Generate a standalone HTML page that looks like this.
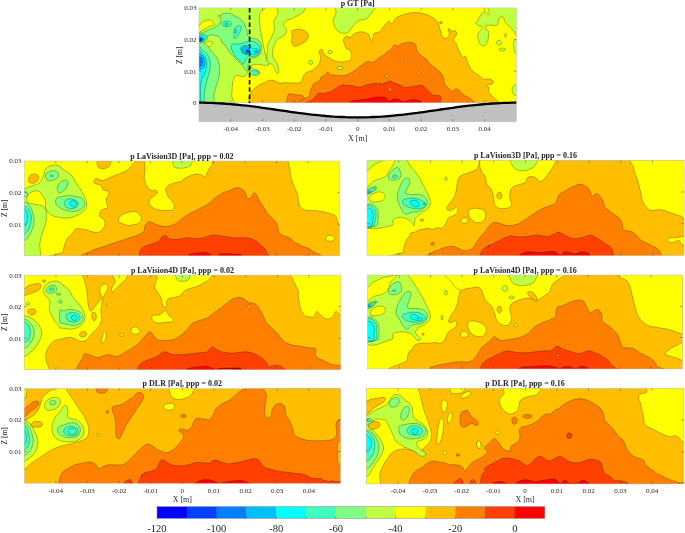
<!DOCTYPE html><html><head><meta charset="utf-8"><style>html,body{margin:0;padding:0;background:#fff;width:685px;height:533px;overflow:hidden}svg{display:block;will-change:transform}text{font-family:"Liberation Serif",serif;fill:#262626}</style></head><body>
<svg width="685" height="533" viewBox="0 0 685 533">
<defs>
<clipPath id="cGT"><rect x="199" y="7.9" width="317.4" height="94.8"/></clipPath>
<clipPath id="cL1"><rect x="24.2" y="161" width="315.5" height="94.8"/></clipPath>
<clipPath id="cR1"><rect x="367" y="160.3" width="317.1" height="95.1"/></clipPath>
<clipPath id="cL2"><rect x="24.2" y="275.1" width="316.6" height="94.6"/></clipPath>
<clipPath id="cR2"><rect x="367.7" y="275" width="314.8" height="93.9"/></clipPath>
<clipPath id="cL3"><rect x="24.2" y="388.4" width="316.2" height="94.8"/></clipPath>
<clipPath id="cR3"><rect x="366.4" y="388.2" width="317.5" height="95.7"/></clipPath>
</defs>
<g clip-path="url(#cGT)">
<rect x="199" y="7.9" width="317.4" height="94.8" fill="#ffff00"/>
<path d="M195.5 5 C206.3 -11.6 249.8 3.3 260.4 5 C271.1 6.7 259.5 11.6 259.4 15 C259.3 18.3 259.7 22.1 259.9 25 C260.2 27.9 260.5 30 260.9 32.5 C261.3 34.9 262 37.7 262.4 39.9 C262.8 42.2 263 44.1 263.4 46.2 C263.8 48.3 264.4 50.3 264.9 52.4 C265.4 54.5 265.9 56.8 266.6 58.7 C267.4 60.6 269.4 62.8 269.1 63.9 C268.9 65 267.3 65.3 265.4 65.4 C263.5 65.5 260.2 64.4 257.9 64.4 C255.6 64.4 253.1 64.9 251.7 65.4 C250.2 65.9 250.1 65.8 249.2 67.4 C248.3 69 247.4 73.4 246.2 74.9 C245 76.4 243.4 76.3 241.9 76.4 C240.5 76.5 238.7 75.2 237.4 75.4 C236.2 75.6 235.2 76.6 234.4 77.6 C233.7 78.6 233.3 79.7 232.9 81.4 C232.6 83.1 232.4 85.5 232.2 87.9 C232 90.2 232 92.5 231.7 95.4 C231.5 98.2 236.7 103.3 230.7 104.8 C224.7 106.4 201.4 121.5 195.5 104.8 C189.6 88.2 184.7 21.6 195.5 5Z" fill="#bfff40" stroke="#000" stroke-opacity=".55" stroke-width=".5"/>
<path d="M280.2 2.5 C284.8 0.6 301.1 1.5 305.3 2.5 C309.5 3.5 305.6 6.8 305.3 8.4 C305 10 304.4 10.8 303.4 11.9 C302.4 13 300.6 14.1 299 15 C297.4 16 295.5 16.8 294 17.6 C292.5 18.3 291.4 19 290.2 19.4 C289.1 19.9 288 19.5 287.1 20.1 C286.1 20.6 285.2 21.6 284.6 22.6 C283.9 23.5 283.2 24.9 283.3 25.7 C283.4 26.6 284.6 27 285.2 27.6 C285.8 28.2 286.6 28.4 286.7 29.5 C286.8 30.5 286.7 32.6 285.8 33.9 C284.9 35.1 282.8 36.1 281.4 37 C280.1 38 278.7 38.6 277.7 39.5 C276.6 40.5 275.9 41.3 275.2 42.7 C274.4 44 273.7 46 273.3 47.7 C272.9 49.4 272.6 51 272.6 52.7 C272.6 54.4 272.7 56.3 273.3 57.7 C273.8 59.2 275 60.2 275.8 61.5 C276.5 62.8 277.1 63.8 277.7 65.3 C278.2 66.7 278.8 68.9 278.9 70.3 C279 71.6 278.7 73 278.3 73.4 C277.9 73.8 277 73.7 276.4 72.8 C275.8 71.9 275.3 69.2 274.5 67.8 C273.8 66.4 273 65 272 64.3 C271.1 63.5 269.7 64 268.9 63.4 C268 62.7 267.3 61.6 267 60.2 C266.7 58.9 266.9 56.9 267 55.2 C267.1 53.5 267.2 52.1 267.4 50.2 C267.5 48.3 267.2 46 267.9 43.9 C268.5 41.8 270.3 40.2 271.4 37.6 C272.5 35.1 274.1 31.6 274.5 28.9 C274.9 26.1 273.4 23.8 273.9 21.3 C274.4 18.8 276.6 16.9 277.7 13.8 C278.7 10.6 275.6 4.4 280.2 2.5Z" fill="#bfff40" stroke="#000" stroke-opacity=".55" stroke-width=".5"/>
<path d="M199 27 C199.4 26.3 199.7 24.8 200.5 23.8 C201.3 22.9 202.6 21.9 203.6 21.3 C204.7 20.7 205.7 20.6 206.8 20.3 C207.8 20.1 209 19.8 209.9 19.8 C210.8 19.9 211.4 20.1 212.1 20.7 C212.7 21.3 213.2 22.5 213.7 23.2 C214.2 23.9 215.2 24.4 214.9 24.8 C214.7 25.3 213.3 25.5 212.4 25.7 C211.6 25.9 210.8 25.8 209.9 26.1 C209.1 26.4 208.3 27.1 207.4 27.6 C206.6 28.1 205.7 28.7 204.9 29.1 C204.1 29.5 203.2 29.6 202.4 30.1 C201.6 30.6 200.6 31.5 199.9 32 C199.2 32.5 198.3 34 198 33.2 C197.7 32.5 197.8 28.6 198 27.6 C198.2 26.6 198.6 27.6 199 27Z" fill="#ffff00" stroke="#000" stroke-opacity=".55" stroke-width=".5"/>
<path d="M202.4 46.4 C202.4 45.7 202.9 44.7 203.6 43.9 C204.4 43.2 205.7 42.5 206.8 42 C207.8 41.6 209 41.2 209.9 41.2 C210.8 41.2 211.7 41.5 212.1 42 C212.4 42.6 212.3 43.8 211.8 44.5 C211.3 45.3 210.2 45.9 209.3 46.4 C208.4 47 207.1 47.4 206.2 47.7 C205.2 48 204.3 48.5 203.6 48.3 C203 48.1 202.4 47.2 202.4 46.4Z" fill="#ffff00" stroke="#000" stroke-opacity=".55" stroke-width=".5"/>
<path d="M220.3 16.3 C220.3 16.5 220.3 16.7 220.2 16.8 C220.1 16.9 219.9 17.1 219.7 17.2 C219.5 17.3 219.3 17.3 219.1 17.3 C218.9 17.3 218.6 17.3 218.5 17.2 C218.3 17.1 218.1 16.9 218 16.8 C217.9 16.7 217.8 16.5 217.8 16.3 C217.8 16.1 217.9 15.9 218 15.8 C218.1 15.7 218.3 15.5 218.5 15.4 C218.6 15.3 218.9 15.3 219.1 15.3 C219.3 15.3 219.5 15.3 219.7 15.4 C219.9 15.5 220.1 15.7 220.2 15.8 C220.3 15.9 220.3 16.1 220.3 16.3Z" fill="#ffff00" stroke="#000" stroke-opacity=".55" stroke-width=".5"/>
<path d="M220.6 15 C221 14.3 222.1 13.9 223.1 13.5 C224.2 13.2 225.5 13.1 226.9 13.2 C228.2 13.2 230 13.4 231.3 13.8 C232.5 14.2 233.3 15 234.4 15.7 C235.6 16.3 237 16.8 238.2 17.6 C239.3 18.3 240.4 19.1 241.3 20.1 C242.3 21 243.1 22.1 243.8 23.2 C244.6 24.4 245.2 25.7 245.7 27 C246.2 28.2 246.6 29.5 247 30.7 C247.3 32 247.3 33.5 247.6 34.5 C247.9 35.5 248.1 36.4 248.8 37 C249.6 37.6 250.8 38 252 38.3 C253.1 38.6 254.6 38.5 255.8 38.9 C256.9 39.3 258.1 39.9 258.9 40.8 C259.7 41.6 260.4 42.8 260.8 43.9 C261.2 45.1 261.4 46.4 261.4 47.7 C261.4 48.9 261.1 50.3 260.8 51.5 C260.5 52.6 260.1 53.8 259.5 54.6 C258.9 55.4 257.9 56 257 56.5 C256.1 57 254.9 57.3 253.9 57.7 C252.8 58.1 251.6 58.4 250.7 59 C249.9 59.6 249.3 60.5 248.8 61.5 C248.4 62.5 248.1 64 248 65.3 C247.9 66.5 248 67.8 248.2 69 C248.5 70.3 248.6 72.1 249.5 72.8 C250.3 73.5 252 73.1 253.2 73.4 C254.5 73.7 256 74.8 257 74.7 C258.1 74.6 259.3 73.5 259.5 72.8 C259.7 72.1 259.3 70.9 258.3 70.3 C257.2 69.7 254.4 69.6 253.2 69 C252.1 68.5 252.2 66.9 251.4 67 C250.5 67.1 249.2 69 248.2 69.5 C247.3 70 246.4 70.4 245.7 70.1 C245 69.8 244.5 68.5 243.8 67.6 C243.2 66.8 242.7 65.9 241.9 65.1 C241.2 64.3 240.5 63.6 239.4 62.6 C238.4 61.6 236.9 60.1 235.7 58.8 C234.4 57.6 233.2 56.5 231.9 55.1 C230.6 53.6 229.3 51.7 228.1 50 C227 48.4 226 46.3 225 45 C223.9 43.8 222.5 43.6 221.9 42.7 C221.2 41.7 221.6 40.5 221.2 39.5 C220.8 38.6 220.1 37.6 219.3 37 C218.6 36.4 217.8 36.1 216.8 35.8 C215.9 35.4 214.7 35.3 213.7 35.1 C212.6 35 211.6 34.8 210.6 34.9 C209.5 35 208.4 35.4 207.4 35.8 C206.5 36.1 205.6 36.5 204.9 37 C204.2 37.5 203.6 38.2 203 38.6 C202.4 39.1 202 39.4 201.1 39.9 C200.3 40.4 198.5 42.4 198 41.4 C197.5 40.4 197.6 35.2 198 33.9 C198.4 32.5 199.5 33.6 200.5 33.2 C201.6 32.9 203 32.5 204.3 32 C205.5 31.5 206.8 30.6 208 30.1 C209.3 29.6 210.6 29.4 211.8 28.9 C213.1 28.3 214.4 27.7 215.6 27 C216.7 26.2 217.9 25.4 218.7 24.5 C219.6 23.5 220.2 22.4 220.6 21.3 C221 20.3 220.8 19.2 220.8 18.2 C220.8 17.1 220.2 15.8 220.6 15Z" fill="#80ff80" stroke="#000" stroke-opacity=".55" stroke-width=".5"/>
<path d="M196.7 40 C197.8 29.5 201.1 41.5 203 42.5 C204.9 43.6 206.6 44.7 208 46.3 C209.5 47.8 210.3 50 211.8 51.9 C213.3 53.8 215.6 55.4 216.8 57.6 C218.1 59.8 218.9 62.6 219.3 65.1 C219.8 67.6 219.8 70.1 219.6 72.6 C219.4 75.2 218.8 77.7 218.1 80.2 C217.4 82.7 216.3 85.2 215.6 87.7 C214.8 90.2 214.1 92.3 213.7 95.2 C213.3 98.2 215.9 103.6 213.1 105.3 C210.2 107 199.5 116.2 196.7 105.3 C194 94.4 195.7 50.5 196.7 40Z" fill="#80ff80" stroke="#000" stroke-opacity=".55" stroke-width=".5"/>
<path d="M196.7 48.8 C197.8 39.7 201.2 50.1 203 51 C204.8 52 206.3 52.9 207.4 54.4 C208.6 55.9 209.4 58.1 209.9 60.1 C210.4 62.1 210.4 64.3 210.3 66.4 C210.2 68.5 209.8 70.5 209.3 72.6 C208.8 74.7 208 76.6 207.4 78.9 C206.8 81.2 206.1 83.9 205.5 86.5 C205 89 204.6 90.8 204.3 94 C204 97.1 204.9 103.4 203.6 105.3 C202.4 107.2 197.9 114.7 196.7 105.3 C195.6 95.9 195.7 57.8 196.7 48.8Z" fill="#40ffbf" stroke="#000" stroke-opacity=".55" stroke-width=".5"/>
<path d="M198 34.5 C198.6 33 200.5 34 201.8 34.1 C203 34.2 204.6 34.7 205.5 35.1 C206.5 35.6 207.2 36.3 207.4 37 C207.6 37.7 207.3 38.8 206.8 39.5 C206.3 40.3 205.2 40.9 204.3 41.4 C203.3 41.9 202.2 42.4 201.1 42.7 C200.1 43 198.5 44.7 198 43.3 C197.5 41.9 197.4 36 198 34.5Z" fill="#40ffbf" stroke="#000" stroke-opacity=".55" stroke-width=".5"/>
<path d="M221.9 23.8 C221.7 23.1 222.4 22.4 223.1 21.9 C223.8 21.5 225.2 21.2 226.2 21.1 C227.3 21 228.5 21 229.4 21.3 C230.2 21.7 231.1 22.5 231.3 23.2 C231.5 23.9 231.3 25.2 230.6 25.7 C230 26.2 228.7 26.3 227.5 26.3 C226.4 26.4 224.7 26.5 223.7 26.1 C222.8 25.7 222 24.5 221.9 23.8Z" fill="#40ffbf" stroke="#000" stroke-opacity=".55" stroke-width=".5"/>
<path d="M233.8 33.9 C233.8 32.4 233.9 30.7 234.4 29.5 C234.9 28.2 236 27 236.9 26.3 C237.9 25.7 239.3 25.4 240.1 25.7 C240.8 26 241.4 27.1 241.3 28.2 C241.2 29.4 240.2 31.2 239.4 32.6 C238.7 34.1 237.8 36.1 236.9 37 C236.1 38 234.9 38.8 234.4 38.3 C233.9 37.7 233.8 35.3 233.8 33.9Z" fill="#40ffbf" stroke="#000" stroke-opacity=".55" stroke-width=".5"/>
<path d="M231.3 45.2 C231.7 44.1 233 44.1 234.4 43.9 C235.8 43.7 237.8 44.1 239.4 43.9 C241.1 43.7 243 43.1 244.5 42.7 C245.9 42.2 246.8 41.6 248.2 41.4 C249.7 41.2 251.8 41.1 253.2 41.4 C254.7 41.7 256 42.5 257 43.3 C258.1 44.1 259 45.3 259.5 46.4 C260 47.6 260.3 48.9 260.1 50.2 C260 51.5 259.6 53 258.9 54 C258.2 54.9 256.9 55.4 255.8 55.8 C254.6 56.3 253.2 56.3 252 56.5 C250.7 56.7 249.3 56.7 248.2 57.1 C247.2 57.5 246.3 58 245.7 59 C245.1 59.9 245 61.9 244.5 62.8 C243.9 63.6 243.2 64.2 242.6 64 C241.9 63.8 241.4 62.3 240.7 61.5 C240 60.7 239 59.7 238.2 59 C237.3 58.3 236.4 57.9 235.7 57.1 C234.9 56.3 234.4 55.1 233.8 54 C233.2 52.8 232.3 51.7 231.9 50.2 C231.5 48.7 230.9 46.2 231.3 45.2Z" fill="#40ffbf" stroke="#000" stroke-opacity=".55" stroke-width=".5"/>
<path d="M250.1 72 C250.5 71.4 252.1 70.9 253.2 70.8 C254.4 70.6 256 70.8 257 71.1 C258 71.5 259.2 72.3 259.3 72.9 C259.4 73.5 258.5 74.5 257.6 74.9 C256.7 75.3 255 75.5 253.9 75.4 C252.7 75.3 251.4 74.7 250.7 74.1 C250.1 73.6 249.7 72.6 250.1 72Z" fill="#40ffbf" stroke="#000" stroke-opacity=".55" stroke-width=".5"/>
<path d="M196.7 51.9 C197.6 43.3 200.3 52.6 201.8 53.6 C203.2 54.5 204.7 55.9 205.5 57.6 C206.4 59.3 206.8 61.6 206.8 63.9 C206.8 66.2 206.2 69.3 205.5 71.4 C204.9 73.5 203.8 74.7 203 76.4 C202.3 78.1 201.6 79.1 201.1 81.4 C200.7 83.7 200.7 86.2 200.5 90.2 C200.4 94.2 200.9 102.8 200.3 105.3 C199.6 107.8 197.3 114.2 196.7 105.3 C196.2 96.4 195.9 60.5 196.7 51.9Z" fill="#00ffff" stroke="#000" stroke-opacity=".55" stroke-width=".5"/>
<path d="M198 36.4 C198.6 35.4 200.7 35.7 201.8 35.8 C202.8 35.9 203.8 36.5 204.3 37 C204.8 37.5 205.1 38.3 204.9 38.9 C204.7 39.5 203.8 40.3 203 40.8 C202.3 41.2 201.3 41.5 200.5 41.7 C199.7 41.8 198.4 42.5 198 41.7 C197.6 40.8 197.4 37.4 198 36.4Z" fill="#00ffff" stroke="#000" stroke-opacity=".55" stroke-width=".5"/>
<path d="M240.7 47.7 C241 46.8 242.2 46.2 243.2 45.8 C244.2 45.4 245.7 45.1 247 45.2 C248.2 45.3 249.7 45.8 250.7 46.4 C251.8 47.1 252.4 48.6 253.2 48.9 C254.1 49.3 254.9 48.2 255.8 48.3 C256.6 48.4 257.9 48.8 258.3 49.6 C258.6 50.3 258.3 52 257.6 52.7 C257 53.4 255.6 53.6 254.5 54 C253.3 54.3 252 54.5 250.7 54.6 C249.5 54.7 248.2 54.8 247 54.6 C245.7 54.4 244.1 54 243.2 53.3 C242.3 52.7 241.7 51.8 241.3 50.8 C240.9 49.9 240.4 48.5 240.7 47.7Z" fill="#00ffff" stroke="#000" stroke-opacity=".55" stroke-width=".5"/>
<path d="M236.7 31.4 C236.7 31.7 236.6 32 236.5 32.2 C236.5 32.5 236.3 32.7 236.2 32.9 C236 33 235.8 33.1 235.7 33.1 C235.5 33.1 235.3 33 235.2 32.9 C235 32.7 234.9 32.5 234.8 32.2 C234.7 32 234.7 31.7 234.7 31.4 C234.7 31.1 234.7 30.7 234.8 30.5 C234.9 30.2 235 30 235.2 29.8 C235.3 29.7 235.5 29.6 235.7 29.6 C235.8 29.6 236 29.7 236.2 29.8 C236.3 30 236.5 30.2 236.5 30.5 C236.6 30.7 236.7 31.1 236.7 31.4Z" fill="#00ffff" stroke="#000" stroke-opacity=".55" stroke-width=".5"/>
<path d="M228.4 24.1 C228.4 24.3 228.3 24.4 228.1 24.6 C228 24.7 227.8 24.9 227.5 25 C227.2 25 226.9 25.1 226.6 25.1 C226.3 25.1 226 25 225.7 25 C225.5 24.9 225.2 24.7 225.1 24.6 C225 24.4 224.9 24.3 224.9 24.1 C224.9 23.9 225 23.7 225.1 23.6 C225.2 23.4 225.5 23.3 225.7 23.2 C226 23.1 226.3 23.1 226.6 23.1 C226.9 23.1 227.2 23.1 227.5 23.2 C227.8 23.3 228 23.4 228.1 23.6 C228.3 23.7 228.4 23.9 228.4 24.1Z" fill="#00ffff" stroke="#000" stroke-opacity=".55" stroke-width=".5"/>
<path d="M196.7 54.1 C197.6 51.6 200.5 54.3 201.8 55.1 C203 55.9 203.8 57.4 204.3 58.8 C204.8 60.3 205 62.4 204.9 63.9 C204.8 65.3 204.3 66.7 203.6 67.6 C203 68.5 202.3 68.8 201.1 69.1 C200 69.5 197.5 72.1 196.7 69.6 C196 67.1 195.9 56.5 196.7 54.1Z" fill="#00bfff" stroke="#000" stroke-opacity=".55" stroke-width=".5"/>
<path d="M196.7 56.1 C197.5 54.6 200.2 56.8 201.1 57.6 C202.1 58.4 202.3 59.6 202.4 60.7 C202.5 61.9 202.2 63.5 201.8 64.5 C201.3 65.4 200.7 66 199.9 66.4 C199 66.7 197.3 68.3 196.7 66.6 C196.2 64.9 196 57.6 196.7 56.1Z" fill="#0080ff" stroke="#000" stroke-opacity=".55" stroke-width=".5"/>
<path d="M241.9 48.3 C242.4 47.4 244 46.5 245.1 46.4 C246.1 46.3 247.5 47.1 248.2 47.7 C249 48.3 249.5 49.4 249.5 50.2 C249.5 51 249 52.1 248.2 52.7 C247.5 53.3 246 53.8 245.1 53.7 C244.1 53.6 243.1 53 242.6 52.1 C242 51.2 241.5 49.3 241.9 48.3Z" fill="#00bfff" stroke="#000" stroke-opacity=".55" stroke-width=".5"/>
<path d="M257.5 51.5 C257.5 51.7 257.4 51.9 257.3 52.1 C257.2 52.3 257 52.4 256.8 52.5 C256.5 52.6 256.3 52.7 256 52.7 C255.8 52.7 255.5 52.6 255.2 52.5 C255 52.4 254.8 52.3 254.7 52.1 C254.6 51.9 254.5 51.7 254.5 51.5 C254.5 51.2 254.6 51 254.7 50.8 C254.8 50.6 255 50.5 255.2 50.4 C255.5 50.3 255.8 50.2 256 50.2 C256.3 50.2 256.5 50.3 256.8 50.4 C257 50.5 257.2 50.6 257.3 50.8 C257.4 51 257.5 51.2 257.5 51.5Z" fill="#00bfff" stroke="#000" stroke-opacity=".55" stroke-width=".5"/>
<path d="M198 37.4 C198.5 36.7 200.3 37.2 201.1 37.4 C202 37.6 202.8 38.1 203 38.6 C203.2 39.1 202.8 39.9 202.4 40.4 C202 40.9 201.2 41.2 200.5 41.4 C199.8 41.6 198.4 42.1 198 41.4 C197.6 40.7 197.5 38.1 198 37.4Z" fill="#0080ff" stroke="#000" stroke-opacity=".55" stroke-width=".5"/>
<path d="M202 39.7 C202 39.8 201.9 40 201.8 40.2 C201.7 40.3 201.5 40.4 201.3 40.5 C201 40.6 200.8 40.7 200.5 40.7 C200.3 40.7 200 40.6 199.8 40.5 C199.5 40.4 199.3 40.3 199.2 40.2 C199.1 40 199 39.8 199 39.7 C199 39.5 199.1 39.3 199.2 39.1 C199.3 39 199.5 38.9 199.8 38.8 C200 38.7 200.3 38.6 200.5 38.6 C200.8 38.6 201 38.7 201.3 38.8 C201.5 38.9 201.7 39 201.8 39.1 C201.9 39.3 202 39.5 202 39.7Z" fill="#0040ff" stroke="#000" stroke-opacity=".55" stroke-width=".5"/>
<path d="M249.1 51.2 C249.1 51.5 249 51.8 248.9 52.1 C248.8 52.3 248.6 52.6 248.3 52.7 C248.1 52.9 247.8 53 247.6 53 C247.3 53 247.1 52.9 246.8 52.7 C246.6 52.6 246.4 52.3 246.3 52.1 C246.2 51.8 246.1 51.5 246.1 51.2 C246.1 50.9 246.2 50.6 246.3 50.3 C246.4 50.1 246.6 49.8 246.8 49.7 C247.1 49.5 247.3 49.4 247.6 49.4 C247.8 49.4 248.1 49.5 248.3 49.7 C248.6 49.8 248.8 50.1 248.9 50.3 C249 50.6 249.1 50.9 249.1 51.2Z" fill="#0040ff" stroke="#000" stroke-opacity=".55" stroke-width=".5"/>
<path d="M248.8 110.3 C206.9 109 248.8 104.6 248.8 102.5 C248.8 100.4 248.5 99.4 248.8 97.8 C249.2 96.1 249.9 94.2 250.7 92.7 C251.6 91.3 252.8 90 253.9 89 C254.9 87.9 255.9 87.3 257 86.5 C258.2 85.6 259.5 84.6 260.8 83.9 C262 83.3 263.4 83.2 264.5 82.7 C265.7 82.2 266.6 81.2 267.7 80.8 C268.7 80.4 269.7 80.2 270.8 80.2 C272 80.2 273.3 80.4 274.6 80.8 C275.8 81.2 277.3 82.3 278.4 82.7 C279.4 83.1 279.9 83.3 280.9 83.3 C281.8 83.3 280.8 82.8 284 82.7 C287.2 82.6 296.9 83.5 300 82.7 C303.1 81.8 301.7 79.1 302.5 77.7 C303.3 76.2 304.2 74.8 305 73.9 C305.9 73 306.5 72.5 307.5 72 C308.6 71.5 310 71.4 311.3 70.8 C312.6 70.1 313.9 69.2 315.1 68.2 C316.2 67.3 317.4 66.3 318.2 65.1 C319 64 319.7 62.6 320.1 61.3 C320.5 60.1 320.8 58.8 320.7 57.6 C320.6 56.3 319.8 54.9 319.5 53.8 C319.1 52.8 318.6 52 318.8 51.3 C319 50.6 320.1 49.6 320.7 49.4 C321.3 49.2 322.2 49.5 322.6 50 C323 50.6 322.8 51.7 323.2 52.6 C323.6 53.4 324.2 54.2 325.1 55.1 C326.1 55.9 327.6 56.7 328.9 57.6 C330.1 58.4 331.4 59.5 332.6 60.1 C333.9 60.7 334.9 61 336.4 61.3 C337.9 61.7 339.8 62 341.4 62 C343.1 62 345 61.7 346.5 61.3 C347.9 61 349.4 60.7 350.2 60.1 C351.1 59.5 351.3 58.6 351.5 57.6 C351.7 56.5 351.7 54.9 351.5 53.8 C351.3 52.8 350.6 52 350.2 51.3 C349.8 50.6 349.6 49.8 349 49.4 C348.3 49 347.1 49.3 346.5 48.8 C345.8 48.3 345.6 47.3 345.2 46.3 C344.8 45.2 344.3 43.6 343.9 42.5 C343.6 41.5 343.2 40.8 343.3 40 C343.4 39.2 343.8 38.2 344.6 37.6 C345.3 37 346.8 36.3 347.7 36.3 C348.6 36.3 349.4 37.8 350.2 37.6 C351.1 37.4 351.9 35.8 352.7 35.1 C353.6 34.3 354.2 33.7 355.2 33.2 C356.3 32.7 357.8 32.1 359 31.9 C360.3 31.7 361.5 31.7 362.8 31.9 C364 32.1 365.5 32.7 366.5 33.2 C367.6 33.7 368.4 34.1 369.1 35.1 C369.7 36 369.9 37.9 370.3 38.8 C370.7 39.8 371.1 40.7 371.6 40.7 C372 40.7 372.4 40 372.8 38.8 C373.2 37.7 373.4 34.9 374.1 33.8 C374.7 32.8 375.5 33 376.6 32.6 C377.6 32.1 379.3 32.1 380.4 31.3 C381.4 30.5 382.1 28.6 382.9 27.5 C383.6 26.5 384.3 25.9 385 25.1 C385.7 24.3 386.2 23.2 386.9 22.6 C387.6 21.9 388.7 21.1 389.4 21.3 C390.1 21.5 390.7 23.6 391.3 23.8 C391.9 24 392.6 23.4 393.2 22.6 C393.8 21.7 394.1 19.9 395.1 18.8 C396 17.8 397.4 17 398.8 16.3 C400.3 15.6 402.2 14.9 403.9 14.4 C405.5 13.9 407 13.5 408.9 13.2 C410.8 12.8 413.1 12.5 415.2 12.5 C417.2 12.5 419.3 12.7 421.4 13.2 C423.5 13.6 425.8 14.3 427.7 15 C429.6 15.8 431.4 16.7 432.7 17.6 C434.1 18.4 435 19.2 435.9 20.1 C436.7 20.9 437.2 21.6 437.8 22.6 C438.3 23.5 438.6 24.5 439 25.7 C439.4 27 439.8 28.5 440.3 30.1 C440.7 31.7 441 33.9 441.5 35.1 C442 36.4 442.6 37.1 443.4 37.6 C444.2 38.2 445.6 38.6 446.5 38.3 C447.5 38 448.6 36.7 449.1 35.8 C449.5 34.8 449.3 33.7 449.1 32.6 C448.8 31.6 447.7 30.1 447.8 29.5 C447.9 28.9 449.1 28.5 449.7 28.9 C450.3 29.2 450.8 31.1 451.6 31.4 C452.3 31.7 453.3 30.7 454.1 30.7 C454.8 30.7 455.5 30.8 456 31.4 C456.4 31.9 456.7 33 456.6 33.9 C456.5 34.7 455.9 35.5 455.3 36.4 C454.8 37.2 453.6 38.1 453.4 38.9 C453.3 39.7 454 40.6 454.5 41.4 C455 42.2 455.8 42.9 456.4 43.9 C456.9 45 457.1 46.4 457.6 47.7 C458.1 48.9 458.9 50.2 459.5 51.5 C460.1 52.7 460.9 54.2 461.4 55.2 C461.9 56.3 462.1 57.5 462.6 57.7 C463.2 57.9 463.9 56.5 464.5 56.5 C465.2 56.5 466 57 466.4 57.7 C466.8 58.5 466.7 59.8 467 60.9 C467.4 61.9 467.8 62.9 468.3 64 C468.8 65.2 469.9 67.1 470.2 67.8 C470.5 68.5 469.7 67.6 470.2 68.2 C470.7 68.9 472.3 70.4 473.3 71.4 C474.4 72.3 475.4 73.2 476.5 73.9 C477.5 74.6 478.8 75.2 479.6 75.8 C480.4 76.4 480.7 77 481.5 77.7 C482.2 78.3 482.9 79.3 484 79.5 C485 79.8 486.5 78.9 487.8 78.9 C489 78.9 490.6 79 491.5 79.5 C492.5 80.1 493.3 81.3 493.4 82.1 C493.5 82.8 492.9 83.5 492.1 83.9 C491.4 84.4 489.8 84.3 489 84.6 C488.2 84.9 487.1 85.3 487.1 85.8 C487.1 86.3 488.8 86.8 489 87.7 C489.2 88.6 488.2 90.4 488.4 91.5 C488.6 92.5 489.5 93.1 490.3 94 C491 94.8 491.9 95.7 492.8 96.5 C493.6 97.3 494.6 98.3 495.3 99 C496 99.7 496.5 100.3 497.2 100.9 C497.8 101.5 498.5 101 499.1 102.5 C499.6 104.1 542 109 500.3 110.3 C458.6 111.6 290.8 111.6 248.8 110.3Z" fill="#ffbf00" stroke="#000" stroke-opacity=".55" stroke-width=".5"/>
<path d="M291.6 31.2 C292.3 30.3 294.7 29.7 296.6 29.5 C298.5 29.2 301 29.2 302.8 30 C304.7 30.7 307 32.2 307.8 33.7 C308.7 35.2 308.5 37.2 307.8 38.7 C307.2 40.1 305.6 41.4 304.1 42.4 C302.6 43.5 300.8 44.3 299.1 44.9 C297.4 45.6 295.4 46.8 294.1 46.2 C292.9 45.6 291.9 43.1 291.6 41.2 C291.3 39.3 292.4 36.6 292.4 34.9 C292.4 33.3 290.9 32.1 291.6 31.2Z" fill="#ffbf00" stroke="#000" stroke-opacity=".55" stroke-width=".5"/>
<path d="M442.4 22.6 C442.4 22.7 442.3 22.9 442.2 23.1 C442.1 23.2 441.9 23.4 441.6 23.4 C441.4 23.5 441.1 23.6 440.9 23.6 C440.6 23.6 440.4 23.5 440.1 23.4 C439.9 23.4 439.7 23.2 439.6 23.1 C439.5 22.9 439.4 22.7 439.4 22.6 C439.4 22.4 439.5 22.2 439.6 22.1 C439.7 21.9 439.9 21.8 440.1 21.7 C440.4 21.6 440.6 21.6 440.9 21.6 C441.1 21.6 441.4 21.6 441.6 21.7 C441.9 21.8 442.1 21.9 442.2 22.1 C442.3 22.2 442.4 22.4 442.4 22.6Z" fill="#ffbf00" stroke="#000" stroke-opacity=".55" stroke-width=".5"/>
<path d="M288.2 94.5 C289.1 92.7 291.8 94.3 293.5 94.4 C295.3 94.4 297.3 94.8 298.8 95 C300.2 95.1 301.4 94.9 302.3 95.4 C303.1 95.9 303.4 96.4 304 98 C304.6 99.6 308.4 103.9 305.8 105 C303.1 106.2 291.2 106.8 288.2 105 C285.3 103.3 287.4 96.3 288.2 94.5Z" fill="#ff8000" stroke="#000" stroke-opacity=".55" stroke-width=".5"/>
<path d="M310.1 106.8 C282.7 104.3 309.7 98 309.7 95.4 C309.7 92.8 309.8 92.3 310.1 91 C310.5 89.7 311.3 88.7 311.9 87.5 C312.5 86.4 312.9 84.9 313.6 84 C314.4 83.1 315.3 82.8 316.3 82.3 C317.3 81.7 319.1 81.2 319.8 80.5 C320.5 79.8 320.2 78.6 320.7 77.9 C321.1 77.2 321.5 76.7 322.4 76.1 C323.3 75.5 325 75.1 325.9 74.4 C326.8 73.6 327.2 71.8 327.7 71.8 C328.2 71.7 328.4 73.4 329 73.9 C329.6 74.5 330.1 74.6 331.2 74.8 C332.3 75 333.6 75.1 335.5 75.3 C337.5 75.4 340.7 75.9 342.7 75.8 C344.7 75.7 346.2 75 347.7 74.5 C349.2 74 350.2 73.4 351.5 72.6 C352.7 71.9 354 71.1 355.2 70.1 C356.5 69.2 357.8 67.9 359 67 C360.3 66.1 361.7 65.2 362.8 64.5 C363.8 63.7 364.3 63.1 365.3 62.6 C366.2 62.1 367.5 61.3 368.4 61.3 C369.4 61.3 370 62.5 370.9 62.6 C371.9 62.7 372.9 62.6 374.1 62 C375.2 61.3 376.6 59.8 377.8 58.8 C379.1 57.9 380.2 57.2 381.6 56.3 C383 55.5 385.2 54.5 386 53.8 C386.8 53.1 385.6 52.7 386.3 52.1 C387 51.5 389 50.9 390 50.2 C391.1 49.5 391.9 48.5 392.6 47.7 C393.2 46.8 393.2 45.6 393.8 45.2 C394.4 44.8 395.7 45 396.3 45.2 C396.9 45.4 396.9 46.5 397.6 46.4 C398.2 46.3 399 45.1 400.1 44.5 C401.1 44 402.6 43.6 403.9 43.3 C405.1 42.9 406.4 42.5 407.6 42.4 C408.9 42.3 410.3 42.5 411.4 42.7 C412.4 42.8 413.2 42.9 413.9 43.3 C414.6 43.7 415.4 44.3 415.8 45.2 C416.2 46 416.2 47.4 416.4 48.3 C416.6 49.3 416.6 50 417 50.8 C417.5 51.7 418.2 52.5 418.9 53.3 C419.7 54.2 420.6 55.1 421.4 55.8 C422.3 56.6 423.1 57.2 423.9 57.7 C424.8 58.3 425.8 58.4 426.5 59 C427.1 59.6 427.1 60.7 427.7 61.5 C428.3 62.3 429.4 63.2 430.2 64 C431.1 64.8 431.9 65.9 432.7 66.5 C433.6 67.1 434.3 67.1 435.2 67.8 C436.2 68.5 437.5 69.9 438.4 70.8 C439.2 71.6 439.6 72 440.3 72.6 C440.9 73.3 441.6 73.7 442.1 74.5 C442.7 75.4 443.1 76.5 443.4 77.7 C443.7 78.8 443.7 80.2 444 81.4 C444.3 82.7 444.7 84.2 445.3 85.2 C445.9 86.2 447 86.9 447.8 87.7 C448.6 88.5 449.6 89.6 450.3 90.2 C451 90.8 451.6 91.6 452.2 91.5 C452.8 91.4 453.3 90 454.1 89.6 C454.8 89.2 455.7 88.9 456.6 89 C457.4 89.1 458.3 89.6 459.1 90.2 C459.9 90.8 460.6 91.9 461.4 92.7 C462.2 93.6 463.1 94.6 463.9 95.2 C464.7 95.9 465.6 96.1 466.4 96.5 C467.2 96.9 468.1 97.2 468.9 97.8 C469.8 98.3 470.7 99 471.4 99.6 C472.2 100.3 472.8 99.7 473.3 101.5 C473.8 103.3 501.8 109.4 474.6 110.3 C447.4 111.2 337.6 109.3 310.1 106.8Z" fill="#ff8000" stroke="#000" stroke-opacity=".55" stroke-width=".5"/>
<path d="M407.5 59.7 C407.5 59.9 407.4 60.2 407.3 60.3 C407.1 60.5 406.9 60.7 406.6 60.8 C406.4 60.9 406 61 405.7 61 C405.4 61 405.1 60.9 404.9 60.8 C404.6 60.7 404.4 60.5 404.2 60.3 C404.1 60.2 404 59.9 404 59.7 C404 59.5 404.1 59.3 404.2 59.1 C404.4 58.9 404.6 58.7 404.9 58.6 C405.1 58.5 405.4 58.5 405.7 58.5 C406 58.5 406.4 58.5 406.6 58.6 C406.9 58.7 407.1 58.9 407.3 59.1 C407.4 59.3 407.5 59.5 407.5 59.7Z" fill="#ffbf00" stroke="#000" stroke-opacity=".55" stroke-width=".5"/>
<path d="M388.8 76 C388.8 76.3 388.7 76.6 388.5 76.8 C388.4 77 388.1 77.2 387.8 77.3 C387.6 77.5 387.2 77.5 386.9 77.5 C386.6 77.5 386.2 77.5 386 77.3 C385.7 77.2 385.4 77 385.3 76.8 C385.1 76.6 385 76.3 385 76 C385 75.8 385.1 75.5 385.3 75.3 C385.4 75.1 385.7 74.9 386 74.7 C386.2 74.6 386.6 74.5 386.9 74.5 C387.2 74.5 387.6 74.6 387.8 74.7 C388.1 74.9 388.4 75.1 388.5 75.3 C388.7 75.5 388.8 75.8 388.8 76Z" fill="#ffbf00" stroke="#000" stroke-opacity=".55" stroke-width=".5"/>
<path d="M420.4 72.9 C420.4 73.1 420.3 73.4 420.2 73.6 C420.1 73.9 419.9 74.1 419.7 74.2 C419.5 74.3 419.2 74.4 418.9 74.4 C418.7 74.4 418.4 74.3 418.2 74.2 C417.9 74.1 417.7 73.9 417.6 73.6 C417.5 73.4 417.4 73.1 417.4 72.9 C417.4 72.6 417.5 72.4 417.6 72.1 C417.7 71.9 417.9 71.7 418.2 71.6 C418.4 71.5 418.7 71.4 418.9 71.4 C419.2 71.4 419.5 71.5 419.7 71.6 C419.9 71.7 420.1 71.9 420.2 72.1 C420.3 72.4 420.4 72.6 420.4 72.9Z" fill="#ffbf00" stroke="#000" stroke-opacity=".55" stroke-width=".5"/>
<path d="M312.8 106.8 C291.6 104.9 313.1 100.7 313.6 98.9 C314.2 97.2 315.5 97.2 316.3 96.3 C317 95.4 317.2 94.2 318 93.6 C318.9 93.1 320.4 93.3 321.5 93.2 C322.7 93.1 323.9 93.4 325 93.2 C326.2 93.1 327.4 92.7 328.5 92.3 C329.7 92 330.9 91.7 332 91 C333.2 90.4 334.4 89.2 335.5 88.4 C336.7 87.6 337.9 86.8 339.1 86.2 C340.2 85.6 341.4 85 342.6 84.9 C343.7 84.7 344.4 85.2 346.1 85.3 C347.8 85.5 351 85.5 352.7 85.8 C354.5 86.1 355.2 86.9 356.5 87.1 C357.8 87.3 359 87.3 360.3 87.1 C361.5 86.9 362.8 86.2 364 85.8 C365.3 85.4 366.5 84.9 367.8 84.6 C369.1 84.3 370.3 84.2 371.6 83.9 C372.8 83.7 373.9 83.4 375.3 83.3 C376.8 83.2 379.6 83.1 380.4 83.3 C381.1 83.5 379.4 84.6 380 84.6 C380.6 84.6 382.5 83.7 383.8 83.3 C385 82.9 386.5 82.5 387.5 82.1 C388.6 81.6 389.2 80.8 390 80.8 C390.9 80.8 391.7 81.6 392.6 82.1 C393.4 82.5 394 82.9 395.1 83.3 C396.1 83.7 397.6 84 398.8 84.6 C400.1 85.1 401.6 85.9 402.6 86.5 C403.6 87 404.1 87.6 405.1 87.7 C406.2 87.8 407.6 87.3 408.9 87.1 C410.1 86.9 411.4 86.7 412.6 86.5 C413.9 86.2 415.2 86 416.4 85.8 C417.7 85.6 419.1 85.2 420.2 85.2 C421.2 85.2 421.8 85.4 422.7 85.8 C423.5 86.2 424.4 87 425.2 87.7 C426 88.4 426.9 89.4 427.7 90.2 C428.5 91.1 429.4 91.9 430.2 92.7 C431.1 93.6 431.7 94.8 432.7 95.2 C433.8 95.7 435.3 95.1 436.5 95.2 C437.6 95.3 438.9 95.5 439.6 95.9 C440.4 96.3 440.8 96.8 440.9 97.8 C441 98.7 440.3 99.4 440.3 101.5 C440.3 103.6 462.1 109.4 440.9 110.3 C419.6 111.2 334 108.7 312.8 106.8Z" fill="#ff4000" stroke="#000" stroke-opacity=".55" stroke-width=".5"/>
<path d="M391.3 89.6 C391.3 89.9 391.2 90.2 391.1 90.5 C391 90.7 390.9 91 390.7 91.1 C390.5 91.3 390.3 91.3 390 91.3 C389.8 91.3 389.6 91.3 389.4 91.1 C389.2 91 389.1 90.7 389 90.5 C388.9 90.2 388.8 89.9 388.8 89.6 C388.8 89.3 388.9 89 389 88.7 C389.1 88.5 389.2 88.2 389.4 88.1 C389.6 87.9 389.8 87.8 390 87.8 C390.3 87.8 390.5 87.9 390.7 88.1 C390.9 88.2 391 88.5 391.1 88.7 C391.2 89 391.3 89.3 391.3 89.6Z" fill="#ffbf00" stroke="#000" stroke-opacity=".55" stroke-width=".5"/>
<path d="M350.2 110.3 C338.5 109 349.8 104.1 350.2 102.5 C350.6 101 351.5 101.3 352.7 100.9 C354 100.5 356.1 100.5 357.8 100.3 C359.4 100.1 361.1 99.8 362.8 99.6 C364.4 99.4 366.1 99.3 367.8 99 C369.5 98.7 371.1 98.1 372.8 97.8 C374.5 97.4 376.2 97.2 377.8 97.1 C379.5 97 381.5 97 382.9 97.1 C384.2 97.2 385.2 97.2 386 97.8 C386.8 98.3 386.9 99.7 387.5 100.3 C388.2 100.8 389.2 101 390 100.9 C390.9 100.8 391.7 99.9 392.6 99.6 C393.4 99.3 394 99 395.1 99 C396.1 99 397.8 99.3 398.8 99.6 C399.9 99.9 400.5 100.6 401.3 100.9 C402.2 101.2 403 101.5 403.9 101.5 C404.7 101.5 405.3 101.1 406.4 100.9 C407.4 100.6 408.9 100.2 410.1 100 C411.4 99.8 412.6 99.6 413.9 99.6 C415.2 99.7 416.6 99.9 417.7 100.3 C418.7 100.6 419.7 99.8 420.2 101.5 C420.7 103.2 432.5 108.8 420.8 110.3 C409.1 111.8 362 111.6 350.2 110.3Z" fill="#ff0000" stroke="#000" stroke-opacity=".55" stroke-width=".5"/>
<path d="M339 5 C345.3 3.7 368.5 3.8 374 5 C379.5 6.2 372.7 10.3 372 12 C371.3 13.7 371 13.8 370 15 C369 16.2 367.8 18.1 366 19 C364.2 19.9 361 19.5 359 20.5 C357 21.5 355.5 23.4 354 25 C352.5 26.6 351.2 28.7 350.2 30 C349.1 31.3 348.9 32.1 347.7 32.6 C346.4 33.1 344.4 33.5 342.7 33.2 C341 32.9 339.1 31.9 337.7 30.7 C336.3 29.5 335.2 28.1 334.5 26.3 C333.8 24.5 333.1 22.2 333.3 20 C333.6 17.8 335.1 15.5 336 13 C336.9 10.5 332.7 6.3 339 5Z" fill="#bfff40" stroke="#000" stroke-opacity=".55" stroke-width=".5"/>
<path d="M490.3 5 C495.1 4.1 513.3 -0 517.9 5 C522.5 10 518.2 30.1 517.9 35.1 C517.6 40.2 516.6 35.8 516 35.1 C515.4 34.5 514.8 32.4 514.1 31.4 C513.4 30.3 512.4 29.7 511.6 28.9 C510.8 28 509.9 27.2 509.1 26.3 C508.3 25.5 507.3 24.7 506.6 23.8 C505.9 23 505.2 22.4 504.7 21.3 C504.2 20.3 504 18.3 503.4 17.6 C502.9 16.8 502.2 16.6 501.6 16.6 C500.9 16.6 500.2 16.8 499.7 17.6 C499.2 18.3 498.8 20.1 498.4 21.3 C498 22.6 497.9 24.4 497.2 25.1 C496.4 25.8 495.2 25.3 494 25.3 C492.9 25.3 491.5 25 490.3 25.1 C489 25.2 487.3 25.3 486.5 25.7 C485.7 26.1 485.1 26.9 485.2 27.6 C485.3 28.3 486.5 29.4 487.1 30.1 C487.8 30.8 488.8 30.9 489 32 C489.2 33 488.6 34.8 488.4 36.4 C488.2 38 488.3 39.9 487.8 41.4 C487.2 42.9 486.1 44.4 485.2 45.2 C484.4 45.9 483.6 46 482.7 45.8 C481.9 45.6 481 44.9 480.2 43.9 C479.5 43 478.8 41.6 478.3 40.2 C477.9 38.7 477.5 36.6 477.7 35.1 C477.9 33.7 478.9 32.4 479.6 31.4 C480.3 30.3 481.8 29.7 482.1 28.9 C482.4 28 482.2 27 481.5 26.3 C480.7 25.7 478.6 25.6 477.7 25.1 C476.8 24.6 475.8 24 475.8 23.2 C475.8 22.4 477 21.2 477.7 20.1 C478.4 18.9 479.4 17.6 480.2 16.3 C481.1 15 481.9 13.3 482.7 12.5 C483.6 11.8 484.4 11.6 485.2 11.9 C486.1 12.2 487 14.1 487.8 14.4 C488.5 14.7 489.4 14.4 489.6 13.8 C489.8 13.2 488.9 12.1 489 10.6 C489.1 9.2 485.5 5.9 490.3 5Z" fill="#bfff40" stroke="#000" stroke-opacity=".55" stroke-width=".5"/>
<path d="M501.6 42.7 C501.6 43.1 501.4 43.6 501.2 43.9 C501 44.3 500.7 44.6 500.3 44.8 C499.9 45 499.5 45.2 499.1 45.2 C498.6 45.2 498.2 45 497.8 44.8 C497.4 44.6 497.1 44.3 496.9 43.9 C496.7 43.6 496.5 43.1 496.5 42.7 C496.5 42.2 496.7 41.8 496.9 41.4 C497.1 41 497.4 40.7 497.8 40.5 C498.2 40.3 498.6 40.2 499.1 40.2 C499.5 40.2 499.9 40.3 500.3 40.5 C500.7 40.7 501 41 501.2 41.4 C501.4 41.8 501.6 42.2 501.6 42.7Z" fill="#bfff40" stroke="#000" stroke-opacity=".55" stroke-width=".5"/>
<path d="M505.3 49.6 C505.3 49.8 505.2 50.1 504.9 50.3 C504.6 50.5 504.2 50.7 503.8 50.9 C503.3 51 502.7 51.1 502.2 51.1 C501.7 51.1 501.1 51 500.6 50.9 C500.2 50.7 499.7 50.5 499.5 50.3 C499.2 50.1 499.1 49.8 499.1 49.6 C499.1 49.3 499.2 49 499.5 48.8 C499.7 48.6 500.2 48.4 500.6 48.3 C501.1 48.1 501.7 48.1 502.2 48.1 C502.7 48.1 503.3 48.1 503.8 48.3 C504.2 48.4 504.6 48.6 504.9 48.8 C505.2 49 505.3 49.3 505.3 49.6Z" fill="#bfff40" stroke="#000" stroke-opacity=".55" stroke-width=".5"/>
<path d="M506.5 35.4 C506.5 35.7 506.4 36 506.3 36.3 C506.2 36.5 506.1 36.8 505.9 36.9 C505.7 37.1 505.5 37.1 505.3 37.1 C505.1 37.1 504.9 37.1 504.8 36.9 C504.6 36.8 504.4 36.5 504.3 36.3 C504.3 36 504.2 35.7 504.2 35.4 C504.2 35.1 504.3 34.8 504.3 34.5 C504.4 34.2 504.6 34 504.8 33.9 C504.9 33.7 505.1 33.6 505.3 33.6 C505.5 33.6 505.7 33.7 505.9 33.9 C506.1 34 506.2 34.2 506.3 34.5 C506.4 34.8 506.5 35.1 506.5 35.4Z" fill="#bfff40" stroke="#000" stroke-opacity=".55" stroke-width=".5"/>
<path d="M513.9 41.4 C514.6 40.4 517.2 38.1 517.9 40.2 C518.6 42.2 518.5 52.1 517.9 54 C517.3 55.8 515.1 52.7 514.4 51.5 C513.6 50.2 513.6 48.1 513.5 46.4 C513.4 44.8 513.1 42.5 513.9 41.4Z" fill="#bfff40" stroke="#000" stroke-opacity=".55" stroke-width=".5"/>
<path d="M512.9 86.5 C513.8 85.6 517 83.7 517.9 85.2 C518.7 86.7 518.6 93.8 517.9 95.2 C517.2 96.7 514.4 94.8 513.5 94 C512.5 93.1 512.3 91.5 512.2 90.2 C512.1 89 511.9 87.3 512.9 86.5Z" fill="#bfff40" stroke="#000" stroke-opacity=".55" stroke-width=".5"/>
<path d="M332.4 51.9 C332.4 52.2 332.3 52.5 332.1 52.7 C331.9 53 331.6 53.2 331.3 53.3 C330.9 53.5 330.5 53.6 330.1 53.6 C329.8 53.6 329.3 53.5 329 53.3 C328.7 53.2 328.4 53 328.2 52.7 C328 52.5 327.9 52.2 327.9 51.9 C327.9 51.7 328 51.3 328.2 51.1 C328.4 50.9 328.7 50.6 329 50.5 C329.3 50.4 329.8 50.3 330.1 50.3 C330.5 50.3 330.9 50.4 331.3 50.5 C331.6 50.6 331.9 50.9 332.1 51.1 C332.3 51.3 332.4 51.7 332.4 51.9Z" fill="#bfff40" stroke="#000" stroke-opacity=".55" stroke-width=".5"/>
<path d="M312.7 62.3 C312.7 62.7 312.6 63.1 312.4 63.4 C312.2 63.7 312 64 311.7 64.2 C311.4 64.4 311 64.5 310.7 64.5 C310.3 64.5 310 64.4 309.7 64.2 C309.4 64 309.1 63.7 308.9 63.4 C308.8 63.1 308.7 62.7 308.7 62.3 C308.7 62 308.8 61.6 308.9 61.3 C309.1 61 309.4 60.7 309.7 60.5 C310 60.3 310.3 60.2 310.7 60.2 C311 60.2 311.4 60.3 311.7 60.5 C312 60.7 312.2 61 312.4 61.3 C312.6 61.6 312.7 62 312.7 62.3Z" fill="#bfff40" stroke="#000" stroke-opacity=".55" stroke-width=".5"/>
<path d="M342.9 67.9 C342.9 68.1 342.8 68.5 342.5 68.7 C342.3 68.9 341.9 69.1 341.4 69.3 C341 69.4 340.4 69.5 339.9 69.5 C339.4 69.5 338.9 69.4 338.4 69.3 C338 69.1 337.6 68.9 337.3 68.7 C337.1 68.5 336.9 68.1 336.9 67.9 C336.9 67.6 337.1 67.3 337.3 67.1 C337.6 66.8 338 66.6 338.4 66.5 C338.9 66.3 339.4 66.2 339.9 66.2 C340.4 66.2 341 66.3 341.4 66.5 C341.9 66.6 342.3 66.8 342.5 67.1 C342.8 67.3 342.9 67.6 342.9 67.9Z" fill="#bfff40" stroke="#000" stroke-opacity=".55" stroke-width=".5"/>
</g>
<path d="M230.7 7.9v2.5M230.7 102.7v-2.5M262.5 7.9v2.5M262.5 102.7v-2.5M294.2 7.9v2.5M294.2 102.7v-2.5M326 7.9v2.5M326 102.7v-2.5M357.7 7.9v2.5M357.7 102.7v-2.5M389.4 7.9v2.5M389.4 102.7v-2.5M421.2 7.9v2.5M421.2 102.7v-2.5M452.9 7.9v2.5M452.9 102.7v-2.5M484.7 7.9v2.5M484.7 102.7v-2.5M199 39.5h2.5M516.4 39.5h-2.5M199 71.1h2.5M516.4 71.1h-2.5" stroke="#444" stroke-width=".5" fill="none"/>
<rect x="199" y="7.9" width="317.4" height="94.8" fill="none" stroke="#bbb" stroke-width=".5"/>
<text x="357.7" y="5.5" font-size="8" font-weight="bold" text-anchor="middle" fill="#000">p GT [Pa]</text>
<text x="196.4" y="10.3" font-size="7" text-anchor="end">0.03</text>
<text x="196.4" y="41.9" font-size="7" text-anchor="end">0.02</text>
<text x="196.4" y="73.5" font-size="7" text-anchor="end">0.01</text>
<text x="196.4" y="105.1" font-size="7" text-anchor="end">0</text>
<text transform="translate(181.5 55.3) rotate(-90)" font-size="7.5" text-anchor="middle">Z [m]</text>
<g clip-path="url(#cL1)">
<rect x="24.2" y="161" width="315.5" height="94.8" fill="#ffff00"/>
<path d="M20.1 189 C20.8 177.2 23.2 189.3 24.4 189 C25.7 188.6 26.5 187.5 27.6 187.1 C28.8 186.6 29.8 186.6 31.4 186.1 C32.9 185.7 35.4 185 37 184.3 C38.6 183.5 39.7 183 40.8 181.5 C41.9 179.9 42.8 176.9 43.6 174.9 C44.4 172.9 44.5 170.7 45.5 169.3 C46.4 167.8 47.6 167.1 49.2 166.4 C50.8 165.8 53.1 165.1 54.8 165.1 C56.6 165.1 58 165.6 59.5 166.4 C61.1 167.3 62.7 169.1 64.2 170.2 C65.8 171.3 67.5 171.9 68.9 173 C70.3 174.1 71.6 175.4 72.7 176.8 C73.8 178.2 74.5 179.9 75.5 181.5 C76.4 183 77.2 184.4 78.3 186.1 C79.4 187.9 80.9 189.9 82 191.8 C83.1 193.6 84.1 195.5 84.9 197.4 C85.6 199.3 86.6 201.2 86.7 203 C86.9 204.9 86.6 207.1 85.8 208.7 C85 210.2 83.4 211.3 82 212.4 C80.6 213.5 78.9 214.4 77.3 215.2 C75.8 216 74.2 216.6 72.7 217.1 C71.1 217.6 69.5 217.9 68 218 C66.4 218.2 64.8 218.2 63.3 218 C61.7 217.9 60.1 217.4 58.6 217.1 C57 216.8 55.3 216.6 53.9 216.2 C52.5 215.7 51.2 215.1 50.1 214.3 C49 213.5 48.1 212.6 47.3 211.5 C46.5 210.4 45.8 209.1 45.5 207.7 C45.1 206.3 45.6 204.6 45.5 203 C45.3 201.5 45.1 199.7 44.5 198.3 C43.9 196.9 42.5 195.7 41.7 194.6 C40.9 193.5 40.9 192.4 39.8 191.8 C38.7 191.1 36.7 190.7 35.1 190.8 C33.6 191 31.7 191.9 30.4 192.7 C29.2 193.5 28.3 194.3 27.6 195.5 C27 196.8 26.5 199 26.7 200.2 C26.8 201.5 27.5 202.4 28.6 203 C29.7 203.7 31.5 203.7 33.3 204 C35 204.3 37.2 204.4 38.9 204.9 C40.6 205.4 42.3 205.5 43.6 206.8 C44.8 208 45.9 210.2 46.4 212.4 C46.9 214.6 46.7 217.4 46.4 219.9 C46.1 222.4 45.3 224.9 44.5 227.4 C43.7 229.9 42.5 232.1 41.7 234.9 C40.9 237.7 40.3 240.2 39.8 244.3 C39.4 248.4 42.2 256.8 38.9 259.3 C35.6 261.8 23.3 271 20.1 259.3 C17 247.6 19.4 200.7 20.1 189Z" fill="#bfff40" stroke="#000" stroke-opacity=".55" stroke-width=".5"/>
<path d="M28.6 178.6 C28.8 177.5 29.5 176 30.4 175.3 C31.4 174.5 32.9 173.9 34.2 173.9 C35.4 173.9 37.2 174.5 37.9 175.3 C38.7 176 38.8 177.5 38.5 178.6 C38.2 179.8 37.1 181.2 36.1 182 C35 182.8 33.5 183.3 32.3 183.3 C31.2 183.3 29.8 182.8 29.1 182 C28.5 181.2 28.3 179.8 28.6 178.6Z" fill="#ffbf00" stroke="#000" stroke-opacity=".55" stroke-width=".5"/>
<path d="M45.5 174.9 C45.6 173.5 47 172.8 48.3 172.1 C49.5 171.4 51.5 170.9 53 170.8 C54.4 170.7 55.8 170.8 56.7 171.5 C57.6 172.2 58.6 173.7 58.6 174.9 C58.6 176.1 57.8 177.7 56.7 178.6 C55.6 179.6 53.6 180.3 52 180.5 C50.5 180.8 48.4 181.1 47.3 180.1 C46.2 179.2 45.3 176.2 45.5 174.9Z" fill="#80ff80" stroke="#000" stroke-opacity=".55" stroke-width=".5"/>
<path d="M53.1 175.8 C53.1 176 53.1 176.2 52.9 176.3 C52.8 176.4 52.6 176.6 52.4 176.6 C52.2 176.7 51.9 176.8 51.6 176.8 C51.4 176.8 51.1 176.7 50.9 176.6 C50.7 176.6 50.5 176.4 50.3 176.3 C50.2 176.2 50.1 176 50.1 175.8 C50.1 175.7 50.2 175.5 50.3 175.4 C50.5 175.2 50.7 175.1 50.9 175 C51.1 174.9 51.4 174.9 51.6 174.9 C51.9 174.9 52.2 174.9 52.4 175 C52.6 175.1 52.8 175.2 52.9 175.4 C53.1 175.5 53.1 175.7 53.1 175.8Z" fill="#40ffbf" stroke="#000" stroke-opacity=".55" stroke-width=".5"/>
<path d="M57.6 188 C57.8 186.5 58.6 184.6 59.5 183.3 C60.5 182.1 62 181 63.3 180.5 C64.5 180 66.2 180 67 180.5 C67.8 181 68.1 182.1 68 183.3 C67.8 184.6 67 186.6 66.1 188 C65.2 189.4 63.6 191 62.3 191.8 C61.1 192.6 59.4 193.3 58.6 192.7 C57.8 192.1 57.5 189.6 57.6 188Z" fill="#80ff80" stroke="#000" stroke-opacity=".55" stroke-width=".5"/>
<path d="M55.8 200.2 C56.1 199.3 56.6 198 57.6 197.4 C58.7 196.8 60.5 196.8 62.3 196.5 C64.2 196.1 66.6 195.5 68.9 195.5 C71.2 195.5 74.2 196 76.4 196.5 C78.6 196.9 80.6 197.2 82 198.3 C83.4 199.4 84.7 201.5 84.9 203 C85 204.6 84.1 206.5 83 207.7 C81.9 209 80 209.9 78.3 210.5 C76.6 211.2 74.5 211.5 72.7 211.5 C70.8 211.5 68.9 211 67 210.5 C65.2 210.1 63 209.4 61.4 208.7 C59.8 207.9 58.6 206.8 57.6 205.8 C56.7 204.9 56.1 204 55.8 203 C55.5 202.1 55.5 201.2 55.8 200.2Z" fill="#80ff80" stroke="#000" stroke-opacity=".55" stroke-width=".5"/>
<path d="M64.2 202.1 C64.6 201.2 65.8 199.8 67 199.3 C68.3 198.7 70.2 198.7 71.7 198.9 C73.3 199.2 75.3 199.9 76.4 200.8 C77.5 201.6 78.3 202.9 78.3 204 C78.3 205 77.5 206.4 76.4 207.2 C75.3 207.9 73.3 208.6 71.7 208.7 C70.2 208.8 68.2 208.3 67 207.7 C65.9 207.1 65.2 205.8 64.8 204.9 C64.3 204 63.8 203 64.2 202.1Z" fill="#40ffbf" stroke="#000" stroke-opacity=".55" stroke-width=".5"/>
<path d="M69.8 203 C69.8 202.1 70.8 201 71.7 200.8 C72.7 200.5 74.6 201 75.5 201.5 C76.3 202.1 76.9 203.2 76.8 204 C76.7 204.8 75.8 206 74.9 206.4 C74.1 206.8 72.6 207 71.7 206.4 C70.9 205.8 69.8 204 69.8 203Z" fill="#00ffff" stroke="#000" stroke-opacity=".55" stroke-width=".5"/>
<path d="M20.1 191.4 C20.9 190.6 23.6 191.1 24.8 191.4 C26.1 191.6 27.2 192.2 27.6 192.9 C28 193.6 27.7 194.9 27.3 195.5 C26.8 196.1 26 196.3 24.8 196.5 C23.6 196.6 20.9 197.3 20.1 196.5 C19.3 195.6 19.3 192.2 20.1 191.4Z" fill="#80ff80" stroke="#000" stroke-opacity=".55" stroke-width=".5"/>
<path d="M20.1 202.1 C20.8 195.7 23 201.8 24.4 202.1 C25.8 202.4 27.4 202.9 28.6 204 C29.7 205.1 30.6 206.9 31.4 208.7 C32.2 210.4 32.8 212.1 33.3 214.3 C33.7 216.5 34.4 219.3 34.2 221.8 C34 224.3 33.1 227.1 32.3 229.3 C31.5 231.5 30.4 233.4 29.5 234.9 C28.6 236.5 27.5 237.7 26.7 238.7 C25.8 239.6 25.5 240.2 24.4 240.6 C23.3 240.9 20.8 247 20.1 240.6 C19.4 234.1 19.4 208.5 20.1 202.1Z" fill="#80ff80" stroke="#000" stroke-opacity=".55" stroke-width=".5"/>
<path d="M20.1 205.8 C20.8 201.2 23.2 205.5 24.4 205.8 C25.7 206.2 26.6 206.6 27.6 207.7 C28.6 208.8 29.8 210.7 30.4 212.4 C31.1 214.1 31.4 216.2 31.4 218 C31.4 219.9 30.9 221.8 30.4 223.7 C30 225.5 29.3 227.7 28.6 229.3 C27.8 230.9 26.4 232.3 25.8 233 C25.1 233.8 25.4 233.8 24.4 234 C23.5 234.1 20.8 238.7 20.1 234 C19.4 229.3 19.4 210.5 20.1 205.8Z" fill="#40ffbf" stroke="#000" stroke-opacity=".55" stroke-width=".5"/>
<path d="M20.1 208.7 C20.8 205.8 23.3 208.2 24.4 208.7 C25.5 209.1 26.1 210.2 26.7 211.5 C27.3 212.7 27.9 214.4 28 216.2 C28.1 217.9 27.7 220.2 27.3 221.8 C26.8 223.4 25.8 224.9 25.4 225.5 C24.9 226.2 25.3 225.9 24.4 225.9 C23.6 226 20.8 228.8 20.1 225.9 C19.4 223 19.4 211.5 20.1 208.7Z" fill="#00ffff" stroke="#000" stroke-opacity=".55" stroke-width=".5"/>
<path d="M135.2 153 C109.8 154.7 135.7 159.1 135.2 161 C134.8 162.9 133.6 163.2 132.7 164.3 C131.9 165.3 131.3 166.4 130.2 167.4 C129.2 168.5 127.9 169.6 126.5 170.6 C125 171.5 123.1 172.3 121.4 173.1 C119.8 173.8 118.1 174.3 116.4 174.9 C114.7 175.6 113.1 176.1 111.4 176.8 C109.7 177.6 107.9 178.7 106.4 179.3 C104.8 180 103.2 180.6 102 180.6 C100.7 180.6 99.9 179.7 98.8 179.3 C97.8 179 96.5 178.4 95.7 178.7 C94.9 179 93.9 180.4 93.8 181.2 C93.7 182.1 94.2 183.2 95.1 183.7 C95.9 184.3 97.8 184.1 98.8 184.4 C99.9 184.7 100.7 184.8 101.3 185.6 C102 186.5 102 188.5 102.6 189.4 C103.2 190.2 104.2 190.3 105.1 190.6 C106.1 191 107.6 190.6 108.2 191.3 C108.9 191.9 109.2 193.3 108.9 194.4 C108.6 195.6 106.8 196.9 106.4 198.2 C105.9 199.4 106.2 200.7 106.4 201.9 C106.6 203.2 107.5 204.7 107.6 205.7 C107.7 206.8 107.8 207.6 107 208.2 C106.2 208.8 103.7 208.8 102.6 209.5 C101.4 210.1 100.6 210.9 100.1 212 C99.6 213 99.3 214.8 99.5 215.8 C99.7 216.7 100.6 217 101.3 217.6 C102.1 218.3 103.2 218.5 103.9 219.5 C104.5 220.6 105.3 222.4 105.1 224 C104.9 225.7 103.7 227.9 102.7 229.3 C101.6 230.6 100.5 231.6 98.9 232.1 C97.4 232.6 95.2 232.4 93.3 232.1 C91.4 231.8 89.5 230.7 87.7 230.2 C85.8 229.8 83.6 229.6 82 229.3 C80.5 229 79.4 228.4 78.3 228.4 C77.2 228.4 76.4 228.5 75.5 229.3 C74.5 230.1 73.8 231.8 72.7 233 C71.6 234.3 70 235.5 68.9 236.8 C67.8 238.1 66.9 239 66.1 240.6 C65.3 242.1 64.7 244.3 64.2 246.2 C63.7 248.1 63.4 249 63.3 251.8 C63.1 254.6 15.5 260 63.3 263.1 C111.1 266.1 302.2 276.8 350 270 C397.8 263.2 351.7 229.9 350 222.5 C348.3 215.1 342 225.7 340 225.5 C337.9 225.4 338.4 223.4 337.7 221.8 C337 220.2 336.8 217.4 335.8 216.2 C334.9 214.9 333.6 214.9 332.1 214.3 C330.5 213.7 328.3 212.9 326.4 212.4 C324.6 211.9 322.7 211.8 320.8 211.5 C318.9 211.2 317.4 210.7 315.2 210.5 C313 210.4 309.9 210.8 307.7 210.5 C305.5 210.2 303.5 209.6 302.1 208.7 C300.6 207.7 299.9 206.5 299.2 204.9 C298.6 203.3 298.6 201.2 298.3 199.3 C298 197.4 298 195.5 297.4 193.6 C296.7 191.8 295.3 189.9 294.6 188 C293.8 186.1 293.3 184.3 292.7 182.4 C292.1 180.5 291.3 179 290.8 176.8 C290.3 174.6 290.3 171.9 289.9 169.3 C289.4 166.6 288.3 164.1 288 161 C287.7 157.9 313.4 151.8 288 150.5 C262.5 149.2 160.7 151.2 135.2 153Z" fill="#ffbf00" stroke="#000" stroke-opacity=".55" stroke-width=".5"/>
<path d="M97.6 155.5 C99.9 153.8 109.3 154 111.4 155.5 C113.5 157 110.5 162.4 110.1 164.3 C109.7 166.2 109.5 166.2 108.9 166.8 C108.2 167.4 107.4 167.7 106.4 168 C105.3 168.4 103.7 168.7 102.6 168.7 C101.4 168.7 100.3 168.6 99.5 168 C98.6 167.5 97.9 167.6 97.6 165.5 C97.3 163.4 95.3 157.2 97.6 155.5Z" fill="#ffbf00" stroke="#000" stroke-opacity=".55" stroke-width=".5"/>
<path d="M144.2 154.2 C132.8 155.4 144 158.5 144.2 161 C144.4 163.5 145.1 166.6 145.1 169.3 C145.1 171.9 144.2 174.6 144.2 176.8 C144.2 179 144.5 180.5 145.1 182.4 C145.8 184.3 146.7 186.6 148 188 C149.2 189.4 151.4 190.5 152.6 190.8 C153.9 191.1 154.7 189.6 155.5 189.9 C156.2 190.2 157.5 191.8 157.3 192.7 C157.2 193.6 155.6 194.6 154.5 195.5 C153.4 196.5 151.7 197.2 150.8 198.3 C149.8 199.4 148.9 200.8 148.9 202.1 C148.9 203.3 149.8 204.7 150.8 205.8 C151.7 206.9 153 207.9 154.5 208.7 C156.1 209.4 158 209.8 160.2 210.2 C162.3 210.5 165.5 210.6 167.7 210.5 C169.8 210.4 172.2 210.4 173.3 209.6 C174.4 208.8 174.4 207.2 174.2 205.8 C174.1 204.4 173.3 202.6 172.3 201.2 C171.4 199.7 169.5 198.7 168.6 197.4 C167.7 196.1 167.2 194.9 166.7 193.6 C166.2 192.4 165.6 191.1 165.8 189.9 C165.9 188.6 166.4 187.2 167.7 186.1 C168.9 185 171.1 184.1 173.3 183.3 C175.5 182.5 178.9 182.2 180.8 181.5 C182.7 180.7 183 179.6 184.5 178.6 C186.1 177.7 188.3 176.6 190.2 175.8 C192 175 193.9 174.1 195.8 173.9 C197.7 173.8 199.9 174.4 201.4 174.9 C203 175.4 204.2 177.1 205.2 176.8 C206.1 176.4 206.4 174.3 207.1 173 C207.7 171.8 208.2 170.5 208.9 169.3 C209.7 168 211.1 166.9 211.7 165.5 C212.4 164.1 212.5 162.9 212.7 161 C212.8 159.1 224.1 155.4 212.7 154.2 C201.3 153.1 155.6 153.1 144.2 154.2Z" fill="#ffff00" stroke="#000" stroke-opacity=".55" stroke-width=".5"/>
<path d="M173.3 154.2 C176.4 152.5 189.1 152.5 192 154.2 C195 156 192 162.4 191.1 164.6 C190.2 166.8 188.1 166.8 186.4 167.4 C184.7 168 182.7 168.3 180.8 168.3 C178.9 168.3 176.4 168 175.2 167.4 C173.9 166.8 173.6 166.8 173.3 164.6 C173 162.4 170.2 156 173.3 154.2Z" fill="#bfff40" stroke="#000" stroke-opacity=".55" stroke-width=".5"/>
<path d="M118.9 218 C119.5 216.8 121.1 215.2 122.6 214.3 C124.2 213.3 126.4 212.9 128.3 212.4 C130.1 211.9 132.2 211.3 133.9 211.5 C135.6 211.6 137.3 212.3 138.6 213.3 C139.8 214.4 141.2 216.5 141.4 218 C141.5 219.6 140.8 221.6 139.5 222.7 C138.3 223.8 135.8 224.1 133.9 224.6 C132 225.1 130.1 225.7 128.3 225.5 C126.4 225.4 124.2 224.3 122.6 223.7 C121.1 223 119.5 222.7 118.9 221.8 C118.3 220.9 118.3 219.3 118.9 218Z" fill="#ffff00" stroke="#000" stroke-opacity=".55" stroke-width=".5"/>
<path d="M334.7 238.3 C334.7 238.8 334.5 239.4 334.1 239.8 C333.7 240.2 333.1 240.6 332.5 240.9 C331.8 241.2 330.9 241.3 330.2 241.3 C329.4 241.3 328.6 241.2 327.9 240.9 C327.3 240.6 326.7 240.2 326.3 239.8 C325.9 239.4 325.7 238.8 325.7 238.3 C325.7 237.8 325.9 237.2 326.3 236.8 C326.7 236.4 327.3 236 327.9 235.7 C328.6 235.5 329.4 235.3 330.2 235.3 C330.9 235.3 331.8 235.5 332.5 235.7 C333.1 236 333.7 236.4 334.1 236.8 C334.5 237.2 334.7 237.8 334.7 238.3Z" fill="#ffff00" stroke="#000" stroke-opacity=".55" stroke-width=".5"/>
<path d="M82 263.1 C42.2 261.8 81.1 256.9 82 255.2 C83 253.5 85.8 253.6 87.7 252.7 C89.5 251.9 91.4 250.7 93.3 249.9 C95.2 249.2 97 248.7 98.9 248.1 C100.8 247.4 102.7 246.8 104.6 246.2 C106.4 245.6 108.3 244.9 110.2 244.3 C112.1 243.7 113.9 243.1 115.8 242.4 C117.7 241.8 119.6 241.2 121.4 240.6 C123.3 239.9 125.2 239.3 127.1 238.7 C128.9 238.1 130.8 237.4 132.7 236.8 C134.6 236.2 136.4 235.9 138.3 234.9 C140.2 234 142.8 232.7 144 231.2 C145.1 229.6 144.3 227.1 145.1 225.5 C146 224 147.6 222.3 148.9 221.8 C150.1 221.3 151.4 222.3 152.6 222.7 C153.9 223.2 154.5 224 156.4 224.6 C158.3 225.2 161.4 226.3 163.9 226.5 C166.4 226.6 169.2 226.2 171.4 225.5 C173.6 224.9 175.2 224 177 222.7 C178.9 221.5 180.8 219.4 182.7 218 C184.5 216.6 186.4 215.4 188.3 214.3 C190.2 213.2 192 212.4 193.9 211.5 C195.8 210.5 197.7 209.6 199.6 208.7 C201.4 207.7 203.3 206.9 205.2 205.8 C207.1 204.7 209.2 203.3 210.8 202.1 C212.4 200.8 212.5 199.9 214.6 198.3 C216.6 196.8 220.9 194 223.3 192.7 C225.6 191.5 227.3 191.5 228.9 190.8 C230.4 190.2 231.4 189.5 232.6 189 C233.9 188.4 235.1 187.7 236.4 187.6 C237.6 187.5 238.9 187.9 240.1 188.4 C241.4 188.9 243 189.8 243.9 190.8 C244.8 191.9 245.1 193.3 245.8 194.6 C246.4 195.8 246.9 197.7 247.6 198.3 C248.4 199 249.7 198.8 250.5 198.3 C251.2 197.9 251.7 196.5 252.3 195.5 C253 194.6 253.6 192.9 254.2 192.7 C254.8 192.6 255.5 193.6 256.1 194.6 C256.7 195.5 257.2 196.9 258 198.3 C258.7 199.7 259.7 201.3 260.8 203 C261.9 204.7 263.3 206.8 264.5 208.7 C265.8 210.5 267 212.7 268.3 214.3 C269.5 215.8 270.8 216.8 272 218 C273.3 219.3 274.9 220.2 275.8 221.8 C276.7 223.4 277 225.5 277.7 227.4 C278.3 229.3 278.6 231.6 279.5 233 C280.5 234.5 282 235.2 283.3 235.9 C284.5 236.5 285.8 236.3 287 236.8 C288.3 237.3 289.5 237.7 290.8 238.7 C292.1 239.6 293.3 241.5 294.6 242.4 C295.8 243.4 297.1 243.7 298.3 244.3 C299.6 244.9 300.5 245.6 302.1 246.2 C303.6 246.8 305.8 247.1 307.7 248.1 C309.6 249 311.7 250.9 313.3 251.8 C314.9 252.7 316 253.1 317.1 253.7 C318.2 254.2 319.3 253.6 319.9 255.2 C320.5 256.7 360.5 261.8 320.8 263.1 C281.2 264.4 121.8 264.4 82 263.1Z" fill="#ff8000" stroke="#000" stroke-opacity=".55" stroke-width=".5"/>
<path d="M139.5 263.1 C118.1 261.8 139.4 257.4 139.5 255.2 C139.7 253 139.5 251.4 140.5 249.9 C141.4 248.4 143.4 247.1 145.1 246.2 C146.9 245.2 148.6 245.1 150.8 244.3 C153 243.5 156.4 242.7 158.3 241.5 C160.2 240.2 160.8 237.7 162 236.8 C163.3 235.9 164.5 235.5 165.8 235.9 C167 236.2 168 238.1 169.5 238.7 C171.1 239.3 173.3 239.6 175.2 239.6 C177 239.6 178.6 239 180.8 238.7 C183 238.4 185.8 237.7 188.3 237.7 C190.8 237.7 193.3 238.7 195.8 238.7 C198.3 238.7 201.1 238.2 203.3 237.7 C205.5 237.3 207.1 236.3 208.9 235.9 C210.8 235.4 212.7 234.9 214.6 234.9 C216.4 234.9 218.3 235.5 220.2 235.9 C222.1 236.2 223.6 236.5 225.8 236.8 C228 237.1 231.2 237.6 233.3 237.7 C235.4 237.9 236.2 237.7 238.3 237.7 C240.3 237.7 243.6 237.6 245.8 237.7 C248 237.9 249.5 238.1 251.4 238.7 C253.3 239.3 255.5 240.4 257 241.5 C258.6 242.6 259.5 244.1 260.8 245.2 C262 246.3 263.6 247 264.5 248.1 C265.5 249.2 265.8 250.6 266.4 251.8 C267 253 268 253.3 268.3 255.2 C268.6 257.1 289.7 261.8 268.3 263.1 C246.8 264.4 161 264.4 139.5 263.1Z" fill="#ff4000" stroke="#000" stroke-opacity=".55" stroke-width=".5"/>
<path d="M188.3 259.3 C184.5 258.6 187.7 256.1 188.3 255.2 C188.9 254.2 190.2 254.1 192 253.7 C193.9 253.3 197.1 252.9 199.6 252.7 C202.1 252.6 205.2 252.3 207.1 252.7 C208.9 253.2 210.2 254.1 210.8 255.2 C211.4 256.3 214.6 258.6 210.8 259.3 C207.1 260 192 260 188.3 259.3Z" fill="#ff0000" stroke="#000" stroke-opacity=".55" stroke-width=".5"/>
<path d="M218.3 259.3 C214.4 258.6 217.7 256.1 218.3 255.2 C218.9 254.2 219.4 253.9 222.1 253.7 C224.8 253.5 231.2 253.8 234.5 254.1 C237.8 254.3 240.8 254.3 242 255.2 C243.3 256.1 246 258.6 242 259.3 C238.1 260 222.3 260 218.3 259.3Z" fill="#ff0000" stroke="#000" stroke-opacity=".55" stroke-width=".5"/>
</g>
<path d="M55.8 161v2.5M55.8 255.8v-2.5M87.3 161v2.5M87.3 255.8v-2.5M118.8 161v2.5M118.8 255.8v-2.5M150.4 161v2.5M150.4 255.8v-2.5M181.9 161v2.5M181.9 255.8v-2.5M213.5 161v2.5M213.5 255.8v-2.5M245 161v2.5M245 255.8v-2.5M276.6 161v2.5M276.6 255.8v-2.5M308.1 161v2.5M308.1 255.8v-2.5M24.2 192.6h2.5M339.7 192.6h-2.5M24.2 224.2h2.5M339.7 224.2h-2.5" stroke="#444" stroke-width=".5" fill="none"/>
<rect x="24.2" y="161" width="315.5" height="94.8" fill="none" stroke="#bbb" stroke-width=".5"/>
<text x="181.9" y="158.6" font-size="8" font-weight="bold" text-anchor="middle" fill="#000">p LaVision3D [Pa], ppp = 0.02</text>
<text x="21.6" y="163.4" font-size="7" text-anchor="end">0.03</text>
<text x="21.6" y="195" font-size="7" text-anchor="end">0.02</text>
<text x="21.6" y="226.6" font-size="7" text-anchor="end">0.01</text>
<text transform="translate(6.7 208.4) rotate(-90)" font-size="7.5" text-anchor="middle">Z [m]</text>
<g clip-path="url(#cR1)">
<rect x="367" y="160.3" width="317.1" height="95.1" fill="#ffff00"/>
<path d="M364 155.5 C367.1 152.8 379.7 154.7 382.8 155.5 C386 156.3 383.9 159.2 382.8 160.5 C381.8 161.8 378.4 162.2 376.6 163.3 C374.7 164.4 373.1 165.8 371.5 167 C370 168.3 368.4 170 367.1 170.8 C365.9 171.6 364.5 174.4 364 171.8 C363.5 169.3 360.9 158.2 364 155.5Z" fill="#bfff40" stroke="#000" stroke-opacity=".55" stroke-width=".5"/>
<path d="M397.9 155.5 C400.2 153.8 405.1 154.7 406.7 155.5 C408.3 156.3 406.9 159 407.3 160.5 C407.7 162 408.5 163 409.2 164.3 C409.9 165.5 410.7 166.8 411.7 168 C412.8 169.3 414.4 170.6 415.5 171.8 C416.5 173.1 417.1 174.3 418 175.6 C418.8 176.8 419.7 177.9 420.5 179.3 C421.3 180.8 422.2 182.7 423 184.4 C423.8 186 424.7 187.7 425.5 189.4 C426.4 191.1 427.3 192.7 428 194.4 C428.8 196.1 429.5 198 429.9 199.4 C430.3 200.9 430.6 201.9 430.5 203.2 C430.4 204.5 429.9 205.9 429.3 207 C428.7 208 427.8 208.6 426.8 209.5 C425.7 210.3 424.3 211.1 423 212 C421.8 212.8 420.3 213.7 419.2 214.5 C418.2 215.3 417.5 216.2 416.7 217 C416 217.8 415.3 218.1 414.8 219.5 C414.4 221 414.6 225.2 414.2 225.8 C413.8 226.4 413.2 224.2 412.3 223.3 C411.5 222.3 410.6 221 409.2 220.1 C407.8 219.3 405.6 218.5 404.2 218 C402.7 217.5 401.7 217.3 400.4 217.3 C399.2 217.3 397.9 217.5 396.6 218 C395.4 218.5 393.9 218.8 392.9 220.1 C391.8 221.4 395.2 224.9 390.4 225.8 C385.6 226.7 368.4 232 364 225.8 C359.6 219.6 363.5 195 364 188.8 C364.5 182.5 366.3 188.7 367.1 188.1 C368 187.6 368.1 186.7 369 185.6 C370 184.6 371.5 182.8 372.8 181.9 C374 180.9 375.1 180.6 376.6 180 C378 179.3 379.9 178.8 381.6 178.1 C383.3 177.4 385.4 176.6 386.6 175.6 C387.7 174.5 387.4 173.5 388.5 171.8 C389.5 170.1 391.3 168.3 392.9 165.5 C394.4 162.8 395.6 157.2 397.9 155.5Z" fill="#bfff40" stroke="#000" stroke-opacity=".55" stroke-width=".5"/>
<path d="M369 199.4 C368.9 198.5 369.4 196.7 370.3 195.7 C371.1 194.6 372.6 193.8 374 193.2 C375.5 192.5 377.5 191.9 379.1 191.9 C380.6 191.9 382.4 192.5 383.5 193.2 C384.5 193.8 385.2 194.6 385.3 195.7 C385.4 196.7 384.9 198.5 384.1 199.4 C383.3 200.4 381.8 200.9 380.3 201.3 C378.9 201.7 376.9 201.9 375.3 201.9 C373.7 201.9 372 201.7 370.9 201.3 C369.9 200.9 369.1 200.4 369 199.4Z" fill="#ffff00" stroke="#000" stroke-opacity=".55" stroke-width=".5"/>
<path d="M388.5 178.1 C388.2 177.1 388.5 175.6 389.1 174.3 C389.7 173.1 391.2 171.6 392.2 170.6 C393.3 169.5 394.3 168.5 395.4 168 C396.4 167.6 397.7 167.4 398.5 168 C399.4 168.7 400 170.6 400.4 171.8 C400.8 173.1 401.2 174.4 401 175.6 C400.8 176.7 400.1 178 399.2 178.7 C398.2 179.4 396.7 179.8 395.4 180 C394 180.2 392.1 180.3 391 180 C389.8 179.7 388.8 179 388.5 178.1Z" fill="#80ff80" stroke="#000" stroke-opacity=".55" stroke-width=".5"/>
<path d="M392.2 176.2 C392.5 175.7 393.4 175.1 394.1 174.9 C394.9 174.8 396.1 175.3 396.6 175.6 C397.2 175.9 397.5 176.5 397.3 176.8 C397.1 177.2 396.1 177.7 395.4 177.8 C394.7 178 393.4 178 392.9 177.7 C392.4 177.4 392 176.7 392.2 176.2Z" fill="#40ffbf" stroke="#000" stroke-opacity=".55" stroke-width=".5"/>
<path d="M397.3 198.2 C397.1 196.1 397.4 194 397.9 191.9 C398.4 189.8 399.6 187.5 400.4 185.6 C401.2 183.7 401.9 181.9 402.9 180.6 C404 179.3 405.6 178.4 406.7 178.1 C407.7 177.8 408.7 177.9 409.2 178.7 C409.7 179.6 410.1 181.5 409.8 183.1 C409.5 184.7 408 186.5 407.3 188.1 C406.6 189.8 405.1 192.1 405.4 193.2 C405.7 194.2 407.7 194.2 409.2 194.4 C410.7 194.6 412.5 194.4 414.2 194.4 C415.9 194.4 417.8 194.2 419.2 194.4 C420.7 194.6 421.9 195 423 195.7 C424.2 196.3 425.4 197.2 426.1 198.2 C426.9 199.1 427.3 200.2 427.4 201.3 C427.5 202.5 427.3 203.9 426.8 205.1 C426.3 206.2 425.3 207.3 424.3 208.2 C423.2 209.2 421.8 210.1 420.5 210.7 C419.2 211.4 418 211.8 416.7 212 C415.5 212.2 414.2 211.8 413 212 C411.7 212.2 410.2 212.8 409.2 213.2 C408.2 213.7 407.5 214.5 406.7 214.5 C405.8 214.5 405 214.1 404.2 213.2 C403.3 212.4 402.5 210.9 401.7 209.5 C400.8 208 399.9 206.3 399.2 204.5 C398.4 202.6 397.5 200.3 397.3 198.2Z" fill="#80ff80" stroke="#000" stroke-opacity=".55" stroke-width=".5"/>
<path d="M402.3 201.3 C402.4 200.5 403 200 404.2 199.4 C405.3 198.9 407.5 198.4 409.2 198.2 C410.9 198 412.5 198 414.2 198.2 C415.9 198.4 417.8 198.9 419.2 199.4 C420.7 200 422 200.7 423 201.3 C424.1 201.9 425.2 202.4 425.5 203.2 C425.8 204 425.5 205.5 424.9 206.3 C424.3 207.2 423.1 207.8 421.8 208.2 C420.4 208.6 418.4 208.8 416.7 208.8 C415.1 208.8 413.4 208.6 411.7 208.2 C410 207.8 408 207 406.7 206.3 C405.3 205.7 404.3 205.3 403.5 204.5 C402.8 203.6 402.2 202.2 402.3 201.3Z" fill="#40ffbf" stroke="#000" stroke-opacity=".55" stroke-width=".5"/>
<path d="M410.5 201.3 C410.8 200.6 411.9 200.2 413 200.1 C414 200 415.7 200.2 416.7 200.7 C417.8 201.2 418.8 202.4 419.2 203.2 C419.7 204 419.7 205.1 419.2 205.7 C418.8 206.3 417.7 206.9 416.7 207 C415.8 207.1 414.5 206.8 413.6 206.3 C412.6 205.9 411.6 205.3 411.1 204.5 C410.6 203.6 410.1 202 410.5 201.3Z" fill="#00ffff" stroke="#000" stroke-opacity=".55" stroke-width=".5"/>
<path d="M424.9 203.8 C424.9 204 424.8 204.1 424.8 204.3 C424.7 204.4 424.6 204.5 424.5 204.6 C424.3 204.7 424.2 204.7 424 204.7 C423.9 204.7 423.7 204.7 423.6 204.6 C423.4 204.5 423.3 204.4 423.3 204.3 C423.2 204.1 423.1 204 423.1 203.8 C423.1 203.7 423.2 203.5 423.3 203.4 C423.3 203.3 423.4 203.1 423.6 203.1 C423.7 203 423.9 202.9 424 202.9 C424.2 202.9 424.3 203 424.5 203.1 C424.6 203.1 424.7 203.3 424.8 203.4 C424.8 203.5 424.9 203.7 424.9 203.8Z" fill="#00ffff" stroke="#000" stroke-opacity=".55" stroke-width=".5"/>
<path d="M364 189.4 C364.5 188.5 365.9 189.7 367.1 189.4 C368.4 189.1 370.2 188 371.5 187.5 C372.9 187 374.5 186.1 375.3 186.2 C376.1 186.4 376.8 187.4 376.6 188.1 C376.3 188.9 375.1 189.8 374 190.6 C373 191.5 371.4 192.5 370.3 193.2 C369.1 193.8 368.2 194.4 367.1 194.7 C366.1 194.9 364.5 195.5 364 194.7 C363.5 193.8 363.5 190.3 364 189.4Z" fill="#80ff80" stroke="#000" stroke-opacity=".55" stroke-width=".5"/>
<path d="M364 190.6 C364.5 190.1 366.1 190.9 367.1 190.6 C368.2 190.4 369 189.9 370.3 189.4 C371.5 188.9 373.7 187.6 374.7 187.5 C375.6 187.4 376.2 188.1 375.9 188.8 C375.6 189.4 373.9 190.5 372.8 191.3 C371.6 192 370 192.7 369 193.2 C368.1 193.6 368 193.7 367.1 193.8 C366.3 193.9 364.5 194.3 364 193.8 C363.5 193.3 363.5 191.2 364 190.6Z" fill="#40ffbf" stroke="#000" stroke-opacity=".55" stroke-width=".5"/>
<path d="M371 191.9 C371 192.1 370.9 192.3 370.8 192.4 C370.6 192.5 370.3 192.7 370 192.8 C369.7 192.9 369.4 192.9 369 192.9 C368.7 192.9 368.3 192.9 368 192.8 C367.7 192.7 367.4 192.5 367.3 192.4 C367.1 192.3 367 192.1 367 191.9 C367 191.7 367.1 191.5 367.3 191.4 C367.4 191.3 367.7 191.1 368 191 C368.3 190.9 368.7 190.9 369 190.9 C369.4 190.9 369.7 190.9 370 191 C370.3 191.1 370.6 191.3 370.8 191.4 C370.9 191.5 371 191.7 371 191.9Z" fill="#00ffff" stroke="#000" stroke-opacity=".55" stroke-width=".5"/>
<path d="M364 204.5 C364.5 200.9 365.9 204.6 367.1 204.5 C368.4 204.3 370.2 203.5 371.5 203.8 C372.9 204.1 374.3 205.2 375.3 206.3 C376.3 207.5 377.3 209.2 377.8 210.7 C378.3 212.3 378.4 214.1 378.4 215.8 C378.4 217.4 378.1 219.1 377.8 220.8 C377.5 222.4 378.9 225 376.6 225.8 C374.3 226.6 366.1 229.4 364 225.8 C361.9 222.2 363.5 208 364 204.5Z" fill="#80ff80" stroke="#000" stroke-opacity=".55" stroke-width=".5"/>
<path d="M364 205.1 C364.5 201.6 366 205 367.1 205.1 C368.3 205.2 369.8 205.2 370.9 205.7 C372.1 206.2 373.2 207.2 374 208.2 C374.9 209.3 375.6 210.5 375.9 212 C376.2 213.5 376.1 215.3 375.9 217 C375.7 218.7 375.1 220.6 374.7 222 C374.3 223.5 375.2 225.2 373.4 225.8 C371.6 226.4 365.6 229.2 364 225.8 C362.4 222.3 363.5 208.5 364 205.1Z" fill="#40ffbf" stroke="#000" stroke-opacity=".55" stroke-width=".5"/>
<path d="M364 208.2 C364.5 205.3 366.1 208.2 367.1 208.2 C368.2 208.2 369.4 207.8 370.3 208.2 C371.1 208.6 371.6 209.7 372.2 210.7 C372.7 211.8 373.3 213 373.4 214.5 C373.5 216 373.1 217.6 372.8 219.5 C372.5 221.4 373 224.7 371.5 225.8 C370.1 226.8 365.3 228.7 364 225.8 C362.7 222.9 363.5 211.1 364 208.2Z" fill="#00ffff" stroke="#000" stroke-opacity=".55" stroke-width=".5"/>
<path d="M447.1 178.7 C447.1 179 447 179.3 446.9 179.6 C446.8 179.8 446.7 180.1 446.5 180.2 C446.3 180.4 446.1 180.5 445.9 180.5 C445.6 180.5 445.4 180.4 445.2 180.2 C445 180.1 444.9 179.8 444.8 179.6 C444.7 179.3 444.6 179 444.6 178.7 C444.6 178.4 444.7 178.1 444.8 177.8 C444.9 177.6 445 177.3 445.2 177.2 C445.4 177 445.6 177 445.9 177 C446.1 177 446.3 177 446.5 177.2 C446.7 177.3 446.8 177.6 446.9 177.8 C447 178.1 447.1 178.4 447.1 178.7Z" fill="#bfff40" stroke="#000" stroke-opacity=".55" stroke-width=".5"/>
<path d="M479.4 150.5 C442.6 152.3 479.5 158.1 479.4 160.6 C479.2 163.1 478.9 164.1 478.4 165.5 C478 166.9 477.8 168.2 476.6 169.3 C475.3 170.4 472.8 171.3 470.9 172.1 C469.1 172.9 467 173.3 465.3 173.9 C463.6 174.6 461.9 174.7 460.6 175.8 C459.4 176.9 458.4 178.8 457.8 180.5 C457.2 182.2 457.2 184.3 456.9 186.1 C456.6 188 456.4 189.9 455.9 191.8 C455.5 193.6 454.8 195.8 454.1 197.4 C453.3 199 452.2 199.9 451.2 201.2 C450.3 202.4 449.2 203.7 448.4 204.9 C447.6 206.2 446.4 207.7 446.6 208.7 C446.7 209.6 448.1 210.5 449.4 210.5 C450.6 210.5 452.8 209.3 454.1 208.7 C455.3 208 456.2 206.5 456.9 206.8 C457.5 207.1 458 209.3 457.8 210.5 C457.7 211.8 456.9 213.3 455.9 214.3 C455 215.2 453.4 215.5 452.2 216.2 C450.9 216.8 449.4 217.1 448.4 218 C447.5 219 447.2 220.5 446.6 221.8 C445.9 223 445.3 224.6 444.7 225.5 C444.1 226.5 443.4 226.9 442.8 227.4 C442.2 227.9 441.9 228.4 440.9 228.4 C440 228.4 438.4 227.3 437.2 227.4 C435.9 227.6 435 229.1 433.4 229.3 C431.9 229.5 429.7 228.4 427.8 228.4 C425.9 228.4 423.7 229 422.2 229.3 C420.6 229.6 419.7 229.8 418.4 230.2 C417.2 230.7 415.9 231.6 414.7 232.1 C413.4 232.6 411.8 232.3 410.9 233 C410 233.8 409.8 235.5 409 236.8 C408.2 238.1 407 239 406.2 240.6 C405.4 242.1 404.8 244.3 404.3 246.2 C403.9 248.1 403.6 249 403.4 251.8 C403.2 254.6 354 260 403.4 263.1 C452.8 266.1 650.6 288.8 700 270 C749.4 251.2 736.8 169.9 700 150 C663.2 130.1 516.2 148.7 479.4 150.5Z" fill="#ffbf00" stroke="#000" stroke-opacity=".55" stroke-width=".5"/>
<path d="M423.8 220.1 C423.8 220.4 423.7 220.6 423.5 220.8 C423.4 221 423.1 221.1 422.9 221.2 C422.6 221.3 422.3 221.4 422 221.4 C421.7 221.4 421.4 221.3 421.1 221.2 C420.9 221.1 420.6 221 420.5 220.8 C420.3 220.6 420.2 220.4 420.2 220.1 C420.2 219.9 420.3 219.7 420.5 219.5 C420.6 219.3 420.9 219.2 421.1 219.1 C421.4 219 421.7 218.9 422 218.9 C422.3 218.9 422.6 219 422.9 219.1 C423.1 219.2 423.4 219.3 423.5 219.5 C423.7 219.7 423.8 219.9 423.8 220.1Z" fill="#ffbf00" stroke="#000" stroke-opacity=".55" stroke-width=".5"/>
<path d="M479.7 154.2 C467 155.3 479.7 158.8 479.7 160.6 C479.7 162.5 479.5 164.1 479.7 165.5 C479.9 166.9 480.2 168 480.6 169.3 C481.1 170.5 481.7 171.8 482.5 173 C483.3 174.3 484.7 175.2 485.3 176.8 C486 178.3 485.8 180.8 486.3 182.4 C486.7 184 487.4 185 488.1 186.1 C488.9 187.2 490.2 187.7 491 189 C491.7 190.2 492.4 191.9 492.8 193.6 C493.3 195.4 493.5 197.4 493.8 199.3 C494.1 201.2 494.1 203.5 494.7 204.9 C495.3 206.3 496.1 207.1 497.5 207.7 C498.9 208.3 501.3 208.7 503.2 208.7 C505 208.7 507.4 208.3 508.8 207.7 C510.2 207.1 511.3 206 511.6 204.9 C511.9 203.8 511 202.7 510.7 201.2 C510.3 199.6 509.7 197.4 509.7 195.5 C509.7 193.6 509.9 191.5 510.7 189.9 C511.4 188.3 512.8 187.1 514.4 186.1 C516 185.2 518.2 184.9 520 184.3 C521.9 183.6 524.6 183.3 525.7 182.4 C526.8 181.5 526 179.6 526.6 178.6 C527.2 177.7 528.3 177.1 529.4 176.8 C530.5 176.4 531.9 176.4 533.2 176.8 C534.4 177.1 536 177.9 536.9 178.6 C537.9 179.4 537.9 181.1 538.8 181.5 C539.7 181.8 541.3 181.3 542.6 180.5 C543.8 179.7 545.1 178.3 546.3 176.8 C547.6 175.2 548.8 173 550.1 171.1 C551.3 169.3 552.9 167.3 553.8 165.5 C554.7 163.8 555.4 162.5 555.7 160.6 C556 158.8 568.3 155.3 555.7 154.2 C543 153.2 492.4 153.2 479.7 154.2Z" fill="#ffff00" stroke="#000" stroke-opacity=".55" stroke-width=".5"/>
<path d="M502 195.5 C502 196.1 501.9 196.7 501.7 197.2 C501.5 197.7 501.1 198.2 500.7 198.4 C500.3 198.7 499.8 198.9 499.4 198.9 C499 198.9 498.5 198.7 498.1 198.4 C497.7 198.2 497.3 197.7 497.1 197.2 C496.9 196.7 496.8 196.1 496.8 195.5 C496.8 195 496.9 194.3 497.1 193.8 C497.3 193.3 497.7 192.9 498.1 192.6 C498.5 192.3 499 192.1 499.4 192.1 C499.8 192.1 500.3 192.3 500.7 192.6 C501.1 192.9 501.5 193.3 501.7 193.8 C501.9 194.3 502 195 502 195.5Z" fill="#ffbf00" stroke="#000" stroke-opacity=".55" stroke-width=".5"/>
<path d="M510.7 154.2 C514.9 152.7 532.9 152.4 536.9 154.2 C541 156.1 536.3 163 535 165.5 C533.8 168 531.3 168.4 529.4 169.3 C527.5 170.1 525.7 170.6 523.8 170.8 C521.9 170.9 519.9 170.8 518.2 170.2 C516.4 169.6 514.6 168.5 513.5 167.4 C512.4 166.3 512.1 165.8 511.6 163.6 C511.1 161.4 506.4 155.8 510.7 154.2Z" fill="#bfff40" stroke="#000" stroke-opacity=".55" stroke-width=".5"/>
<path d="M468.4 211.5 C468.8 210.1 469.8 209.2 471.3 208.7 C472.7 208.1 475 208.1 476.9 208.3 C478.8 208.4 481.1 208.8 482.5 209.6 C483.9 210.4 484.9 211.9 485.3 213.3 C485.8 214.8 485.8 216.6 485.3 218 C484.9 219.4 483.8 221 482.5 221.8 C481.3 222.6 479.4 222.9 477.8 222.7 C476.3 222.6 474.5 221.8 473.1 220.9 C471.7 219.9 470.2 218.7 469.4 217.1 C468.6 215.5 468.1 212.9 468.4 211.5Z" fill="#ffff00" stroke="#000" stroke-opacity=".55" stroke-width=".5"/>
<path d="M460.9 219.9 C461.3 219.1 462.7 217.8 463.8 217.7 C464.8 217.5 466.8 218.3 467.5 219 C468.2 219.7 468.3 221.1 467.9 221.8 C467.4 222.5 465.8 223.1 464.7 223.3 C463.6 223.4 462.1 223.3 461.5 222.7 C460.9 222.2 460.6 220.8 460.9 219.9Z" fill="#ffff00" stroke="#000" stroke-opacity=".55" stroke-width=".5"/>
<path d="M633 154.2 C642.1 152.1 679.1 143.8 688.3 154.2 C697.6 164.7 689.6 206.8 688.3 217.1 C687.1 227.4 683 216.6 680.8 216.2 C678.6 215.7 677.1 214.9 675.2 214.3 C673.3 213.7 671.4 213 669.6 212.4 C667.7 211.8 665.8 211 663.9 210.5 C662.1 210.1 660.2 209.6 658.3 209.6 C656.4 209.6 654.2 210.5 652.7 210.5 C651.1 210.5 650.2 210.4 648.9 209.6 C647.7 208.8 646.3 207.2 645.2 205.8 C644.1 204.4 643 202.9 642.4 201.2 C641.7 199.4 641.9 197.7 641.4 195.5 C641 193.3 640.2 190.5 639.6 188 C638.9 185.5 638.5 183 637.7 180.5 C636.9 178 635.5 175.2 634.9 173 C634.2 170.8 633.9 170.5 633.5 167.4 C633.2 164.3 623.9 156.4 633 154.2Z" fill="#ffff00" stroke="#000" stroke-opacity=".55" stroke-width=".5"/>
<path d="M667.7 240.6 C667.7 239.8 668.3 238.2 669.6 237.7 C670.8 237.3 673.3 237.9 675.2 237.7 C677.1 237.6 678.6 237 680.8 236.8 C683 236.6 687.1 235.2 688.3 236.8 C689.6 238.4 689.4 244.9 688.3 246.2 C687.2 247.4 683.3 245.2 681.8 244.3 C680.2 243.4 680.4 240.9 679 240.6 C677.5 240.2 674.9 242.1 673.3 242.4 C671.8 242.7 670.5 242.7 669.6 242.4 C668.6 242.1 667.7 241.3 667.7 240.6Z" fill="#ffff00" stroke="#000" stroke-opacity=".55" stroke-width=".5"/>
<path d="M427.8 263.1 C388.7 261.8 427.2 256.9 427.8 255.2 C428.4 253.5 430.3 253.5 431.5 252.7 C432.8 252 434 251.3 435.3 250.9 C436.5 250.4 437.8 250.4 439 249.9 C440.3 249.5 441.5 248.5 442.8 248.1 C444.1 247.6 445.3 247.4 446.6 247.1 C447.8 246.8 449.1 246.3 450.3 246.2 C451.6 246.1 452.8 246.2 454.1 246.6 C455.3 246.9 456.6 247.5 457.8 248.1 C459.1 248.6 460.3 249.5 461.6 249.9 C462.8 250.4 464.1 250.9 465.3 250.9 C466.6 250.9 467.8 250.4 469.1 249.9 C470.3 249.5 471.6 249.3 472.8 248.1 C474.1 246.8 475.3 244.3 476.6 242.4 C477.8 240.6 479.1 238.4 480.3 236.8 C481.6 235.2 482.8 234.6 484.1 233 C485.4 231.5 486.7 229.1 488.1 227.4 C489.6 225.7 491.3 223.5 492.8 222.7 C494.4 221.9 495.8 222.4 497.5 222.7 C499.2 223 501.3 224.1 503.2 224.6 C505 225.1 506.6 225.5 508.8 225.5 C511 225.5 514.1 225.2 516.3 224.6 C518.5 224 520 222.9 521.9 221.8 C523.8 220.7 525.7 219.3 527.5 218 C529.4 216.8 531.3 215.5 533.2 214.3 C535 213 536.9 211.6 538.8 210.5 C540.7 209.4 542.6 208.5 544.4 207.7 C546.3 206.9 548.2 206.6 550.1 205.8 C551.9 205.1 554.4 204.3 555.7 203 C556.9 201.8 556.9 199.7 557.6 198.3 C558.2 196.9 557.7 196.1 559.4 194.6 C561.2 193 565.8 190.4 568.3 189 C570.7 187.5 572 186.9 573.9 186.1 C575.8 185.4 577.6 184.3 579.5 184.3 C581.4 184.2 583.6 185 585.1 185.8 C586.7 186.5 588 187.6 588.9 189 C589.8 190.3 590.3 192.2 590.8 193.6 C591.2 195.1 591.1 197.2 591.7 197.4 C592.3 197.6 593.6 195.2 594.5 194.6 C595.5 194 596.4 193.3 597.3 193.6 C598.3 194 599.2 195.2 600.2 196.5 C601.1 197.7 602.2 199.4 603 201.2 C603.7 202.9 604.1 205.4 604.8 206.8 C605.6 208.2 606.6 208.7 607.7 209.6 C608.8 210.5 610.2 211.5 611.4 212.4 C612.7 213.3 613.9 214.3 615.2 215.2 C616.4 216.2 617.8 216.9 618.9 218 C620 219.1 621.1 220.2 621.7 221.8 C622.4 223.4 622.2 226 622.7 227.4 C623.1 228.8 623.3 229.6 624.5 230.2 C625.8 230.9 628.6 230.7 630.2 231.2 C631.7 231.6 632.7 232.1 633.9 233 C635.2 234 636.4 235.5 637.7 236.8 C638.9 238.1 640.2 239.6 641.4 240.6 C642.7 241.5 643.9 241.8 645.2 242.4 C646.4 243.1 647.7 243.7 648.9 244.3 C650.2 244.9 651.4 245.6 652.7 246.2 C653.9 246.8 655.3 247.3 656.4 248.1 C657.5 248.8 658.5 249.7 659.3 250.9 C660 252.1 660.7 253.2 661.1 255.2 C661.6 257.2 701 261.8 662.1 263.1 C623.2 264.4 466.8 264.4 427.8 263.1Z" fill="#ff8000" stroke="#000" stroke-opacity=".55" stroke-width=".5"/>
<path d="M434.4 243.7 C434.4 244 434.3 244.2 434.1 244.4 C434 244.6 433.8 244.8 433.5 244.9 C433.3 245 432.9 245.1 432.7 245.1 C432.4 245.1 432.1 245 431.8 244.9 C431.6 244.8 431.3 244.6 431.2 244.4 C431.1 244.2 431 244 431 243.7 C431 243.5 431.1 243.3 431.2 243.1 C431.3 242.9 431.6 242.7 431.8 242.6 C432.1 242.5 432.4 242.4 432.7 242.4 C432.9 242.4 433.3 242.5 433.5 242.6 C433.8 242.7 434 242.9 434.1 243.1 C434.3 243.3 434.4 243.5 434.4 243.7Z" fill="#ff8000" stroke="#000" stroke-opacity=".55" stroke-width=".5"/>
<path d="M480.3 263.1 C458.2 261.8 480 257.4 480.3 255.2 C480.6 253 481.3 251.3 482.2 249.9 C483.1 248.6 484.7 247.9 486 247.1 C487.2 246.3 489.3 245.4 489.7 245.2 C490.1 245.1 486.8 246.8 488.1 246.2 C489.4 245.6 494.7 242.9 497.5 241.5 C500.3 240.1 502.8 238.7 505 237.7 C507.2 236.8 508.8 236 510.7 235.9 C512.5 235.7 514.1 236.6 516.3 236.8 C518.5 237 521.3 237 523.8 236.8 C526.3 236.6 529.1 236.2 531.3 235.9 C533.5 235.5 535 234.9 536.9 234.9 C538.8 234.9 540.7 235.5 542.6 235.9 C544.4 236.2 546.3 237.1 548.2 236.8 C550.1 236.5 552.2 234.6 553.8 234 C555.4 233.4 557 233.4 557.6 233 C558.1 232.7 556.5 232.1 557 232.1 C557.5 232.1 559.5 232.6 560.8 233 C562 233.5 562.9 234.1 564.5 234.9 C566.1 235.7 568.3 237.1 570.1 237.7 C572 238.4 573.9 238.7 575.8 238.7 C577.6 238.7 579.5 238.2 581.4 237.7 C583.3 237.3 585.5 236.3 587 235.9 C588.6 235.4 589.5 234.8 590.8 234.9 C592 235.1 593.3 236.2 594.5 236.8 C595.8 237.4 597 237.9 598.3 238.7 C599.5 239.5 600.8 240.6 602 241.5 C603.3 242.4 604.5 243.5 605.8 244.3 C607 245.1 608.4 245.2 609.5 246.2 C610.6 247.1 611.7 248.4 612.3 249.9 C613 251.4 613.1 253 613.3 255.2 C613.4 257.4 635.4 261.8 613.3 263.1 C591.1 264.4 502.5 264.4 480.3 263.1Z" fill="#ff4000" stroke="#000" stroke-opacity=".55" stroke-width=".5"/>
<path d="M520 259.3 C508.4 258.6 519.4 256.3 520 255.2 C520.7 254.1 521.9 253.3 523.8 252.7 C525.7 252.2 528.8 251.8 531.3 251.8 C533.8 251.8 536.3 252.7 538.8 252.7 C541.3 252.7 543.8 252 546.3 251.8 C548.8 251.6 551.4 250.9 553.8 251.4 C556.2 252 559 255.1 560.8 255.2 C562.5 255.2 562.9 252.2 564.5 251.8 C566.1 251.4 568.3 252.4 570.1 252.7 C572 253.1 573.9 253.8 575.8 253.7 C577.6 253.5 579.5 252 581.4 251.8 C583.3 251.7 585.6 252.2 587 252.7 C588.4 253.3 589.4 254.1 589.8 255.2 C590.3 256.3 601.5 258.6 589.8 259.3 C578.2 260 531.7 260 520 259.3Z" fill="#ff0000" stroke="#000" stroke-opacity=".55" stroke-width=".5"/>
</g>
<path d="M398.7 160.3v2.5M398.7 255.4v-2.5M430.4 160.3v2.5M430.4 255.4v-2.5M462.1 160.3v2.5M462.1 255.4v-2.5M493.8 160.3v2.5M493.8 255.4v-2.5M525.5 160.3v2.5M525.5 255.4v-2.5M557.3 160.3v2.5M557.3 255.4v-2.5M589 160.3v2.5M589 255.4v-2.5M620.7 160.3v2.5M620.7 255.4v-2.5M652.4 160.3v2.5M652.4 255.4v-2.5M367 192h2.5M684.1 192h-2.5M367 223.7h2.5M684.1 223.7h-2.5" stroke="#444" stroke-width=".5" fill="none"/>
<rect x="367" y="160.3" width="317.1" height="95.1" fill="none" stroke="#bbb" stroke-width=".5"/>
<text x="525.5" y="157.9" font-size="8" font-weight="bold" text-anchor="middle" fill="#000">p LaVision3D [Pa], ppp = 0.16</text>
<g clip-path="url(#cL2)">
<rect x="24.2" y="275.1" width="316.6" height="94.6" fill="#ffbf00"/>
<path d="M15 265 C26.2 246.7 70.8 263.3 82 265 C93.2 266.7 81.7 272.8 82 275 C82.3 277.2 83.3 276.9 83.9 278.3 C84.4 279.7 84.7 281.6 85.1 283.3 C85.5 285 86.1 286.6 86.4 288.3 C86.7 290 86.8 291.7 87 293.3 C87.2 295 87.4 296.5 87.6 298.4 C87.8 300.2 87.9 302.8 88.2 304.6 C88.6 306.5 89.1 308.6 89.5 309.7 C89.9 310.7 90.1 311.1 90.8 310.9 C91.4 310.7 92.2 309.6 93.3 308.4 C94.3 307.3 95.9 305.4 97 304 C98.2 302.7 99.3 301.4 100.2 300.2 C101 299.1 102 298.2 102.1 297.1 C102.1 296.1 100.8 295.2 100.4 294 C100.1 292.7 99.8 291 99.9 289.6 C100 288.2 100.5 286.5 101.2 285.6 C101.8 284.6 103 284.1 103.9 283.9 C104.9 283.8 106 284 106.7 284.6 C107.4 285.1 108 286 108 287.1 C108 288.2 107.4 289.6 106.7 291.1 C106 292.5 104.7 294.3 103.9 295.9 C103.2 297.4 102.8 298.7 102.4 300.2 C102.1 301.8 101.9 303.6 101.7 305.3 C101.4 306.9 101 308.5 100.9 310.3 C100.9 312.1 101.3 314.4 101.4 315.9 C101.6 317.5 101.7 319 101.7 319.7 C101.7 320.4 101.8 319.4 101.5 320.1 C101.3 320.8 100.7 322.8 100.3 323.8 C99.8 324.9 99.6 325.5 99 326.3 C98.4 327.2 97.3 328 96.5 328.9 C95.7 329.7 94.8 330.5 94 331.4 C93.1 332.2 92.2 333 91.5 333.9 C90.7 334.7 90.2 335.5 89.6 336.4 C89 337.2 88.4 338.2 87.7 338.9 C87 339.6 86.2 340.4 85.2 340.8 C84.2 341.2 82.7 341.5 81.4 341.4 C80.2 341.3 78.9 340.7 77.7 340.2 C76.4 339.6 75.2 338.7 73.9 338.3 C72.6 337.8 71.6 337.5 70.1 337.4 C68.7 337.3 66.6 337.6 65.1 337.9 C63.6 338.1 62.8 338.5 61.3 338.9 C59.9 339.3 57.8 339.6 56.3 340.2 C54.9 340.7 53.6 341.2 52.6 342 C51.5 342.9 50.9 344 50 345.2 C49.2 346.3 48.3 347.3 47.5 348.9 C46.8 350.6 45.9 353.1 45.6 355.2 C45.4 357.3 46.1 358.8 46.3 361.5 C46.5 364.2 52.1 369.3 46.9 371.5 C41.7 373.8 20.3 392.8 15 375 C9.7 357.2 3.8 283.3 15 265Z" fill="#ffff00" stroke="#000" stroke-opacity=".55" stroke-width=".5"/>
<path d="M92 313.4 C92.3 312.6 93.3 312.1 93.9 312.2 C94.5 312.3 95.4 313.2 95.8 314.1 C96.2 314.9 96.5 316.2 96.4 317.2 C96.3 318.2 95.7 319.8 95.2 320.3 C94.6 320.9 93.8 320.9 93.3 320.3 C92.7 319.8 92.2 318.3 92 317.2 C91.8 316 91.7 314.3 92 313.4Z" fill="#ffbf00" stroke="#000" stroke-opacity=".55" stroke-width=".5"/>
<path d="M79.5 334.5 C79.7 333.7 80.6 332.5 81.4 332 C82.3 331.5 83.7 331.4 84.6 331.6 C85.4 331.8 86.2 332.6 86.5 333.2 C86.7 333.9 86.3 335.1 85.8 335.8 C85.3 336.4 84.2 336.9 83.3 337 C82.5 337.2 81.4 337.1 80.8 336.6 C80.2 336.2 79.4 335.3 79.5 334.5Z" fill="#ffbf00" stroke="#000" stroke-opacity=".55" stroke-width=".5"/>
<path d="M22 288.9 C22.4 287.8 23.5 289.4 24.4 288.9 C25.4 288.4 26.2 286.9 27.6 286.1 C29.1 285.3 31.4 284.6 33.3 284.2 C35.1 283.8 37.6 283.3 38.9 283.6 C40.1 283.9 40.8 285 40.8 286.1 C40.8 287.1 40.1 288.7 38.9 289.8 C37.6 290.9 35.1 291.9 33.3 292.6 C31.4 293.4 29.1 294 27.6 294.5 C26.2 295 25.4 295.3 24.4 295.5 C23.5 295.6 22.4 296.5 22 295.5 C21.6 294.4 21.6 290 22 288.9Z" fill="#ffbf00" stroke="#000" stroke-opacity=".55" stroke-width=".5"/>
<path d="M27.6 311.4 C27.6 310.5 29.3 309.6 30.4 309.1 C31.5 308.7 33.3 308.6 34.2 309 C35.1 309.3 36.1 310.5 36.1 311.4 C36.1 312.3 35.1 313.7 34.2 314.2 C33.3 314.8 31.5 315.2 30.4 314.8 C29.3 314.3 27.6 312.3 27.6 311.4Z" fill="#ffbf00" stroke="#000" stroke-opacity=".55" stroke-width=".5"/>
<path d="M45.5 281 C45.5 281.2 45.4 281.5 45.3 281.7 C45.1 281.9 44.9 282 44.7 282.1 C44.5 282.3 44.2 282.3 44 282.3 C43.7 282.3 43.4 282.3 43.2 282.1 C43 282 42.8 281.9 42.7 281.7 C42.5 281.5 42.5 281.2 42.5 281 C42.5 280.8 42.5 280.5 42.7 280.3 C42.8 280.2 43 280 43.2 279.9 C43.4 279.8 43.7 279.7 44 279.7 C44.2 279.7 44.5 279.8 44.7 279.9 C44.9 280 45.1 280.2 45.3 280.3 C45.4 280.5 45.5 280.8 45.5 281Z" fill="#ffbf00" stroke="#000" stroke-opacity=".55" stroke-width=".5"/>
<path d="M111.5 269.5 C113.8 268 125.3 268 127.8 269.5 C130.3 271 127.4 276.2 126.5 278.3 C125.7 280.4 124 280.8 122.8 282 C121.5 283.3 120.3 284.6 119 285.8 C117.8 287.1 116.3 288.5 115.2 289.6 C114.2 290.6 113.4 292.1 112.7 292.1 C112.1 292.1 111.5 290.6 111.5 289.6 C111.5 288.5 112.1 287.1 112.7 285.8 C113.4 284.6 115 283.3 115.2 282 C115.5 280.8 114.6 280.4 114 278.3 C113.4 276.2 109.2 271 111.5 269.5Z" fill="#ffff00" stroke="#000" stroke-opacity=".55" stroke-width=".5"/>
<path d="M101.5 342.7 C101.3 341.8 101.8 339.3 102.1 337.6 C102.5 336 102.9 333.6 103.4 332.6 C103.9 331.7 104.8 331.6 105.3 332 C105.8 332.4 106.5 333.8 106.5 335.1 C106.5 336.5 105.8 338.9 105.3 340.2 C104.8 341.4 104 342.2 103.4 342.7 C102.8 343.1 101.7 343.5 101.5 342.7Z" fill="#ffff00" stroke="#000" stroke-opacity=".55" stroke-width=".5"/>
<path d="M123.1 335.1 C123.1 335.3 123 335.5 122.9 335.7 C122.8 335.9 122.6 336 122.4 336.1 C122.1 336.2 121.9 336.3 121.6 336.3 C121.4 336.3 121.1 336.2 120.9 336.1 C120.6 336 120.4 335.9 120.3 335.7 C120.2 335.5 120.1 335.3 120.1 335.1 C120.1 334.9 120.2 334.7 120.3 334.6 C120.4 334.4 120.6 334.2 120.9 334.2 C121.1 334.1 121.4 334 121.6 334 C121.9 334 122.1 334.1 122.4 334.2 C122.6 334.2 122.8 334.4 122.9 334.6 C123 334.7 123.1 334.9 123.1 335.1Z" fill="#ffff00" stroke="#000" stroke-opacity=".55" stroke-width=".5"/>
<path d="M107.3 305.3 C107.3 305.5 107.3 305.7 107.2 305.8 C107.1 306 107 306.2 106.9 306.2 C106.8 306.3 106.6 306.4 106.5 306.4 C106.3 306.4 106.1 306.3 106 306.2 C105.9 306.2 105.8 306 105.7 305.8 C105.6 305.7 105.6 305.5 105.6 305.3 C105.6 305.1 105.6 304.9 105.7 304.7 C105.8 304.5 105.9 304.4 106 304.3 C106.1 304.2 106.3 304.1 106.5 304.1 C106.6 304.1 106.8 304.2 106.9 304.3 C107 304.4 107.1 304.5 107.2 304.7 C107.3 304.9 107.3 305.1 107.3 305.3Z" fill="#ffff00" stroke="#000" stroke-opacity=".55" stroke-width=".5"/>
<path d="M43.6 288.9 C44 287.5 45 285.4 46.4 284.2 C47.8 282.9 50.1 281.8 52 281.4 C53.9 280.9 55.9 280.9 57.6 281.4 C59.4 281.8 60.9 283.2 62.3 284.2 C63.7 285.2 65 286.5 66.1 287.4 C67.2 288.3 67.9 288.5 68.8 289.6 C69.7 290.7 70.5 292.5 71.3 294 C72.1 295.4 72.8 297 73.8 298.4 C74.9 299.7 76.3 300.7 77.6 302.1 C78.8 303.6 80.3 305.5 81.3 307.2 C82.4 308.8 83.2 310.5 83.9 312.2 C84.5 313.8 85.1 315.5 85.1 317.2 C85.1 318.9 84.7 320.8 83.9 322.2 C83 323.7 81.6 324.9 80.1 326 C78.6 327 76.7 328 75.1 328.5 C73.4 329 71.7 329.1 70 329.1 C68.4 329.1 66.7 328.7 65 328.5 C63.3 328.3 61.1 328.4 60 327.9 C58.9 327.4 59.3 326.3 58.6 325.5 C57.9 324.6 56.7 323.9 55.8 322.7 C54.8 321.4 53.9 319.7 53 318 C52 316.2 50.8 314.1 50.1 312.3 C49.5 310.6 49.2 309.4 49.2 307.6 C49.2 305.9 50.3 303.6 50.1 302 C50 300.5 49 299.4 48.3 298.3 C47.5 297.2 46.2 296.4 45.5 295.5 C44.7 294.5 43.9 293.7 43.6 292.6 C43.3 291.5 43.1 290.3 43.6 288.9Z" fill="#bfff40" stroke="#000" stroke-opacity=".55" stroke-width=".5"/>
<path d="M46.4 289.8 C46.5 288.9 47.3 287.7 48.3 287 C49.2 286.3 50.8 285.6 52 285.5 C53.3 285.4 55 285.9 55.8 286.6 C56.6 287.4 56.9 288.9 56.7 289.8 C56.6 290.8 55.8 291.7 54.8 292.3 C53.9 292.8 52.3 293 51.1 293 C49.8 293 48.1 292.8 47.3 292.3 C46.5 291.7 46.2 290.7 46.4 289.8Z" fill="#80ff80" stroke="#000" stroke-opacity=".55" stroke-width=".5"/>
<path d="M54.3 289.3 C54.3 289.5 54.1 289.7 53.9 289.9 C53.7 290.1 53.3 290.3 53 290.4 C52.6 290.5 52.1 290.6 51.6 290.6 C51.2 290.6 50.7 290.5 50.3 290.4 C50 290.3 49.6 290.1 49.4 289.9 C49.1 289.7 49 289.5 49 289.3 C49 289 49.1 288.8 49.4 288.6 C49.6 288.4 50 288.2 50.3 288.1 C50.7 288 51.2 287.9 51.6 287.9 C52.1 287.9 52.6 288 53 288.1 C53.3 288.2 53.7 288.4 53.9 288.6 C54.1 288.8 54.3 289 54.3 289.3Z" fill="#40ffbf" stroke="#000" stroke-opacity=".55" stroke-width=".5"/>
<path d="M60.8 294.1 C60.8 294.3 60.7 294.5 60.5 294.7 C60.3 294.9 60 295 59.7 295.1 C59.4 295.2 59 295.3 58.6 295.3 C58.2 295.3 57.8 295.2 57.5 295.1 C57.1 295 56.8 294.9 56.6 294.7 C56.4 294.5 56.3 294.3 56.3 294.1 C56.3 294 56.4 293.7 56.6 293.6 C56.8 293.4 57.1 293.3 57.5 293.2 C57.8 293.1 58.2 293 58.6 293 C59 293 59.4 293.1 59.7 293.2 C60 293.3 60.3 293.4 60.5 293.6 C60.7 293.7 60.8 294 60.8 294.1Z" fill="#80ff80" stroke="#000" stroke-opacity=".55" stroke-width=".5"/>
<path d="M62.3 301.6 C62.3 301.9 62.2 302.2 62.1 302.4 C61.9 302.6 61.7 302.8 61.4 302.9 C61.1 303.1 60.8 303.1 60.5 303.1 C60.1 303.1 59.8 303.1 59.5 302.9 C59.3 302.8 59 302.6 58.8 302.4 C58.7 302.2 58.6 301.9 58.6 301.6 C58.6 301.4 58.7 301.1 58.8 300.9 C59 300.7 59.3 300.5 59.5 300.3 C59.8 300.2 60.1 300.1 60.5 300.1 C60.8 300.1 61.1 300.2 61.4 300.3 C61.7 300.5 61.9 300.7 62.1 300.9 C62.2 301.1 62.3 301.4 62.3 301.6Z" fill="#80ff80" stroke="#000" stroke-opacity=".55" stroke-width=".5"/>
<path d="M60 310.3 C60.4 308.4 61.3 311 62.5 310.9 C63.8 310.8 65.9 309.9 67.5 309.7 C69.2 309.5 70.9 309.5 72.6 309.7 C74.2 309.9 76.1 310.3 77.6 310.9 C79 311.5 80.4 312.4 81.3 313.4 C82.3 314.5 83.1 315.8 83.2 317.2 C83.3 318.6 82.7 320.4 82 321.6 C81.2 322.7 80.2 323.5 78.8 324.1 C77.5 324.7 75.5 325.3 73.8 325.4 C72.1 325.5 70.5 325 68.8 324.7 C67.1 324.4 65.2 323.9 63.8 323.5 C62.3 323.1 60.6 324.4 60 322.2 C59.4 320 59.6 312.2 60 310.3Z" fill="#80ff80" stroke="#000" stroke-opacity=".55" stroke-width=".5"/>
<path d="M66.3 314.7 C66.8 313.6 68.6 313.1 70 312.8 C71.5 312.5 73.6 312.5 75.1 312.8 C76.5 313.1 78 313.8 78.8 314.7 C79.7 315.5 80.2 316.8 80.1 317.8 C80 318.9 79.1 320.2 78.2 321 C77.3 321.7 75.8 322.1 74.4 322.2 C73.1 322.3 71.3 322.1 70 321.6 C68.8 321.1 67.5 320.2 66.9 319.1 C66.3 317.9 65.8 315.7 66.3 314.7Z" fill="#40ffbf" stroke="#000" stroke-opacity=".55" stroke-width=".5"/>
<path d="M71.9 315.9 C72.4 315.4 73.6 315.2 74.4 315.3 C75.3 315.4 76.4 316 76.9 316.6 C77.5 317.1 77.8 317.8 77.6 318.5 C77.4 319.1 76.4 320 75.7 320.3 C75 320.6 73.9 320.6 73.2 320.3 C72.5 320 71.8 319.2 71.6 318.5 C71.3 317.7 71.4 316.5 71.9 315.9Z" fill="#00ffff" stroke="#000" stroke-opacity=".55" stroke-width=".5"/>
<path d="M22 316.1 C22.4 309.4 23.2 315.9 24.4 316.1 C25.7 316.2 27.7 316.2 29.5 317 C31.3 317.8 33.4 319.2 35.1 320.8 C36.9 322.3 38.7 324.5 39.8 326.4 C40.9 328.3 41.5 330.2 41.7 332 C41.9 333.9 41.5 335.5 40.8 337.7 C40 339.9 38.4 343 37 345.2 C35.6 347.4 33.9 349.2 32.3 350.8 C30.8 352.4 28.9 353.6 27.6 354.6 C26.3 355.5 25.4 356.1 24.4 356.4 C23.5 356.7 22.4 363.2 22 356.4 C21.6 349.7 21.6 322.8 22 316.1Z" fill="#bfff40" stroke="#000" stroke-opacity=".55" stroke-width=".5"/>
<path d="M22 318.9 C22.4 314.1 23.3 318.5 24.4 318.9 C25.5 319.3 27.3 320.1 28.6 321.2 C29.9 322.3 31.4 323.7 32.3 325.5 C33.3 327.3 34 330 34.2 332 C34.4 334.1 33.9 335.8 33.3 337.7 C32.6 339.5 31.5 341.7 30.4 343.3 C29.3 344.9 27.7 346.3 26.7 347 C25.7 347.8 25.2 347.8 24.4 348 C23.7 348.1 22.4 352.8 22 348 C21.6 343.1 21.6 323.8 22 318.9Z" fill="#80ff80" stroke="#000" stroke-opacity=".55" stroke-width=".5"/>
<path d="M22 321.7 C22.4 318.3 23.5 321.3 24.4 321.7 C25.4 322.1 26.7 323.1 27.6 324.2 C28.5 325.3 29.4 326.7 29.9 328.3 C30.3 329.9 30.6 332.2 30.4 333.9 C30.3 335.6 29.8 337.4 29.1 338.6 C28.5 339.9 27.5 340.8 26.7 341.4 C25.9 342 25.2 342.2 24.4 342.4 C23.7 342.5 22.4 345.8 22 342.4 C21.6 338.9 21.6 325.2 22 321.7Z" fill="#40ffbf" stroke="#000" stroke-opacity=".55" stroke-width=".5"/>
<path d="M29.9 303.9 C29.9 304.1 29.8 304.4 29.6 304.6 C29.5 304.7 29.2 304.9 28.9 305 C28.7 305.1 28.3 305.2 28 305.2 C27.7 305.2 27.3 305.1 27.1 305 C26.8 304.9 26.5 304.7 26.4 304.6 C26.2 304.4 26.1 304.1 26.1 303.9 C26.1 303.7 26.2 303.4 26.4 303.2 C26.5 303 26.8 302.9 27.1 302.8 C27.3 302.6 27.7 302.6 28 302.6 C28.3 302.6 28.7 302.6 28.9 302.8 C29.2 302.9 29.5 303 29.6 303.2 C29.8 303.4 29.9 303.7 29.9 303.9Z" fill="#bfff40" stroke="#000" stroke-opacity=".55" stroke-width=".5"/>
<path d="M159.2 268.2 C168.4 266.5 203.8 267.1 212.7 268.2 C221.6 269.4 213.3 273.1 212.7 275 C212.1 276.9 210.5 278.1 208.9 279.5 C207.4 280.9 205.2 282.2 203.3 283.3 C201.4 284.4 199.6 285.3 197.7 286.1 C195.8 286.9 193.9 287.3 192 287.9 C190.2 288.6 188 289 186.4 289.8 C184.9 290.6 183.6 291.7 182.7 292.6 C181.7 293.6 182 294.7 180.8 295.5 C179.5 296.2 177 296.9 175.2 297.3 C173.3 297.8 170.9 297.6 169.5 298.3 C168.1 298.9 167.2 299.7 166.7 301.1 C166.2 302.5 167.2 305.8 166.7 306.7 C166.2 307.6 164.7 307.3 163.9 306.7 C163.1 306.1 162.5 304.4 162 303 C161.6 301.5 161.6 299.7 161.1 298.3 C160.6 296.9 160 295.8 159.2 294.5 C158.4 293.3 157.2 292 156.4 290.8 C155.6 289.5 154.7 288.4 154.5 287 C154.4 285.6 155 283.7 155.5 282.3 C155.9 280.9 156.7 280.9 157.3 278.6 C158 276.2 150 270 159.2 268.2Z" fill="#ffff00" stroke="#000" stroke-opacity=".55" stroke-width=".5"/>
<path d="M175.2 268.2 C177.4 266.4 187.8 266.5 190.2 268.2 C192.5 270 190 276.4 189.2 278.6 C188.5 280.7 186.9 280.6 185.5 281 C184.1 281.4 182.2 281.3 180.8 281 C179.4 280.8 178 281.6 177 279.5 C176.1 277.4 173 270.1 175.2 268.2Z" fill="#bfff40" stroke="#000" stroke-opacity=".55" stroke-width=".5"/>
<path d="M151.7 317 C151.9 316.2 152.5 315.5 153.6 315.2 C154.7 314.8 156.9 315.5 158.3 315.2 C159.7 314.8 160.9 314.1 162 313.3 C163.1 312.5 164.1 310.8 164.8 310.5 C165.6 310.1 166.1 310.6 166.7 311.4 C167.3 312.2 167.7 314.1 168.6 315.2 C169.5 316.2 171.6 317 172.3 318 C173.1 318.9 173.6 320.1 173.3 320.8 C173 321.5 171.7 322 170.5 322.3 C169.2 322.5 167.5 322.2 165.8 322.3 C164.1 322.4 161.9 323 160.2 323 C158.4 323.1 156.7 323.1 155.5 322.7 C154.2 322.2 153.3 321.3 152.6 320.4 C152 319.5 151.6 317.9 151.7 317Z" fill="#ffff00" stroke="#000" stroke-opacity=".55" stroke-width=".5"/>
<path d="M131.1 330.2 C131.2 329.2 132 327.8 132.9 327.3 C133.9 326.9 135.6 326.9 136.7 327.3 C137.8 327.8 139 329.2 139.5 330.2 C140 331.1 140.1 332.3 139.5 333 C138.9 333.7 137 334.3 135.8 334.3 C134.5 334.3 132.8 333.7 132 333 C131.2 332.3 130.9 331.1 131.1 330.2Z" fill="#ffff00" stroke="#000" stroke-opacity=".55" stroke-width=".5"/>
<path d="M123.6 334.7 C123.6 334.9 123.5 335.2 123.3 335.4 C123.2 335.6 122.9 335.8 122.6 336 C122.4 336.1 122 336.2 121.7 336.2 C121.4 336.2 121 336.1 120.8 336 C120.5 335.8 120.2 335.6 120.1 335.4 C119.9 335.2 119.8 334.9 119.8 334.7 C119.8 334.4 119.9 334.1 120.1 333.9 C120.2 333.7 120.5 333.5 120.8 333.4 C121 333.2 121.4 333.2 121.7 333.2 C122 333.2 122.4 333.2 122.6 333.4 C122.9 333.5 123.2 333.7 123.3 333.9 C123.5 334.1 123.6 334.4 123.6 334.7Z" fill="#ffff00" stroke="#000" stroke-opacity=".55" stroke-width=".5"/>
<path d="M291.7 268.2 C300.1 266.4 334.7 260.9 343.3 268.2 C351.9 275.6 344.6 305.1 343.3 312.3 C342.1 319.5 337.4 310.9 335.8 311.4 C334.3 311.9 334.7 314.1 334 315.2 C333.2 316.2 332.4 317.3 331.1 318 C329.9 318.6 327.9 319.1 326.4 318.9 C325 318.7 323.8 317.8 322.7 317 C321.6 316.2 320.8 315.2 319.9 314.2 C318.9 313.3 317.8 311.4 317.1 311.4 C316.3 311.4 315.7 313.3 315.2 314.2 C314.7 315.2 315.2 316.6 314.3 317 C313.3 317.5 311.1 317.2 309.6 317 C308 316.9 306.1 316.9 304.9 316.1 C303.6 315.3 302.8 313.7 302.1 312.3 C301.3 310.9 300.6 309.4 300.2 307.6 C299.7 305.9 299.6 303.9 299.2 302 C298.9 300.1 298.5 298.3 298.3 296.4 C298.1 294.5 298.6 292.3 298.3 290.8 C298 289.2 297.1 288.3 296.4 287 C295.8 285.8 295.1 284.5 294.6 283.3 C294 282 293.5 282 293.1 279.5 C292.6 277 283.4 270.1 291.7 268.2Z" fill="#ffff00" stroke="#000" stroke-opacity=".55" stroke-width=".5"/>
<path d="M76.4 371.5 C31.9 370.2 76 370.5 76.4 369.3 C76.8 368 77.9 365.9 78.9 364 C80 362.1 81.8 359.4 82.7 357.7 C83.5 356.1 83.3 354.6 83.9 354 C84.6 353.3 85.4 353.8 86.5 354 C87.5 354.2 89 354.8 90.2 355.2 C91.5 355.6 92.7 356.1 94 356.5 C95.2 356.9 96.5 357.7 97.8 357.7 C99 357.7 100.3 356.9 101.5 356.5 C102.8 356.1 104 355.5 105.3 355.2 C106.5 354.9 107.8 354.5 109.1 354.6 C110.3 354.7 111.6 355.5 112.8 355.8 C114.1 356.2 115.3 356.6 116.6 356.5 C117.8 356.4 119.2 355.7 120.4 355.2 C121.5 354.7 121.2 354.7 123.5 353.3 C125.7 352 131.5 348.6 133.9 347 C136.2 345.5 136.4 345.3 137.6 344.2 C138.9 343.1 140.1 341.9 141.4 340.5 C142.6 339.1 143.9 337.2 145.1 335.8 C146.4 334.4 147.8 332.5 148.9 332 C150 331.6 150.8 332.2 151.7 333 C152.6 333.8 153.6 335.6 154.5 336.7 C155.5 337.8 156.1 338.9 157.3 339.5 C158.6 340.2 160.3 340.3 162 340.5 C163.7 340.6 165.8 340.6 167.7 340.5 C169.5 340.3 171.4 340.2 173.3 339.5 C175.2 338.9 177.2 337.8 178.9 336.7 C180.6 335.6 182 334.4 183.6 333 C185.2 331.6 186.9 329.8 188.3 328.3 C189.7 326.7 190.8 324.7 192 323.6 C193.3 322.5 194.2 322.3 195.8 321.7 C197.4 321.1 199.6 320.5 201.4 319.8 C203.3 319.2 204.7 319.4 207.1 318 C209.4 316.6 213.4 313.1 215.8 311.4 C218.1 309.7 219.5 309.1 221.4 307.6 C223.3 306.2 225.1 304.4 227 303 C228.9 301.5 230.8 300.1 232.6 299.2 C234.5 298.3 236.5 297.5 238.3 297.3 C240 297.2 241.5 297.6 243 298.3 C244.4 298.9 245.6 300.3 246.7 301.1 C247.8 301.9 248.6 302.6 249.5 303 C250.5 303.3 251.4 302.8 252.3 303 C253.3 303.1 254.2 303.3 255.2 303.9 C256.1 304.5 257 305.5 258 306.7 C258.9 308 259.8 309.7 260.8 311.4 C261.7 313.1 262.7 315.2 263.6 317 C264.5 318.9 265.3 321.1 266.4 322.7 C267.5 324.2 268.9 325.2 270.2 326.4 C271.4 327.7 272.7 328.9 273.9 330.2 C275.2 331.4 276.4 332.5 277.7 333.9 C278.9 335.3 280.3 337.4 281.4 338.6 C282.5 339.9 283.3 340.6 284.2 341.4 C285.2 342.2 285.6 342.7 287 343.3 C288.5 343.9 290.8 344.7 292.7 345.2 C294.6 345.6 296.4 345.8 298.3 346.1 C300.2 346.4 302.1 346.7 303.9 347 C305.8 347.4 307.8 347.8 309.6 348 C311.3 348.1 313.2 347.5 314.3 348 C315.3 348.5 316 349.7 316.1 350.8 C316.3 351.9 315 353.5 315.2 354.6 C315.3 355.6 315.8 356.4 317.1 357.4 C318.3 358.3 320.8 359.2 322.7 360.2 C324.6 361.1 326.4 362.2 328.3 363 C330.2 363.8 331.4 364.2 334 364.9 C336.5 365.5 341.8 364.7 343.3 366.7 C344.9 368.8 387.8 376.3 343.3 377.1 C298.8 377.9 120.9 372.8 76.4 371.5Z" fill="#ff8000" stroke="#000" stroke-opacity=".55" stroke-width=".5"/>
<path d="M251 306.7 C251 307.1 250.9 307.5 250.8 307.8 C250.7 308.2 250.5 308.5 250.3 308.7 C250.1 308.8 249.8 309 249.5 309 C249.3 309 249 308.8 248.8 308.7 C248.6 308.5 248.3 308.2 248.2 307.8 C248.1 307.5 248 307.1 248 306.7 C248 306.3 248.1 305.9 248.2 305.6 C248.3 305.3 248.6 304.9 248.8 304.8 C249 304.6 249.3 304.5 249.5 304.5 C249.8 304.5 250.1 304.6 250.3 304.8 C250.5 304.9 250.7 305.3 250.8 305.6 C250.9 305.9 251 306.3 251 306.7Z" fill="#ffbf00" stroke="#000" stroke-opacity=".55" stroke-width=".5"/>
<path d="M137.6 377.1 C113.4 375.8 137.3 371.2 137.6 369.2 C138 367.2 138.3 366.2 139.5 364.9 C140.8 363.5 143 362.2 145.1 361.1 C147.3 360 150.5 359.2 152.6 358.3 C154.8 357.4 156.7 356.4 158.3 355.5 C159.8 354.6 160.8 353.3 162 352.7 C163.3 352.1 164.5 351.6 165.8 351.7 C167 351.9 168.3 353.1 169.5 353.6 C170.8 354.1 171.7 354.4 173.3 354.6 C174.8 354.7 177 354.6 178.9 354.6 C180.8 354.6 182.4 354.7 184.5 354.6 C186.7 354.4 189.5 353.9 192 353.6 C194.5 353.3 197.1 353 199.6 352.7 C202.1 352.4 205 352.7 207.1 351.7 C209.1 350.8 210.6 347.5 212 347 C213.4 346.6 214.2 348.1 215.8 348.9 C217.3 349.7 219.5 351.1 221.4 351.7 C223.3 352.4 225.1 352.5 227 352.7 C228.9 352.9 230.4 353.1 232.6 353.1 C234.8 353 238 352.5 240.1 352.3 C242.3 352.1 243.9 351.7 245.8 351.7 C247.6 351.8 249.7 352.2 251.4 352.7 C253.1 353.1 254.5 353.8 256.1 354.6 C257.7 355.3 259.4 356.4 260.8 357.4 C262.2 358.3 263.4 359.1 264.5 360.2 C265.6 361.3 266.7 362.8 267.3 363.9 C268 365 267.5 366.4 268.3 366.7 C269.1 367.1 270.6 366.1 272 365.8 C273.4 365.6 275.5 365.2 276.7 365.2 C278 365.2 278.6 365.4 279.5 365.8 C280.5 366.2 281.7 365.8 282.4 367.7 C283 369.6 307.4 375.5 283.3 377.1 C259.2 378.6 161.9 378.4 137.6 377.1Z" fill="#ff4000" stroke="#000" stroke-opacity=".55" stroke-width=".5"/>
<path d="M186.4 373.3 C181.7 372.6 185.5 370.1 186.4 369.2 C187.4 368.2 189.9 368.1 192 367.7 C194.2 367.3 197.1 367 199.6 366.7 C202.1 366.5 205.2 366 207.1 366.2 C208.9 366.3 209.6 367.2 210.8 367.7 C212.1 368.2 213.9 368.2 214.6 369.2 C215.2 370.1 219.3 372.6 214.6 373.3 C209.9 374 191.1 374 186.4 373.3Z" fill="#ff0000" stroke="#000" stroke-opacity=".55" stroke-width=".5"/>
<path d="M229.6 373.3 C228.1 372.6 231.8 370 233.3 369.2 C234.9 368.3 241.6 368.2 239 368.2 C236.3 368.2 220.2 369.2 217.6 369.2 C215 369.2 221.1 368.2 223.3 368.1 C225.4 367.9 228.3 368.2 230.8 368.2 C233.3 368.2 236.4 367.9 238.3 368.1 C240.1 368.2 241.4 368.3 242 369.2 C242.6 370.1 244.1 372.6 242 373.3 C239.9 374 231 374 229.6 373.3Z" fill="#ff0000" stroke="#000" stroke-opacity=".55" stroke-width=".5"/>
</g>
<path d="M55.9 275.1v2.5M55.9 369.7v-2.5M87.5 275.1v2.5M87.5 369.7v-2.5M119.2 275.1v2.5M119.2 369.7v-2.5M150.8 275.1v2.5M150.8 369.7v-2.5M182.5 275.1v2.5M182.5 369.7v-2.5M214.2 275.1v2.5M214.2 369.7v-2.5M245.8 275.1v2.5M245.8 369.7v-2.5M277.5 275.1v2.5M277.5 369.7v-2.5M309.1 275.1v2.5M309.1 369.7v-2.5M24.2 306.6h2.5M340.8 306.6h-2.5M24.2 338.2h2.5M340.8 338.2h-2.5" stroke="#444" stroke-width=".5" fill="none"/>
<rect x="24.2" y="275.1" width="316.6" height="94.6" fill="none" stroke="#bbb" stroke-width=".5"/>
<text x="182.5" y="272.7" font-size="8" font-weight="bold" text-anchor="middle" fill="#000">p LaVision4D [Pa], ppp = 0.02</text>
<text x="21.6" y="277.5" font-size="7" text-anchor="end">0.03</text>
<text x="21.6" y="309" font-size="7" text-anchor="end">0.02</text>
<text x="21.6" y="340.6" font-size="7" text-anchor="end">0.01</text>
<text transform="translate(6.7 322.4) rotate(-90)" font-size="7.5" text-anchor="middle">Z [m]</text>
<g clip-path="url(#cR2)">
<rect x="367.7" y="275" width="314.8" height="93.9" fill="#ffff00"/>
<path d="M364 269.5 C371.3 257.8 400.6 268.6 407.9 269.5 C415.3 270.4 407.5 273.5 407.9 275 C408.4 276.5 409.6 277.1 410.5 278.3 C411.3 279.4 412.1 280.8 413 282 C413.8 283.3 414.6 284.6 415.5 285.8 C416.3 287.1 417.1 288.2 418 289.6 C418.8 290.9 419.7 292.5 420.5 294 C421.3 295.4 422.2 296.8 423 298.4 C423.8 299.9 424.7 301.7 425.5 303.4 C426.4 305.1 427.3 306.7 428 308.4 C428.8 310.1 429.5 312 429.9 313.4 C430.3 314.9 430.7 315.9 430.5 317.2 C430.3 318.5 429.4 319.9 428.7 321 C427.9 322 427.1 322.7 426.1 323.5 C425.2 324.2 424.2 324.7 423 325.4 C421.9 326 420.3 326.5 419.2 327.2 C418.2 328 417.4 328.9 416.7 329.8 C416.1 330.6 415.5 331.4 415.5 332.3 C415.5 333.1 416.1 334 416.7 334.8 C417.4 335.5 418.6 335.8 419.2 336.7 C419.9 337.5 420.9 339.3 420.5 339.8 C420.1 340.3 418.2 340.7 416.7 339.8 C415.3 338.9 413.4 335.4 411.7 334.1 C410 332.9 408.4 332.9 406.7 332.5 C405 332.1 403.3 331.8 401.7 331.8 C400 331.7 398.1 331.9 396.6 332.4 C395.2 332.8 393.9 333.2 392.9 334.4 C391.8 335.6 395.2 338.9 390.4 339.8 C385.6 340.7 368.4 351.5 364 339.8 C359.6 328.1 356.7 281.2 364 269.5Z" fill="#bfff40" stroke="#000" stroke-opacity=".55" stroke-width=".5"/>
<path d="M364 287.7 C364.6 285.2 366.1 288 367.8 287.1 C369.4 286.1 371.7 283.5 374 282 C376.3 280.6 379.1 279.2 381.6 278.3 C384.1 277.3 386.6 277 389.1 276.4 C391.7 275.8 395.4 275 396.9 274.8 C398.4 274.5 398.1 274.6 397.9 275 C397.6 275.4 396.3 276.2 395.4 277 C394.4 277.9 393.1 279.1 392.2 280.2 C391.4 281.2 390.9 282.1 390.4 283.3 C389.8 284.5 389.6 285.8 389.1 287.1 C388.6 288.3 388.3 289.7 387.2 290.8 C386.2 292 384.4 293.2 382.8 294 C381.3 294.7 379.3 294.8 377.8 295.2 C376.3 295.6 375.3 295.9 374 296.5 C372.8 297.1 371.3 298.2 370.3 299 C369.2 299.8 368.8 301 367.8 301.5 C366.7 302 364.6 304.4 364 302.1 C363.4 299.8 363.4 290.2 364 287.7Z" fill="#ffff00" stroke="#000" stroke-opacity=".55" stroke-width=".5"/>
<path d="M370.3 313.4 C370.4 312.5 370.7 310.7 371.5 309.7 C372.4 308.6 373.8 307.8 375.3 307.2 C376.8 306.5 378.9 305.9 380.3 305.9 C381.8 305.9 383.3 306.4 384.1 307.2 C384.9 307.9 385.4 309.2 385.3 310.3 C385.2 311.3 384.5 312.6 383.5 313.4 C382.4 314.3 380.6 314.9 379.1 315.3 C377.5 315.7 375.4 315.9 374 315.9 C372.7 315.9 371.5 315.7 370.9 315.3 C370.3 314.9 370.2 314.4 370.3 313.4Z" fill="#ffff00" stroke="#000" stroke-opacity=".55" stroke-width=".5"/>
<path d="M388.5 292.1 C388.2 291 388.5 289.6 389.1 288.3 C389.7 287.1 391.1 285.6 392.2 284.6 C393.4 283.5 394.9 282.5 396 282 C397.2 281.6 398.3 281.4 399.2 282 C400 282.7 400.6 284.6 401 285.8 C401.5 287.1 401.9 288.4 401.7 289.6 C401.5 290.7 400.8 291.9 399.8 292.7 C398.7 293.6 396.9 294.3 395.4 294.6 C393.9 294.9 392.1 295 391 294.6 C389.8 294.2 388.8 293.1 388.5 292.1Z" fill="#80ff80" stroke="#000" stroke-opacity=".55" stroke-width=".5"/>
<path d="M396 290.6 C396 290.7 395.9 290.9 395.8 291.1 C395.6 291.2 395.3 291.4 395.1 291.5 C394.8 291.5 394.4 291.6 394.1 291.6 C393.8 291.6 393.5 291.5 393.2 291.5 C392.9 291.4 392.7 291.2 392.5 291.1 C392.3 290.9 392.2 290.7 392.2 290.6 C392.2 290.4 392.3 290.2 392.5 290.1 C392.7 289.9 392.9 289.8 393.2 289.7 C393.5 289.6 393.8 289.6 394.1 289.6 C394.4 289.6 394.8 289.6 395.1 289.7 C395.3 289.8 395.6 289.9 395.8 290.1 C395.9 290.2 396 290.4 396 290.6Z" fill="#40ffbf" stroke="#000" stroke-opacity=".55" stroke-width=".5"/>
<path d="M396 312.2 C396.1 310.6 396.6 307.8 397.3 305.9 C397.9 304 398.9 302.4 399.8 300.9 C400.6 299.3 401.4 297.8 402.3 296.5 C403.2 295.1 404.4 293.6 405.4 292.7 C406.5 291.9 407.6 291.5 408.6 291.5 C409.5 291.5 410.8 291.8 411.1 292.7 C411.4 293.7 410.9 295.5 410.5 297.1 C410 298.7 409.1 300.5 408.6 302.1 C408 303.8 407 306.1 407.3 307.2 C407.6 308.2 409.1 308.2 410.5 308.4 C411.8 308.6 413.8 308.3 415.5 308.4 C417.1 308.5 419 308.7 420.5 309 C422 309.4 423.2 309.7 424.3 310.3 C425.3 310.9 426.3 311.8 426.8 312.8 C427.3 313.8 427.5 315.3 427.4 316.6 C427.3 317.8 426.9 319.3 426.1 320.3 C425.4 321.4 424.2 322.2 423 322.8 C421.9 323.5 420.7 323.8 419.2 324.1 C417.8 324.4 415.7 324.4 414.2 324.7 C412.8 325 411.4 325.4 410.5 326 C409.5 326.6 409.2 327.9 408.6 328.5 C407.9 329.1 407.4 330 406.7 329.8 C406 329.5 405 328.3 404.2 327.2 C403.3 326.2 402.5 324.9 401.7 323.5 C400.8 322 400 319.8 399.2 318.5 C398.3 317.1 397.2 316.4 396.6 315.3 C396.1 314.3 395.9 313.7 396 312.2Z" fill="#80ff80" stroke="#000" stroke-opacity=".55" stroke-width=".5"/>
<path d="M402.3 315.9 C402.3 315.1 403 314.6 404.2 314.1 C405.3 313.5 407.5 313.1 409.2 312.8 C410.9 312.5 412.5 312.2 414.2 312.2 C415.9 312.2 417.8 312.4 419.2 312.8 C420.7 313.2 422 314.1 423 314.7 C424.1 315.3 425.1 315.8 425.5 316.6 C425.9 317.3 425.9 318.3 425.5 319.1 C425.1 319.8 424.3 320.4 423 321 C421.8 321.5 419.7 322 418 322.2 C416.3 322.4 414.6 322.4 413 322.2 C411.3 322 409.4 321.5 407.9 321 C406.5 320.4 405.1 319.9 404.2 319.1 C403.2 318.2 402.3 316.8 402.3 315.9Z" fill="#40ffbf" stroke="#000" stroke-opacity=".55" stroke-width=".5"/>
<path d="M410.5 315.3 C410.9 314.7 412.5 314.1 413.6 314.1 C414.6 314.1 415.8 314.8 416.7 315.3 C417.7 315.8 418.4 316.8 419.2 317.2 C420.1 317.6 421.1 317.5 421.8 317.8 C422.4 318.1 423.2 318.7 423 319.1 C422.8 319.5 421.5 320.1 420.5 320.3 C419.5 320.5 417.9 320.4 416.7 320.3 C415.6 320.2 414.5 320.1 413.6 319.7 C412.6 319.3 411.6 318.6 411.1 317.8 C410.6 317.1 410 315.9 410.5 315.3Z" fill="#00ffff" stroke="#000" stroke-opacity=".55" stroke-width=".5"/>
<path d="M418.5 318.5 C418.5 318.6 418.4 318.7 418.4 318.8 C418.3 318.9 418.2 319 418.1 319.1 C418 319.2 417.9 319.2 417.7 319.2 C417.6 319.2 417.5 319.2 417.4 319.1 C417.2 319 417.1 318.9 417.1 318.8 C417 318.7 417 318.6 417 318.5 C417 318.3 417 318.2 417.1 318.1 C417.1 318 417.2 317.9 417.4 317.8 C417.5 317.7 417.6 317.7 417.7 317.7 C417.9 317.7 418 317.7 418.1 317.8 C418.2 317.9 418.3 318 418.4 318.1 C418.4 318.2 418.5 318.3 418.5 318.5Z" fill="#00bfff" stroke="#000" stroke-opacity=".55" stroke-width=".5"/>
<path d="M364 303.4 C364.6 302.4 366.5 303.6 367.8 303.4 C369 303.2 370.2 302.5 371.5 302.1 C372.9 301.8 375 301.1 375.9 301.1 C376.9 301.1 377.4 301.5 377.2 302.1 C377 302.7 375.6 303.8 374.7 304.6 C373.7 305.5 372.7 306.4 371.5 307.2 C370.4 307.9 369 308.7 367.8 309 C366.5 309.4 364.6 310 364 309 C363.4 308.1 363.4 304.3 364 303.4Z" fill="#80ff80" stroke="#000" stroke-opacity=".55" stroke-width=".5"/>
<path d="M364 304.6 C364.6 304.1 366.5 304.9 367.8 304.6 C369 304.4 370.3 303.8 371.5 303.4 C372.8 302.9 374.6 302 375.3 301.9 C376 301.8 376.3 302.2 375.9 302.8 C375.5 303.3 373.8 304.5 372.8 305.3 C371.7 306 370.5 306.7 369.6 307.2 C368.8 307.6 368.7 307.7 367.8 307.8 C366.8 307.9 364.6 308.3 364 307.8 C363.4 307.3 363.4 305.2 364 304.6Z" fill="#40ffbf" stroke="#000" stroke-opacity=".55" stroke-width=".5"/>
<path d="M371.4 305.6 C371.4 305.8 371.3 306 371.2 306.1 C371 306.3 370.8 306.4 370.5 306.5 C370.3 306.6 369.9 306.7 369.6 306.7 C369.4 306.7 369 306.6 368.8 306.5 C368.5 306.4 368.3 306.3 368.1 306.1 C368 306 367.9 305.8 367.9 305.6 C367.9 305.5 368 305.3 368.1 305.1 C368.3 305 368.5 304.9 368.8 304.8 C369 304.7 369.4 304.6 369.6 304.6 C369.9 304.6 370.3 304.7 370.5 304.8 C370.8 304.9 371 305 371.2 305.1 C371.3 305.3 371.4 305.5 371.4 305.6Z" fill="#00ffff" stroke="#000" stroke-opacity=".55" stroke-width=".5"/>
<path d="M364 317.2 C364.6 313.4 366.5 317.2 367.8 317.2 C369 317.2 370.3 316.8 371.5 317.2 C372.8 317.6 374.3 318.7 375.3 319.7 C376.3 320.8 377.2 322 377.8 323.5 C378.4 324.9 378.9 326.8 379.1 328.5 C379.2 330.2 379 331.6 378.8 333.5 C378.6 335.4 380.3 338.7 377.8 339.8 C375.3 340.8 366.3 343.6 364 339.8 C361.7 336 363.4 321 364 317.2Z" fill="#80ff80" stroke="#000" stroke-opacity=".55" stroke-width=".5"/>
<path d="M364 318.5 C364.6 314.9 366.5 318.3 367.8 318.5 C369 318.6 370.4 318.6 371.5 319.1 C372.7 319.6 373.8 320.4 374.7 321.6 C375.5 322.7 376.2 324.4 376.6 326 C376.9 327.6 376.7 328.7 376.6 331 C376.5 333.3 378 338.3 375.9 339.8 C373.8 341.3 366 343.4 364 339.8 C362 336.2 363.4 322 364 318.5Z" fill="#40ffbf" stroke="#000" stroke-opacity=".55" stroke-width=".5"/>
<path d="M364 321 C364.6 317.8 366.5 320.8 367.8 321 C369 321.2 370.6 321.6 371.5 322.2 C372.5 322.8 372.9 323.7 373.4 324.7 C373.9 325.8 374.6 327 374.7 328.5 C374.8 330 374.3 331.6 374 333.5 C373.8 335.4 375.1 338.7 373.4 339.8 C371.7 340.8 365.6 342.9 364 339.8 C362.4 336.7 363.4 324.1 364 321Z" fill="#00ffff" stroke="#000" stroke-opacity=".55" stroke-width=".5"/>
<path d="M447.2 292.7 C447.2 293.1 447.2 293.6 447.1 294 C446.9 294.3 446.7 294.7 446.5 294.9 C446.3 295.1 446.1 295.2 445.9 295.2 C445.6 295.2 445.4 295.1 445.2 294.9 C445 294.7 444.8 294.3 444.7 294 C444.5 293.6 444.5 293.1 444.5 292.7 C444.5 292.3 444.5 291.8 444.7 291.5 C444.8 291.1 445 290.8 445.2 290.5 C445.4 290.3 445.6 290.2 445.9 290.2 C446.1 290.2 446.3 290.3 446.5 290.5 C446.7 290.8 446.9 291.1 447.1 291.5 C447.2 291.8 447.2 292.3 447.2 292.7Z" fill="#bfff40" stroke="#000" stroke-opacity=".55" stroke-width=".5"/>
<path d="M443 317.8 C443 318.2 442.9 318.7 442.9 319.1 C442.8 319.4 442.7 319.8 442.5 320 C442.4 320.2 442.2 320.3 442.1 320.3 C441.9 320.3 441.8 320.2 441.7 320 C441.5 319.8 441.4 319.4 441.3 319.1 C441.3 318.7 441.2 318.2 441.2 317.8 C441.2 317.4 441.3 316.9 441.3 316.6 C441.4 316.2 441.5 315.9 441.7 315.7 C441.8 315.4 441.9 315.3 442.1 315.3 C442.2 315.3 442.4 315.4 442.5 315.7 C442.7 315.9 442.8 316.2 442.9 316.6 C442.9 316.9 443 317.4 443 317.8Z" fill="#bfff40" stroke="#000" stroke-opacity=".55" stroke-width=".5"/>
<path d="M492 296.4 C490.9 301.5 487.6 294.2 486 292.6 C484.3 291.1 483.8 288.2 482.2 287 C480.6 285.8 478.4 285.5 476.6 285.5 C474.7 285.5 472.8 286.5 470.9 287 C469.1 287.5 467 287.9 465.3 288.5 C463.6 289.1 461.7 289.4 460.6 290.8 C459.5 292.1 459.2 294.5 458.7 296.4 C458.3 298.3 458.3 300.1 457.8 302 C457.3 303.9 456.6 306.1 455.9 307.6 C455.3 309.2 454.8 310.1 454.1 311.4 C453.3 312.7 452 313.9 451.2 315.2 C450.5 316.4 449.8 317.8 449.4 318.9 C448.9 320 448.1 321.1 448.4 321.7 C448.7 322.3 450.1 322.8 451.2 322.7 C452.3 322.5 454.1 320.8 455 320.8 C455.9 320.8 456.7 321.7 456.9 322.7 C457 323.6 456.7 325.3 455.9 326.4 C455.2 327.5 453.4 328.3 452.2 329.2 C450.9 330.2 449.4 330.9 448.4 332 C447.5 333.1 447.2 334.5 446.6 335.8 C445.9 337 445.3 338.4 444.7 339.5 C444.1 340.6 443.7 341.7 442.8 342.4 C441.9 343 440.3 343.3 439 343.3 C437.8 343.3 436.9 342.4 435.3 342.4 C433.7 342.4 431.5 343.2 429.7 343.3 C427.8 343.4 425.6 342.9 424 342.9 C422.5 342.9 421.5 343.1 420.3 343.3 C419 343.5 417.6 343.8 416.5 344.2 C415.4 344.7 414.3 345.3 413.7 346.1 C413.1 346.9 413.4 348.1 412.8 348.9 C412.2 349.7 410.7 349.9 410 350.8 C409.2 351.7 408.6 353 408.1 354.6 C407.6 356.1 407.4 356.4 407.2 360.2 C406.9 363.9 358 373.8 406.8 377.1 C455.6 380.4 651.1 399.2 700 380 C748.9 360.8 734.7 281.7 700 262 C665.3 242.3 526.7 256.3 492 262 C457.3 267.7 493 291.3 492 296.4Z" fill="#ffbf00" stroke="#000" stroke-opacity=".55" stroke-width=".5"/>
<path d="M424.3 334.1 C424.3 334.3 424.2 334.5 424.1 334.6 C424 334.8 423.8 334.9 423.6 335 C423.5 335.1 423.2 335.2 423 335.2 C422.8 335.2 422.6 335.1 422.4 335 C422.2 334.9 422 334.8 421.9 334.6 C421.8 334.5 421.8 334.3 421.8 334.1 C421.8 334 421.8 333.8 421.9 333.6 C422 333.5 422.2 333.4 422.4 333.3 C422.6 333.2 422.8 333.1 423 333.1 C423.2 333.1 423.5 333.2 423.6 333.3 C423.8 333.4 424 333.5 424.1 333.6 C424.2 333.8 424.3 334 424.3 334.1Z" fill="#ffbf00" stroke="#000" stroke-opacity=".55" stroke-width=".5"/>
<path d="M452.5 283.3 C453.7 286.9 457.8 288.9 460 289.8 C462.2 290.8 463.8 289.2 465.6 288.9 C467.5 288.6 469.4 288.3 471.3 287.9 C473.1 287.6 475.3 286.9 476.9 287 C478.4 287.2 479.7 287.9 480.6 288.9 C481.6 289.8 481.9 291.1 482.5 292.6 C483.1 294.2 483.5 296.5 484.4 298.3 C485.3 300 486.9 301.5 488.1 303 C489.4 304.4 491 305.3 491.9 306.7 C492.8 308.1 493.1 309.7 493.8 311.4 C494.4 313.1 495 315.3 495.6 317 C496.3 318.7 496.6 320.5 497.5 321.7 C498.5 323 499.7 323.9 501.3 324.5 C502.8 325.2 505.5 325.6 506.9 325.5 C508.3 325.3 508.9 324.7 509.7 323.6 C510.5 322.5 511.4 320.6 511.6 318.9 C511.8 317.2 511 315 510.7 313.3 C510.3 311.6 509.6 310.1 509.7 308.6 C509.9 307 510.5 305.1 511.6 303.9 C512.7 302.6 514.6 301.9 516.3 301.1 C518 300.3 520 299.7 521.9 299.2 C523.8 298.7 525.7 298.3 527.5 298.3 C529.4 298.3 531.6 298.9 533.2 299.2 C534.7 299.5 535.7 300.3 536.9 300.1 C538.2 300 539.1 299.2 540.7 298.3 C542.2 297.3 544.7 295.8 546.3 294.5 C547.9 293.3 549.1 292.3 550.1 290.8 C551 289.2 551 286.7 551.9 285.1 C552.9 283.6 554.1 282.6 555.7 281.4 C557.2 280.1 559.7 278.7 561.3 277.6 C562.9 276.6 564.4 276.6 565.1 275 C565.7 273.4 583.8 269.4 565.1 268.2 C546.3 267.1 471.3 265.7 452.5 268.2 C433.7 270.7 451.2 279.7 452.5 283.3Z" fill="#ffff00" stroke="#000" stroke-opacity=".55" stroke-width=".5"/>
<path d="M508.8 268.2 C513 266.1 532.5 266.2 536.9 268.2 C541.3 270.3 536.1 277.8 535 280.4 C534 283.1 532.2 283.4 530.4 284.2 C528.5 285 526.1 285.4 523.8 285.5 C521.4 285.6 518.3 285.4 516.3 284.8 C514.3 284.1 512.8 284.1 511.6 281.4 C510.3 278.6 504.6 270.4 508.8 268.2Z" fill="#bfff40" stroke="#000" stroke-opacity=".55" stroke-width=".5"/>
<path d="M507.8 288.5 C507.8 289 507.7 289.5 507.5 289.9 C507.2 290.3 506.8 290.7 506.4 290.9 C506 291.2 505.5 291.3 505 291.3 C504.6 291.3 504 291.2 503.6 290.9 C503.2 290.7 502.8 290.3 502.6 289.9 C502.4 289.5 502.2 289 502.2 288.5 C502.2 288 502.4 287.5 502.6 287.1 C502.8 286.7 503.2 286.3 503.6 286.1 C504 285.8 504.6 285.7 505 285.7 C505.5 285.7 506 285.8 506.4 286.1 C506.8 286.3 507.2 286.7 507.5 287.1 C507.7 287.5 507.8 288 507.8 288.5Z" fill="#bfff40" stroke="#000" stroke-opacity=".55" stroke-width=".5"/>
<path d="M514.4 297.3 C514.4 297.5 514.3 297.8 514 298 C513.8 298.2 513.4 298.4 513 298.5 C512.6 298.6 512.1 298.6 511.6 298.6 C511.1 298.6 510.6 298.6 510.2 298.5 C509.8 298.4 509.4 298.2 509.2 298 C508.9 297.8 508.8 297.5 508.8 297.3 C508.8 297.1 508.9 296.9 509.2 296.7 C509.4 296.5 509.8 296.3 510.2 296.2 C510.6 296.1 511.1 296 511.6 296 C512.1 296 512.6 296.1 513 296.2 C513.4 296.3 513.8 296.5 514 296.7 C514.3 296.9 514.4 297.1 514.4 297.3Z" fill="#bfff40" stroke="#000" stroke-opacity=".55" stroke-width=".5"/>
<path d="M501.7 309.5 C501.7 310.1 501.5 310.7 501.3 311.2 C501.2 311.7 500.9 312.2 500.5 312.4 C500.2 312.7 499.8 312.9 499.4 312.9 C499 312.9 498.6 312.7 498.3 312.4 C497.9 312.2 497.6 311.7 497.4 311.2 C497.3 310.7 497.1 310.1 497.1 309.5 C497.1 309 497.3 308.3 497.4 307.8 C497.6 307.3 497.9 306.9 498.3 306.6 C498.6 306.3 499 306.1 499.4 306.1 C499.8 306.1 500.2 306.3 500.5 306.6 C500.9 306.9 501.2 307.3 501.3 307.8 C501.5 308.3 501.7 309 501.7 309.5Z" fill="#ffbf00" stroke="#000" stroke-opacity=".55" stroke-width=".5"/>
<path d="M527.5 292.6 C527.9 291.9 530 291.4 531.3 291.7 C532.5 292 534.1 293.3 535 294.5 C536 295.8 536.8 298.1 536.9 299.2 C537.1 300.3 536.6 301.1 536 301.1 C535.4 301.1 534.3 300 533.2 299.2 C532.1 298.4 530.4 297.5 529.4 296.4 C528.5 295.3 527.2 293.4 527.5 292.6Z" fill="#ffbf00" stroke="#000" stroke-opacity=".55" stroke-width=".5"/>
<path d="M467.5 325.5 C467.5 323.8 468.1 321.9 469.4 321.2 C470.6 320.4 473.1 320.9 475 321.2 C476.9 321.4 478.9 321.8 480.6 322.7 C482.4 323.5 484.4 325 485.3 326.4 C486.3 327.8 486.6 329.5 486.3 331.1 C486 332.7 484.7 334.9 483.5 335.8 C482.2 336.7 480.5 336.9 478.8 336.7 C477 336.6 474.7 335.8 473.1 334.9 C471.6 333.9 470.3 332.7 469.4 331.1 C468.4 329.5 467.5 327.1 467.5 325.5Z" fill="#ffff00" stroke="#000" stroke-opacity=".55" stroke-width=".5"/>
<path d="M460.9 333 C461.4 332 462.7 331.1 463.8 331.1 C464.8 331.1 466.8 332.2 467.5 333 C468.2 333.8 468.3 335.1 467.9 335.8 C467.4 336.5 465.8 337.1 464.7 337.3 C463.5 337.4 461.6 337.4 460.9 336.7 C460.3 336 460.5 333.9 460.9 333Z" fill="#ffff00" stroke="#000" stroke-opacity=".55" stroke-width=".5"/>
<path d="M517.2 324.9 C517.2 325.2 517.1 325.6 517 325.8 C516.9 326.1 516.7 326.4 516.5 326.5 C516.3 326.7 516 326.8 515.7 326.8 C515.5 326.8 515.2 326.7 515 326.5 C514.8 326.4 514.5 326.1 514.4 325.8 C514.3 325.6 514.2 325.2 514.2 324.9 C514.2 324.6 514.3 324.2 514.4 324 C514.5 323.7 514.8 323.4 515 323.3 C515.2 323.1 515.5 323 515.7 323 C516 323 516.3 323.1 516.5 323.3 C516.7 323.4 516.9 323.7 517 324 C517.1 324.2 517.2 324.6 517.2 324.9Z" fill="#ffff00" stroke="#000" stroke-opacity=".55" stroke-width=".5"/>
<path d="M618 268.2 C629.5 266.8 676.6 257.3 688.3 268.2 C700.1 279.2 689.3 323 688.3 333.9 C687.3 344.9 683.9 334.1 682.3 333.9 C680.8 333.8 680.5 333.4 679 333 C677.5 332.5 675.2 331.7 673.3 331.1 C671.4 330.5 669.6 329.7 667.7 329.2 C665.8 328.8 663.9 328.6 662.1 328.3 C660.2 328 658.3 327.7 656.4 327.3 C654.6 327 652.5 326.9 650.8 326.4 C649.1 325.9 647.7 325.5 646.1 324.5 C644.6 323.6 642.8 322.3 641.4 320.8 C640 319.2 638.6 317 637.7 315.2 C636.7 313.3 636.4 311.7 635.8 309.5 C635.2 307.3 634.5 304.5 633.9 302 C633.3 299.5 632.7 297 632 294.5 C631.4 292 631 289.2 630.2 287 C629.4 284.8 628.6 282.8 627.4 281.4 C626.1 280 624.1 279.3 622.7 278.6 C621.3 277.8 619.7 278.4 618.9 276.7 C618.1 275 606.4 269.7 618 268.2Z" fill="#ffff00" stroke="#000" stroke-opacity=".55" stroke-width=".5"/>
<path d="M664.9 353.6 C664.9 352.8 666.6 351.7 667.7 350.8 C668.8 349.9 669.9 348.9 671.4 348 C673 347 675.5 346 677.1 345.2 C678.6 344.4 679 343.8 680.8 343.3 C682.7 342.8 687.1 339.4 688.3 342.4 C689.6 345.3 690.2 358.5 688.3 361.1 C686.5 363.8 679.9 359.1 677.1 358.3 C674.3 357.5 673 356.9 671.4 356.4 C669.9 356 668.8 356 667.7 355.5 C666.6 355 664.9 354.4 664.9 353.6Z" fill="#ffff00" stroke="#000" stroke-opacity=".55" stroke-width=".5"/>
<path d="M429.7 377.1 C391.7 375.8 429 370.9 429.7 369.2 C430.3 367.5 431.9 367.5 433.4 366.7 C435 366 437.2 365.3 439 364.9 C440.9 364.4 442.8 364.2 444.7 363.9 C446.6 363.6 448.4 363.3 450.3 363 C452.2 362.7 454.1 362.3 455.9 362.1 C457.8 361.8 459.7 361.7 461.6 361.7 C463.4 361.7 465.6 362.2 467.2 362.1 C468.8 362 469.7 361.7 470.9 361.1 C472.2 360.5 473.4 359.7 474.7 358.3 C475.9 356.9 477.2 354.6 478.4 352.7 C479.7 350.8 480.6 348.8 482.2 347 C483.8 345.3 486.5 343.8 488.1 342.4 C489.8 340.9 490.8 339.5 491.9 338.6 C493 337.7 493.8 336.7 494.7 336.7 C495.6 336.7 496.4 338 497.5 338.6 C498.6 339.2 499.4 340.3 501.3 340.5 C503.2 340.6 506.3 339.9 508.8 339.5 C511.3 339.2 514.1 339.1 516.3 338.6 C518.5 338.1 520 337.5 521.9 336.7 C523.8 335.9 526 335 527.5 333.9 C529.1 332.8 530 331.4 531.3 330.2 C532.5 328.9 533.5 327.5 535 326.4 C536.6 325.3 538.8 324.5 540.7 323.6 C542.6 322.7 544.4 321.9 546.3 321.2 C548.2 320.4 550.4 319.7 551.9 318.9 C553.5 318.1 554.8 318 555.7 316.1 C556.5 314.2 555.8 309.4 557 307.6 C558.2 305.9 560.8 306.6 562.6 305.8 C564.5 305 566.4 303.7 568.3 303 C570.1 302.2 572 301.5 573.9 301.1 C575.8 300.6 578 300.1 579.5 300.1 C581.1 300.1 582.2 300.1 583.3 301.1 C584.4 302 585.1 304.1 586.1 305.8 C587 307.5 588 310.3 588.9 311.4 C589.8 312.5 590.8 312.5 591.7 312.3 C592.6 312.2 593.6 310.9 594.5 310.5 C595.5 310 596.4 309.4 597.3 309.5 C598.3 309.7 599.4 310.5 600.2 311.4 C600.9 312.3 601.7 313.6 602 315.2 C602.3 316.7 601.6 319.4 602 320.8 C602.5 322.2 603.6 322.7 604.8 323.6 C606.1 324.5 608.1 325.3 609.5 326.4 C610.9 327.5 612 328.9 613.3 330.2 C614.5 331.4 616.1 332.7 617 333.9 C618 335.2 618.3 336.1 618.9 337.7 C619.5 339.2 620.2 341.7 620.8 343.3 C621.4 344.9 621.7 346.3 622.7 347 C623.6 347.8 624.9 347.8 626.4 348 C628 348.1 630.5 347.7 632 348 C633.6 348.3 634.5 349.1 635.8 349.9 C637.1 350.6 638.3 351.9 639.6 352.7 C640.8 353.5 642.1 353.9 643.3 354.6 C644.6 355.2 645.8 355.8 647.1 356.4 C648.3 357.1 649.6 357.4 650.8 358.3 C652.1 359.2 653.6 360.8 654.6 362.1 C655.5 363.3 656 363.3 656.4 365.8 C656.9 368.3 695.2 375.2 657.4 377.1 C619.6 378.9 467.6 378.4 429.7 377.1Z" fill="#ff8000" stroke="#000" stroke-opacity=".55" stroke-width=".5"/>
<path d="M480.3 377.1 C458.5 375.8 480 371.4 480.3 369.2 C480.6 367 481.3 365.3 482.2 363.9 C483.1 362.6 485.3 361.7 486 361.1 C486.6 360.5 485 361 486.3 360.2 C487.6 359.4 491.3 357.7 493.8 356.4 C496.3 355.2 499.1 353.6 501.3 352.7 C503.5 351.7 505 351 506.9 350.8 C508.8 350.6 510.3 351.4 512.5 351.7 C514.7 352.1 517.5 352.5 520 352.7 C522.5 352.8 525 352.8 527.5 352.7 C530 352.5 532.5 352.1 535 351.7 C537.5 351.4 540.4 351 542.6 350.8 C544.7 350.6 546.3 351.1 548.2 350.8 C550.1 350.5 552.3 349.7 553.8 348.9 C555.3 348.1 555.5 346.1 557 346.1 C558.5 346.1 560.8 348.1 562.6 348.9 C564.5 349.7 566.4 350.2 568.3 350.8 C570.1 351.4 572 352.2 573.9 352.7 C575.8 353.1 577.6 353.8 579.5 353.6 C581.4 353.5 583.4 352.2 585.1 351.7 C586.9 351.3 588.3 350.6 589.8 350.8 C591.4 351 593 352.1 594.5 352.7 C596.1 353.3 597.7 353.8 599.2 354.6 C600.8 355.3 602.5 356.4 603.9 357.4 C605.3 358.3 606.6 359.1 607.7 360.2 C608.8 361.3 609.8 361.1 610.5 363.9 C611.1 366.7 633.1 374.9 611.4 377.1 C589.7 379.3 502.2 378.4 480.3 377.1Z" fill="#ff4000" stroke="#000" stroke-opacity=".55" stroke-width=".5"/>
<path d="M558.7 355.5 C558.7 355.7 558.6 355.9 558.5 356.1 C558.4 356.2 558.3 356.4 558.1 356.5 C558 356.6 557.7 356.6 557.6 356.6 C557.4 356.6 557.2 356.6 557 356.5 C556.8 356.4 556.7 356.2 556.6 356.1 C556.5 355.9 556.4 355.7 556.4 355.5 C556.4 355.3 556.5 355.1 556.6 354.9 C556.7 354.8 556.8 354.6 557 354.5 C557.2 354.4 557.4 354.4 557.6 354.4 C557.7 354.4 558 354.4 558.1 354.5 C558.3 354.6 558.4 354.8 558.5 354.9 C558.6 355.1 558.7 355.3 558.7 355.5Z" fill="#ffbf00" stroke="#000" stroke-opacity=".55" stroke-width=".5"/>
<path d="M518.2 373.3 C506.5 372.6 517.5 370.2 518.2 369.2 C518.8 368.2 520 367.7 521.9 367.3 C523.8 366.9 526.9 366.9 529.4 366.7 C531.9 366.6 534.7 366.3 536.9 366.2 C539.1 366 540.7 365.9 542.6 365.8 C544.4 365.7 546.3 365.7 548.2 365.8 C550.1 366 552.3 366.4 553.8 366.7 C555.3 367.1 555.8 367.8 557 368.1 C558.2 368.3 559.5 368.3 560.8 368.1 C562 367.8 563.3 367.1 564.5 366.7 C565.8 366.4 567 366 568.3 366.2 C569.5 366.3 570.8 367.3 572 367.7 C573.3 368.1 574.5 368.8 575.8 368.6 C577 368.5 578.3 367.2 579.5 366.7 C580.8 366.3 582 366 583.3 366.2 C584.5 366.3 586.2 367.2 587 367.7 C587.8 368.2 587.8 368.2 588 369.2 C588.1 370.1 599.6 372.6 588 373.3 C576.3 374 529.8 374 518.2 373.3Z" fill="#ff0000" stroke="#000" stroke-opacity=".55" stroke-width=".5"/>
</g>
<path d="M399.2 275v2.5M399.2 368.9v-2.5M430.7 275v2.5M430.7 368.9v-2.5M462.1 275v2.5M462.1 368.9v-2.5M493.6 275v2.5M493.6 368.9v-2.5M525.1 275v2.5M525.1 368.9v-2.5M556.6 275v2.5M556.6 368.9v-2.5M588.1 275v2.5M588.1 368.9v-2.5M619.5 275v2.5M619.5 368.9v-2.5M651 275v2.5M651 368.9v-2.5M367.7 306.3h2.5M682.5 306.3h-2.5M367.7 337.6h2.5M682.5 337.6h-2.5" stroke="#444" stroke-width=".5" fill="none"/>
<rect x="367.7" y="275" width="314.8" height="93.9" fill="none" stroke="#bbb" stroke-width=".5"/>
<text x="525.1" y="272.6" font-size="8" font-weight="bold" text-anchor="middle" fill="#000">p LaVision4D [Pa], ppp = 0.16</text>
<g clip-path="url(#cL3)">
<rect x="24.2" y="388.4" width="316.2" height="94.8" fill="#ffbf00"/>
<path d="M22 382.2 C22.8 379.7 25.9 380.7 26.7 382.2 C27.5 383.8 26.8 389.1 26.7 391.6 C26.5 394.1 26.5 396.3 25.8 397.3 C25 398.3 22.6 400.1 22 397.6 C21.4 395.1 21.2 384.8 22 382.2Z" fill="#ffff00" stroke="#000" stroke-opacity=".55" stroke-width=".5"/>
<path d="M54.8 382.2 C56.7 381.2 64.2 381.2 66.1 382.2 C68 383.3 65.6 386.8 66.1 388.6 C66.6 390.5 67.8 391.8 68.9 393.5 C70 395.3 71.4 397.3 72.7 399.1 C73.9 401 75.2 402.9 76.4 404.8 C77.7 406.6 78.9 408.5 80.2 410.4 C81.4 412.3 82.8 414.1 83.9 416 C85 417.9 85.9 419.8 86.7 421.6 C87.5 423.5 88.3 425.4 88.6 427.3 C88.9 429.2 88.9 431.2 88.6 432.9 C88.3 434.6 87.8 436.3 86.7 437.6 C85.6 438.8 83.8 439.6 82 440.4 C80.3 441.2 78.6 441.7 76.4 442.3 C74.2 442.9 71.4 443.5 68.9 444.2 C66.4 444.8 63.6 445.4 61.4 446 C59.2 446.7 57.6 447.1 55.8 447.9 C53.9 448.7 52 449.6 50.1 450.7 C48.3 451.8 46.4 453.2 44.5 454.5 C42.6 455.7 40.8 457 38.9 458.2 C37 459.5 35 460.7 33.3 462 C31.5 463.2 30 464.5 28.6 465.7 C27.1 467 25.5 468.7 24.4 469.5 C23.3 470.3 22.4 478.7 22 470.4 C21.6 462.1 21.6 428.2 22 419.8 C22.4 411.3 23.2 420.1 24.4 419.8 C25.7 419.5 27.7 418.8 29.5 417.9 C31.3 417 33.6 415.7 35.1 414.1 C36.7 412.6 37.9 410.4 38.9 408.5 C39.8 406.6 40.1 404.8 40.8 402.9 C41.4 401 41.7 398.8 42.6 397.3 C43.6 395.7 45.1 394.6 46.4 393.5 C47.6 392.4 48.7 391.5 50.1 390.7 C51.5 389.9 54.1 390 54.8 388.6 C55.6 387.2 53 383.3 54.8 382.2Z" fill="#ffff00" stroke="#000" stroke-opacity=".55" stroke-width=".5"/>
<path d="M22 409.5 C22.4 408 23.2 409.3 24.4 408.5 C25.7 407.7 28 405.9 29.5 404.8 C31 403.7 32 402.6 33.3 401.9 C34.5 401.3 36.1 400.9 37 401 C37.9 401.2 38.9 401.9 38.9 402.9 C38.9 403.8 37.9 405.5 37 406.6 C36.1 407.7 34.5 408.5 33.3 409.5 C32 410.4 30.8 411.2 29.5 412.3 C28.3 413.4 26.6 415.2 25.8 416 C24.9 416.8 25.1 416.8 24.4 417 C23.8 417.1 22.4 418.2 22 417 C21.6 415.7 21.6 410.9 22 409.5Z" fill="#ff8000" stroke="#000" stroke-opacity=".55" stroke-width=".5"/>
<path d="M31.4 424.5 C31.5 423.7 32.2 422.6 33.3 422 C34.4 421.5 36.5 421.2 37.9 421.3 C39.4 421.4 41 421.9 41.7 422.6 C42.4 423.3 42.6 424.7 42.3 425.4 C41.9 426.1 41 426.6 39.8 426.9 C38.6 427.2 36.4 427.4 35.1 427.3 C33.9 427.2 32.9 426.8 32.3 426.3 C31.7 425.9 31.2 425.2 31.4 424.5Z" fill="#ffbf00" stroke="#000" stroke-opacity=".55" stroke-width=".5"/>
<path d="M44.5 404.8 C44.8 403.6 45.3 402.1 46.4 401 C47.5 399.9 49.5 398.8 51.1 398.2 C52.6 397.6 54.4 397.2 55.8 397.3 C57.2 397.4 58.7 398 59.5 398.8 C60.3 399.5 60.6 400.6 60.5 401.9 C60.3 403.3 59.7 405.4 58.6 406.6 C57.5 407.9 55.6 408.8 53.9 409.5 C52.2 410.1 49.8 410.6 48.3 410.4 C46.8 410.2 45.5 409.1 44.9 408.1 C44.3 407.2 44.3 405.9 44.5 404.8Z" fill="#bfff40" stroke="#000" stroke-opacity=".55" stroke-width=".5"/>
<path d="M50.1 401.9 C50.6 401.4 52 400.7 53 400.6 C53.9 400.5 55.3 400.9 55.8 401.4 C56.2 401.9 56.2 403.3 55.8 403.8 C55.3 404.4 53.9 404.7 53 404.8 C52 404.8 50.6 404.7 50.1 404.2 C49.7 403.7 49.7 402.5 50.1 401.9Z" fill="#80ff80" stroke="#000" stroke-opacity=".55" stroke-width=".5"/>
<path d="M52 425.4 C52.3 423.5 53.3 421.3 53.9 419.8 C54.5 418.2 54.8 417.3 55.8 416 C56.7 414.8 58.4 413.7 59.5 412.3 C60.6 410.9 61.6 408.7 62.3 407.6 C63.1 406.5 63.4 405.9 64.2 405.7 C65 405.5 66.4 405.5 67 406.6 C67.7 407.7 67.8 410.5 68 412.3 C68.1 414 67.3 415.9 68 417 C68.6 418.1 70.3 418.4 71.7 418.8 C73.1 419.3 75 419.1 76.4 419.8 C77.8 420.4 79.1 421.5 80.2 422.6 C81.3 423.7 82.4 424.9 83 426.3 C83.6 427.7 83.9 429.5 83.9 431 C83.9 432.6 83.8 434.3 83 435.7 C82.2 437.1 80.6 438.5 79.2 439.5 C77.8 440.4 76.3 440.9 74.5 441.3 C72.8 441.8 70.9 441.9 68.9 441.9 C66.9 441.9 64.2 441.8 62.3 441.3 C60.5 440.9 59.1 440.4 57.6 439.5 C56.2 438.5 54.8 437.1 53.9 435.7 C53 434.3 52.3 432.7 52 431 C51.7 429.3 51.7 427.3 52 425.4Z" fill="#bfff40" stroke="#000" stroke-opacity=".55" stroke-width=".5"/>
<path d="M57.6 429.2 C57.9 428.2 58.6 427 59.5 426.3 C60.5 425.6 61.9 425.5 63.3 425 C64.7 424.6 66.6 423.9 68 423.5 C69.4 423.1 70.3 422.6 71.7 422.6 C73.1 422.6 75.2 422.9 76.4 423.5 C77.7 424.1 78.5 425.2 79.2 426.3 C79.9 427.4 80.5 428.8 80.5 430.1 C80.5 431.3 79.9 432.7 79.2 433.8 C78.5 434.9 77.8 436 76.4 436.7 C75 437.3 72.7 437.5 70.8 437.6 C68.9 437.7 66.9 437.5 65.2 437 C63.4 436.6 61.6 435.6 60.5 434.8 C59.3 433.9 58.5 432.9 58 432 C57.6 431 57.4 430.1 57.6 429.2Z" fill="#80ff80" stroke="#000" stroke-opacity=".55" stroke-width=".5"/>
<path d="M63.7 430.7 C63.8 429.7 64.5 428.4 65.5 427.7 C66.6 426.9 68.4 426.5 69.8 426.3 C71.3 426.2 72.9 426.5 74.2 426.9 C75.4 427.3 76.8 427.9 77.5 428.8 C78.2 429.6 78.5 431 78.3 432 C78.1 433 77.5 434.2 76.4 434.8 C75.3 435.4 73.3 435.7 71.7 435.7 C70.2 435.8 68.2 435.6 67 435.2 C65.8 434.7 65 434 64.4 433.3 C63.8 432.5 63.5 431.6 63.7 430.7Z" fill="#40ffbf" stroke="#000" stroke-opacity=".55" stroke-width=".5"/>
<path d="M68 431 C68.2 430.2 68.9 429 69.8 428.6 C70.8 428.2 72.5 428.2 73.6 428.6 C74.7 428.9 75.9 429.8 76.2 430.7 C76.5 431.5 76.1 433.1 75.3 433.7 C74.4 434.2 72.3 434.3 71.2 434.2 C70.1 434.2 69.2 433.8 68.7 433.3 C68.2 432.7 67.8 431.8 68 431Z" fill="#40ffbf" stroke="#000" stroke-opacity=".55" stroke-width=".5"/>
<path d="M22 420.7 C22.4 414 23.5 420.6 24.4 420.7 C25.4 420.9 26.5 420.9 27.6 421.6 C28.8 422.4 30.3 423.8 31.4 425.4 C32.5 427 33.3 429.2 34.2 431 C35.1 432.9 36.4 434.8 37 436.7 C37.6 438.5 37.9 440.4 37.9 442.3 C37.9 444.2 37.6 446 37 447.9 C36.4 449.8 35.3 452 34.2 453.5 C33.1 455.1 31.7 456.2 30.4 457.3 C29.2 458.4 27.7 459.5 26.7 460.1 C25.7 460.7 25.2 460.9 24.4 461 C23.7 461.2 22.4 467.8 22 461 C21.6 454.3 21.6 427.4 22 420.7Z" fill="#bfff40" stroke="#000" stroke-opacity=".55" stroke-width=".5"/>
<path d="M22 422.6 C22.4 417.1 23.5 422.3 24.4 422.6 C25.4 422.9 26.6 423.4 27.6 424.5 C28.6 425.6 29.7 427.4 30.4 429.2 C31.2 430.9 31.8 432.9 32.3 434.8 C32.8 436.7 33.3 438.5 33.3 440.4 C33.3 442.3 32.8 444.3 32.3 446 C31.8 447.8 31.2 449.5 30.4 450.7 C29.7 452 28.6 452.8 27.6 453.5 C26.6 454.3 25.4 455.1 24.4 455.4 C23.5 455.7 22.4 460.9 22 455.4 C21.6 449.9 21.6 428.1 22 422.6Z" fill="#80ff80" stroke="#000" stroke-opacity=".55" stroke-width=".5"/>
<path d="M22 425.4 C22.4 421.3 23.7 425.1 24.4 425.4 C25.2 425.7 26 426 26.7 427.3 C27.4 428.5 28.1 431 28.6 432.9 C29 434.8 29.5 436.7 29.5 438.5 C29.5 440.4 29 442.6 28.6 444.2 C28.1 445.7 27.4 447 26.7 447.9 C26 448.9 25.2 449.5 24.4 449.8 C23.7 450.1 22.4 453.9 22 449.8 C21.6 445.7 21.6 429.5 22 425.4Z" fill="#40ffbf" stroke="#000" stroke-opacity=".55" stroke-width=".5"/>
<path d="M22 430.1 C22.4 427.7 23.8 429.5 24.4 430.1 C25.1 430.7 25.8 432.3 26.1 433.8 C26.5 435.4 26.6 437.9 26.5 439.5 C26.4 441 26.1 442.4 25.4 443.2 C24.6 444 22.6 446.4 22 444.2 C21.4 442 21.6 432.4 22 430.1Z" fill="#40ffbf" stroke="#000" stroke-opacity=".55" stroke-width=".5"/>
<path d="M112.1 407.6 C112.5 406.5 114.2 406.2 115.8 405.7 C117.4 405.2 119.6 405.5 121.4 404.8 C123.3 404 125.2 402.3 127.1 401 C128.9 399.8 131.1 398.5 132.7 397.3 C134.3 396 135 394.3 136.4 393.5 C137.9 392.7 139.9 392.1 141.1 392.6 C142.3 393 143.4 394.9 143.6 396.3 C143.7 397.7 143 399.3 142.1 401 C141.2 402.7 139.6 404.8 138.3 406.6 C137.1 408.5 135.8 410.4 134.6 412.3 C133.3 414.1 132.1 416 130.8 417.9 C129.6 419.8 128.2 421.6 127.1 423.5 C126 425.4 125.2 427.3 124.3 429.2 C123.3 431 122.2 433.2 121.4 434.8 C120.7 436.3 120.3 438.1 119.6 438.5 C118.8 439 117.4 438.7 116.7 437.6 C116.1 436.5 116 434 115.8 432 C115.7 429.9 116 427.7 115.8 425.4 C115.7 423.1 115.3 420.1 114.9 417.9 C114.4 415.7 113.5 414 113 412.3 C112.5 410.5 111.6 408.7 112.1 407.6Z" fill="#ff8000" stroke="#000" stroke-opacity=".55" stroke-width=".5"/>
<path d="M95.2 382.2 C97 380.7 106.4 380.7 108.3 382.2 C110.2 383.8 107.5 389.8 106.4 391.6 C105.3 393.4 103.3 393.1 101.7 393.1 C100.2 393.1 98.1 393.4 97 391.6 C96 389.8 93.3 383.8 95.2 382.2Z" fill="#ff8000" stroke="#000" stroke-opacity=".55" stroke-width=".5"/>
<path d="M108.7 411.9 C108.7 412.1 108.6 412.4 108.5 412.5 C108.4 412.7 108.2 412.9 108 413 C107.8 413.1 107.6 413.2 107.4 413.2 C107.1 413.2 106.9 413.1 106.7 413 C106.5 412.9 106.3 412.7 106.2 412.5 C106.1 412.4 106.1 412.1 106.1 411.9 C106.1 411.7 106.1 411.4 106.2 411.2 C106.3 411 106.5 410.9 106.7 410.8 C106.9 410.6 107.1 410.6 107.4 410.6 C107.6 410.6 107.8 410.6 108 410.8 C108.2 410.9 108.4 411 108.5 411.2 C108.6 411.4 108.7 411.7 108.7 411.9Z" fill="#ff8000" stroke="#000" stroke-opacity=".55" stroke-width=".5"/>
<path d="M99.3 434.8 C99.3 435 99.2 435.3 99.1 435.5 C99.1 435.7 98.9 436 98.7 436.1 C98.6 436.2 98.4 436.3 98.2 436.3 C98 436.3 97.8 436.2 97.6 436.1 C97.4 436 97.3 435.7 97.2 435.5 C97.1 435.3 97 435 97 434.8 C97 434.5 97.1 434.2 97.2 434 C97.3 433.8 97.4 433.6 97.6 433.5 C97.8 433.4 98 433.3 98.2 433.3 C98.4 433.3 98.6 433.4 98.7 433.5 C98.9 433.6 99.1 433.8 99.1 434 C99.2 434.2 99.3 434.5 99.3 434.8Z" fill="#ffff00" stroke="#000" stroke-opacity=".55" stroke-width=".5"/>
<path d="M169.5 382.2 C173.5 380.5 190.2 380.4 193.9 382.2 C197.7 384.1 193.1 391 192 393.5 C191 396 189.2 396.3 187.4 397.3 C185.5 398.3 182.8 399.2 180.8 399.5 C178.8 399.8 176.7 399.7 175.2 399.1 C173.6 398.6 172.3 397.4 171.4 396.3 C170.5 395.2 170.2 394.9 169.9 392.6 C169.6 390.2 165.5 384 169.5 382.2Z" fill="#ffff00" stroke="#000" stroke-opacity=".55" stroke-width=".5"/>
<path d="M163.9 405.7 C164.4 405 165.5 404.2 166.7 403.8 C168 403.4 170.2 403.1 171.4 403.3 C172.7 403.4 173.8 403.9 174.2 404.8 C174.7 405.6 174.7 407.3 174.2 408.1 C173.8 409 172.7 409.7 171.4 410 C170.2 410.3 168 410.3 166.7 410 C165.5 409.7 164.4 408.9 163.9 408.1 C163.4 407.4 163.4 406.4 163.9 405.7Z" fill="#ffff00" stroke="#000" stroke-opacity=".55" stroke-width=".5"/>
<path d="M186.4 416 C186.4 416.3 186.3 416.6 186 416.8 C185.8 417 185.4 417.2 185 417.3 C184.6 417.4 184.1 417.5 183.6 417.5 C183.1 417.5 182.6 417.4 182.2 417.3 C181.8 417.2 181.4 417 181.2 416.8 C180.9 416.6 180.8 416.3 180.8 416 C180.8 415.8 180.9 415.5 181.2 415.3 C181.4 415.1 181.8 414.8 182.2 414.7 C182.6 414.6 183.1 414.5 183.6 414.5 C184.1 414.5 184.6 414.6 185 414.7 C185.4 414.8 185.8 415.1 186 415.3 C186.3 415.5 186.4 415.8 186.4 416Z" fill="#ff8000" stroke="#000" stroke-opacity=".55" stroke-width=".5"/>
<path d="M58.6 491.1 C10 488.3 58.3 485.7 58.6 483.2 C58.9 480.7 59.7 478 60.5 476.1 C61.2 474.1 62 472.6 63.3 471.4 C64.5 470.1 66.4 469.5 68 468.6 C69.5 467.6 70.9 466.5 72.7 465.7 C74.4 465 76.4 464.3 78.3 463.9 C80.2 463.4 82 463.2 83.9 462.9 C85.8 462.6 87.7 461.8 89.5 462 C91.4 462.1 93.6 462.8 95.2 463.9 C96.7 465 97.7 468.1 98.9 468.6 C100.2 469 101.1 467.3 102.7 466.7 C104.2 466.1 106.4 465.1 108.3 464.8 C110.2 464.5 111.5 464.8 113.9 464.8 C116.3 464.8 120.2 465.4 122.6 464.8 C125 464.2 126.4 462.6 128.3 461 C130.1 459.5 132 457.3 133.9 455.4 C135.8 453.5 137.6 451.5 139.5 449.8 C141.4 448.1 143.6 446 145.1 445.1 C146.7 444.2 147.6 444 148.9 444.2 C150.1 444.3 151.4 445.3 152.6 446 C153.9 446.8 154.8 447.9 156.4 448.9 C158 449.8 160.2 451 162 451.7 C163.9 452.3 165.8 452.9 167.7 452.6 C169.5 452.3 171.7 450.9 173.3 449.8 C174.8 448.7 175.8 447.4 177 446 C178.3 444.6 179.7 442.8 180.8 441.3 C181.9 439.9 183.3 438.8 183.6 437.6 C183.9 436.3 183.4 434.9 182.7 433.8 C181.9 432.7 179.4 431.8 178.9 431 C178.4 430.2 179.1 429.5 179.9 429.2 C180.6 428.8 182.4 429 183.6 429.2 C184.9 429.3 186.1 430.2 187.4 430.1 C188.6 429.9 190.2 429.3 191.1 428.2 C192 427.1 192.4 424.9 193 423.5 C193.6 422.1 194.1 420.6 194.9 419.8 C195.6 418.9 196.3 418.4 197.7 418.3 C199.1 418.1 201.6 418.6 203.3 418.8 C205 419.1 206.7 419.8 208 419.8 C209.2 419.8 209.9 419.8 210.8 418.8 C211.7 417.9 212.8 415.7 213.6 414.1 C214.4 412.6 214.6 410.9 215.5 409.5 C216.4 408 217.8 406.8 219.3 405.7 C220.7 404.6 222.2 403.8 223.9 402.9 C225.7 401.9 227.7 401.3 229.6 400.1 C231.4 398.8 233.3 396.9 235.2 395.4 C237.1 393.8 239.2 391.9 240.8 390.7 C242.5 389.4 244.4 389.3 245 387.9 C245.5 386.5 226.4 385.2 243.9 382.2 C261.4 379.3 332.3 350.4 350 370 C367.7 389.6 398.6 479.8 350 500 C301.4 520.2 107.2 493.9 58.6 491.1Z" fill="#ff8000" stroke="#000" stroke-opacity=".55" stroke-width=".5"/>
<path d="M262.7 382.2 C275.8 380.8 329.9 376 343.3 382.2 C356.8 388.5 344 413.5 343.3 419.8 C342.7 426 340.7 419.5 339.6 419.8 C338.5 420.1 337.4 420.7 336.8 421.6 C336.1 422.6 335.8 423.8 335.8 425.4 C335.8 427 336.8 429.2 336.8 431 C336.8 432.9 336.6 435.2 335.8 436.7 C335 438.1 333.6 438.8 332.1 439.5 C330.5 440.1 328.6 440.2 326.4 440.4 C324.3 440.6 321.4 440.7 318.9 440.8 C316.4 440.8 313.9 441 311.4 440.8 C308.9 440.6 306.1 440 303.9 439.5 C301.7 438.9 299.9 438.4 298.3 437.6 C296.7 436.8 295.5 436.2 294.6 434.8 C293.6 433.4 293.3 431 292.7 429.2 C292.1 427.3 291.4 425.1 290.8 423.5 C290.2 422 289.7 421 288.9 419.8 C288.1 418.5 286.7 417.6 286.1 416 C285.5 414.5 285.5 412.1 285.2 410.4 C284.9 408.7 284.9 406.8 284.2 405.7 C283.6 404.6 282.5 404.1 281.4 403.8 C280.3 403.5 278.9 403.4 277.7 403.8 C276.4 404.3 274.9 405.5 273.9 406.6 C273 407.7 272.5 408.8 272 410.4 C271.6 412 271.7 414.8 271.1 416 C270.5 417.3 269.2 417.9 268.3 417.9 C267.3 417.9 266.1 417.3 265.5 416 C264.8 414.8 264.5 412.6 264.5 410.4 C264.5 408.2 265.2 405.4 265.5 402.9 C265.8 400.4 266.6 397.4 266.4 395.4 C266.3 393.3 265.2 392.9 264.5 390.7 C263.9 388.5 249.5 383.7 262.7 382.2Z" fill="#ffbf00" stroke="#000" stroke-opacity=".55" stroke-width=".5"/>
<path d="M343.3 440.4 C342.5 437 339.1 440.4 338.1 442.3 C337.1 444.2 337.3 448.2 337.3 451.7 C337.3 455.1 337.1 461 338.1 462.9 C339.1 464.8 342.5 466.7 343.3 462.9 C344.2 459.2 344.2 443.8 343.3 440.4Z" fill="#ffbf00" stroke="#000" stroke-opacity=".55" stroke-width=".5"/>
<path d="M138.3 491.1 C107.1 490.4 137.7 486 138.3 483.2 C138.9 480.4 141.6 475.4 142.1 474.2 C142.6 473 140.9 476.4 141.4 476.1 C141.9 475.7 143.6 473.1 145.1 472.3 C146.7 471.5 148.9 472 150.8 471.4 C152.6 470.7 154.8 470.3 156.4 468.6 C158 466.8 158.9 462.5 160.2 461 C161.4 459.6 162.7 459.8 163.9 460.1 C165.2 460.4 166.4 462.1 167.7 462.9 C168.9 463.7 169.8 464.3 171.4 464.8 C173 465.3 175.2 465.6 177 465.7 C178.9 465.9 180.8 465.9 182.7 465.7 C184.5 465.6 186.4 465.3 188.3 464.8 C190.2 464.3 192 463.3 193.9 462.9 C195.8 462.5 197.7 462.5 199.6 462.5 C201.4 462.5 203.3 462.9 205.2 462.9 C207.1 463 209.7 463.2 210.8 462.9 C211.9 462.6 211.2 461.5 212 461 C212.8 460.6 214.2 460 215.8 460.1 C217.3 460.3 219.5 461.4 221.4 462 C223.3 462.6 225.1 463.6 227 463.9 C228.9 464.1 230.4 463.6 232.6 463.3 C234.8 463 237.6 462.5 240.1 462 C242.6 461.5 245.5 460.6 247.6 460.1 C249.8 459.6 251.6 458.9 253.3 458.8 C255 458.7 256.7 458.9 258 459.5 C259.2 460.2 259.8 461.7 260.8 462.9 C261.7 464.1 262.3 465.7 263.6 466.7 C264.8 467.6 266.6 468 268.3 468.6 C270 469.1 272 469.6 273.9 470.1 C275.8 470.5 277.4 471 279.5 471.4 C281.7 471.7 284.5 472 287 472.3 C289.5 472.6 292.1 472.9 294.6 473.2 C297.1 473.6 299.9 473.7 302.1 474.2 C304.2 474.6 306.1 475.4 307.7 476.1 C309.2 476.7 309.9 477.6 311.4 477.9 C313 478.3 315.2 478 317.1 478.3 C318.9 478.6 321.3 478.3 322.7 479.8 C324.1 481.3 356.2 485.4 325.5 487.3 C294.8 489.2 169.5 491.8 138.3 491.1Z" fill="#ff4000" stroke="#000" stroke-opacity=".55" stroke-width=".5"/>
<path d="M327.4 487.3 C324.9 486.6 327.5 484.3 328.3 483.2 C329.1 482.1 330.8 481 332.1 480.7 C333.3 480.5 334 481.5 335.8 481.7 C337.7 481.9 342.1 481.1 343.3 482.1 C344.6 483 346 486.4 343.3 487.3 C340.7 488.2 329.9 488 327.4 487.3Z" fill="#ff4000" stroke="#000" stroke-opacity=".55" stroke-width=".5"/>
<path d="M123.3 487.3 C121.8 486.6 123.6 484.3 124.3 483.2 C124.9 482.1 126 481.3 127.1 480.7 C128.2 480.2 129.8 478.7 130.8 479.8 C131.8 480.9 134.3 486.1 133.1 487.3 C131.8 488.6 124.8 488 123.3 487.3Z" fill="#ff4000" stroke="#000" stroke-opacity=".55" stroke-width=".5"/>
<path d="M123.6 487.3 C122.5 486.4 123.9 483.2 124.5 482.1 C125.1 481 126.4 480.7 127.3 480.7 C128.3 480.8 129.5 481.5 130.1 482.6 C130.8 483.7 132.2 486.5 131.1 487.3 C130 488.1 124.7 488.2 123.6 487.3Z" fill="#ff4000" stroke="#000" stroke-opacity=".55" stroke-width=".5"/>
<path d="M195.8 487.3 C186.8 486.6 195.2 484.3 195.8 483.2 C196.4 482.1 198 481.3 199.6 480.7 C201.1 480.2 203.3 479.9 205.2 479.8 C207.1 479.7 208.4 479.6 210.8 480.2 C213.2 480.7 216.8 482.9 219.5 483.2 C222.2 483.4 224.5 482.1 227 481.7 C229.5 481.3 232 480.9 234.5 480.7 C237 480.6 239.8 480.4 242 480.7 C244.2 481.1 246.4 481.5 247.6 482.6 C248.9 483.7 258.2 486.5 249.5 487.3 C240.9 488.1 204.8 488 195.8 487.3Z" fill="#ff0000" stroke="#000" stroke-opacity=".55" stroke-width=".5"/>
</g>
<path d="M55.8 388.4v2.5M55.8 483.2v-2.5M87.4 388.4v2.5M87.4 483.2v-2.5M119.1 388.4v2.5M119.1 483.2v-2.5M150.7 388.4v2.5M150.7 483.2v-2.5M182.3 388.4v2.5M182.3 483.2v-2.5M213.9 388.4v2.5M213.9 483.2v-2.5M245.5 388.4v2.5M245.5 483.2v-2.5M277.2 388.4v2.5M277.2 483.2v-2.5M308.8 388.4v2.5M308.8 483.2v-2.5M24.2 420h2.5M340.4 420h-2.5M24.2 451.6h2.5M340.4 451.6h-2.5" stroke="#444" stroke-width=".5" fill="none"/>
<rect x="24.2" y="388.4" width="316.2" height="94.8" fill="none" stroke="#bbb" stroke-width=".5"/>
<text x="182.3" y="386" font-size="8" font-weight="bold" text-anchor="middle" fill="#000">p DLR [Pa], ppp = 0.02</text>
<text x="21.6" y="390.8" font-size="7" text-anchor="end">0.03</text>
<text x="21.6" y="422.4" font-size="7" text-anchor="end">0.02</text>
<text x="21.6" y="454" font-size="7" text-anchor="end">0.01</text>
<text transform="translate(6.7 435.8) rotate(-90)" font-size="7.5" text-anchor="middle">Z [m]</text>
<g clip-path="url(#cR3)">
<rect x="366.4" y="388.2" width="317.5" height="95.7" fill="#ffbf00"/>
<path d="M364 382.2 C373.1 364.7 409.3 381.2 418.4 382.2 C427.5 383.3 418.1 386.4 418.4 388.6 C418.7 390.8 419.7 393 420.3 395.4 C420.9 397.8 421.5 400.4 422.2 402.9 C422.8 405.4 423.3 407.9 424 410.4 C424.8 412.9 426.1 415.7 426.9 417.9 C427.6 420.1 428.1 421.6 428.7 423.5 C429.4 425.4 430.1 427.3 430.6 429.2 C431.1 431 431.5 432.9 431.5 434.8 C431.5 436.7 431.2 438.8 430.6 440.4 C430 442 428.9 442.9 427.8 444.2 C426.7 445.4 425.3 446.8 424 447.9 C422.8 449 421.8 450.3 420.3 450.7 C418.7 451.2 416.5 450.9 414.7 450.7 C412.8 450.6 410.9 450.1 409 449.8 C407.2 449.5 405.3 448.9 403.4 448.9 C401.5 448.9 399.6 449.2 397.8 449.8 C395.9 450.4 393.7 451.4 392.1 452.6 C390.6 453.9 389.6 455.6 388.4 457.3 C387.1 459 385.7 461 384.6 462.9 C383.5 464.8 382.6 466.7 381.8 468.6 C381 470.4 380.4 471.1 379.9 474.2 C379.5 477.3 381.7 485.1 379 487.3 C376.4 489.5 366.5 504.8 364 487.3 C361.5 469.8 354.9 399.8 364 382.2Z" fill="#ffff00" stroke="#000" stroke-opacity=".55" stroke-width=".5"/>
<path d="M364 401 C364.4 398.8 365.4 401.3 366.6 401 C367.9 400.7 369.8 399.6 371.5 399.1 C373.3 398.7 375.3 398.5 377.1 398.2 C379 397.9 381.4 397.3 382.8 397.3 C384.2 397.3 385.3 397.6 385.6 398.2 C385.9 398.8 385.4 400.1 384.6 401 C383.9 401.9 382.1 403 380.9 403.8 C379.6 404.6 378.4 404.9 377.1 405.7 C375.9 406.5 374.6 407.4 373.4 408.5 C372.1 409.6 370.8 411.3 369.6 412.3 C368.5 413.2 367.6 413.8 366.6 414.1 C365.7 414.5 364.4 416.3 364 414.1 C363.6 412 363.6 403.2 364 401Z" fill="#ffbf00" stroke="#000" stroke-opacity=".55" stroke-width=".5"/>
<path d="M364 416 C364.4 414.8 365.7 416.3 366.6 416 C367.6 415.7 368.2 415.1 369.6 414.1 C371.1 413.2 373.4 411.5 375.3 410.4 C377.1 409.3 379 408.5 380.9 407.6 C382.8 406.6 385 406.2 386.5 404.8 C388.1 403.4 389.2 400.7 390.3 399.1 C391.4 397.6 392 396.2 393.1 395.4 C394.2 394.6 395.4 394.3 396.8 394.4 C398.2 394.6 400.1 395.4 401.5 396.3 C402.9 397.3 404 399 405.3 400.1 C406.5 401.2 407.9 401.8 409 402.9 C410.1 404 411.2 405.1 411.8 406.6 C412.5 408.2 412.5 410.4 412.8 412.3 C413.1 414.1 412.9 416.5 413.7 417.9 C414.5 419.3 416.1 419.8 417.5 420.7 C418.9 421.6 420.8 422.4 422.2 423.5 C423.6 424.6 425 425.9 425.9 427.3 C426.9 428.7 427.6 430.4 427.8 432 C427.9 433.5 427.6 435.4 426.9 436.7 C426.1 437.9 424.5 438.7 423.1 439.5 C421.7 440.3 419.5 440.7 418.4 441.3 C417.3 442 416.7 442.4 416.5 443.2 C416.4 444 416.8 444.9 417.5 446 C418.1 447.1 419.2 448.9 420.3 449.8 C421.4 450.7 423.1 450.9 424 451.7 C425 452.4 426.1 453.7 425.9 454.5 C425.8 455.3 424.2 456.2 423.1 456.4 C422 456.5 420.4 456 419.3 455.4 C418.3 454.8 417.6 453.4 416.5 452.6 C415.4 451.8 414 451.4 412.8 450.7 C411.5 450.1 410.4 449.5 409 448.9 C407.6 448.2 405.9 447.8 404.3 447 C402.8 446.2 401.1 445.1 399.6 444.2 C398.2 443.2 396.8 442.4 395.9 441.3 C395 440.3 394.6 439 394 437.6 C393.4 436.2 392.8 434.3 392.1 432.9 C391.5 431.5 390.9 430.4 390.3 429.2 C389.6 427.9 389 426.7 388.4 425.4 C387.8 424.1 387.1 422.6 386.5 421.6 C385.9 420.7 385.7 420.2 384.6 419.8 C383.5 419.3 381.5 418.8 379.9 418.8 C378.4 418.8 376.7 419.3 375.3 419.8 C373.8 420.2 372.9 421 371.5 421.6 C370.1 422.3 367.9 423.2 366.6 423.5 C365.4 423.8 364.4 424.8 364 423.5 C363.6 422.3 363.6 417.3 364 416Z" fill="#bfff40" stroke="#000" stroke-opacity=".55" stroke-width=".5"/>
<path d="M364 425.4 C364.4 417 365.4 424.8 366.6 425.4 C367.9 426 370.1 427.9 371.5 429.2 C372.9 430.4 374 431.5 375.3 432.9 C376.5 434.3 377.9 436 379 437.6 C380.1 439.2 381 440.7 381.8 442.3 C382.6 443.8 383.5 445.4 383.7 447 C383.9 448.5 383.4 449.9 382.8 451.7 C382.1 453.4 381 455.4 379.9 457.3 C378.9 459.2 377.4 461 376.2 462.9 C374.9 464.8 373.5 466.7 372.4 468.6 C371.3 470.4 370.6 472.9 369.6 474.2 C368.7 475.4 367.6 475.7 366.6 476.1 C365.7 476.4 364.4 484.5 364 476.1 C363.6 467.6 363.6 433.8 364 425.4Z" fill="#bfff40" stroke="#000" stroke-opacity=".55" stroke-width=".5"/>
<path d="M368.7 425.4 C368.9 424.5 369.5 423.2 370.6 422.6 C371.7 422 373.8 421.6 375.3 421.6 C376.7 421.6 378.2 422 379 422.6 C379.8 423.2 380.3 424.5 379.9 425.4 C379.6 426.3 378.4 427.6 377.1 428.2 C375.9 428.8 373.8 429.2 372.4 429.2 C371.1 429.2 369.9 428.8 369.3 428.2 C368.6 427.6 368.5 426.3 368.7 425.4Z" fill="#ffbf00" stroke="#000" stroke-opacity=".55" stroke-width=".5"/>
<path d="M389.3 402.9 C389.7 401.8 391 400.1 392.1 399.1 C393.2 398.2 394.8 397.3 395.9 397.3 C397 397.3 398.2 398 398.7 399.1 C399.2 400.2 399.2 402.6 398.7 403.8 C398.2 405.1 397 406.1 395.9 406.6 C394.8 407.2 393.1 407.2 392.1 407 C391.1 406.9 390.4 406.4 389.9 405.7 C389.4 405 389 404 389.3 402.9Z" fill="#80ff80" stroke="#000" stroke-opacity=".55" stroke-width=".5"/>
<path d="M400.6 416 C400.6 414.8 401.1 413.5 401.5 412.3 C402 411 402.6 409.5 403.4 408.5 C404.2 407.6 405.3 406.8 406.2 406.6 C407.2 406.5 408.6 406.6 409 407.6 C409.5 408.5 409.3 410.7 409 412.3 C408.7 413.8 407.9 415.7 407.2 417 C406.4 418.2 405.3 419.3 404.3 419.8 C403.4 420.2 402.1 420.4 401.5 419.8 C400.9 419.1 400.6 417.3 400.6 416Z" fill="#80ff80" stroke="#000" stroke-opacity=".55" stroke-width=".5"/>
<path d="M398.7 427.3 C398.9 426.2 399.5 425.9 400.6 425.4 C401.7 424.9 403.6 424.8 405.3 424.5 C407 424.1 409 423.7 410.9 423.5 C412.8 423.4 414.8 423.2 416.5 423.5 C418.3 423.8 419.8 424.6 421.2 425.4 C422.6 426.2 424.2 427.1 425 428.2 C425.8 429.3 426.1 430.7 425.9 432 C425.8 433.2 425 434.8 424 435.7 C423.1 436.7 421.7 437.1 420.3 437.6 C418.9 438.1 417.2 438.3 415.6 438.5 C414 438.8 412.5 439 410.9 438.9 C409.3 438.8 407.8 438.7 406.2 438.2 C404.7 437.6 402.7 436.8 401.5 435.7 C400.4 434.7 399.7 433.4 399.3 432 C398.8 430.6 398.5 428.4 398.7 427.3Z" fill="#80ff80" stroke="#000" stroke-opacity=".55" stroke-width=".5"/>
<path d="M407.2 430.1 C407.3 429.2 408.1 428 409 427.3 C410 426.6 411.4 425.9 412.8 425.8 C414.2 425.6 416.1 425.9 417.5 426.3 C418.9 426.7 420.4 427.3 421.2 428.2 C422.1 429.2 422.7 430.9 422.5 432 C422.4 433.1 421.4 434.2 420.3 434.8 C419.1 435.3 417.2 435.2 415.6 435.2 C414 435.2 412.2 435.2 410.9 434.8 C409.7 434.4 408.7 433.7 408.1 432.9 C407.5 432.1 407 431 407.2 430.1Z" fill="#40ffbf" stroke="#000" stroke-opacity=".55" stroke-width=".5"/>
<path d="M410.9 431 C410.8 430.2 411.9 429.1 412.8 428.8 C413.7 428.5 415.2 428.7 416.2 429.2 C417.1 429.6 418.3 430.6 418.4 431.4 C418.5 432.2 417.8 433.4 416.9 433.8 C416 434.3 414.2 434.5 413.2 434 C412.2 433.6 411 431.9 410.9 431Z" fill="#00ffff" stroke="#000" stroke-opacity=".55" stroke-width=".5"/>
<path d="M364 418.8 C364.4 417.9 365.5 418.7 366.6 418.8 C367.7 419 369.6 419.3 370.6 419.8 C371.5 420.2 372.4 421 372.4 421.6 C372.4 422.3 371.5 423.1 370.6 423.5 C369.6 424 367.7 424.3 366.6 424.5 C365.5 424.6 364.4 425.4 364 424.5 C363.6 423.5 363.6 419.8 364 418.8Z" fill="#80ff80" stroke="#000" stroke-opacity=".55" stroke-width=".5"/>
<path d="M371.9 420.1 C371.9 420.4 371.7 420.7 371.5 420.9 C371.3 421.1 370.9 421.3 370.6 421.4 C370.2 421.6 369.7 421.6 369.3 421.6 C368.8 421.6 368.3 421.6 367.9 421.4 C367.6 421.3 367.2 421.1 367 420.9 C366.8 420.7 366.6 420.4 366.6 420.1 C366.6 419.9 366.8 419.6 367 419.4 C367.2 419.2 367.6 419 367.9 418.8 C368.3 418.7 368.8 418.6 369.3 418.6 C369.7 418.6 370.2 418.7 370.6 418.8 C370.9 419 371.3 419.2 371.5 419.4 C371.7 419.6 371.9 419.9 371.9 420.1Z" fill="#40ffbf" stroke="#000" stroke-opacity=".55" stroke-width=".5"/>
<path d="M364 429.2 C364.4 422.4 365.4 428.7 366.6 429.2 C367.9 429.6 370.1 430.7 371.5 432 C372.9 433.2 374.2 434.9 375.3 436.7 C376.4 438.4 377.4 440.4 378.1 442.3 C378.7 444.2 379 446 379 447.9 C379 449.8 378.7 451.7 378.1 453.5 C377.4 455.4 376.4 457.3 375.3 459.2 C374.2 461 372.8 463.2 371.5 464.8 C370.3 466.4 368.6 467.8 367.8 468.6 C366.9 469.3 367.3 469.3 366.6 469.5 C366 469.6 364.4 476.2 364 469.5 C363.6 462.8 363.6 435.9 364 429.2Z" fill="#80ff80" stroke="#000" stroke-opacity=".55" stroke-width=".5"/>
<path d="M364 431 C364.4 426 365.5 430.6 366.6 431 C367.7 431.5 369.4 432.6 370.6 433.8 C371.7 435.1 372.7 436.8 373.4 438.5 C374.1 440.3 374.7 442.1 374.9 444.2 C375 446.2 374.7 448.9 374.3 450.7 C373.9 452.6 373.2 454 372.4 455.4 C371.7 456.8 370.6 458.2 369.6 459.2 C368.7 460.1 367.6 460.7 366.6 461 C365.7 461.4 364.4 466.1 364 461 C363.6 456 363.6 436 364 431Z" fill="#40ffbf" stroke="#000" stroke-opacity=".55" stroke-width=".5"/>
<path d="M364 434.8 C364.4 432.1 365.7 434.3 366.6 434.8 C367.6 435.2 368.8 436.5 369.6 437.6 C370.4 438.7 371.3 439.9 371.5 441.3 C371.8 442.8 371.5 444.6 371.1 446 C370.8 447.4 370 449 369.3 449.8 C368.5 450.6 367.5 450.6 366.6 450.7 C365.8 450.9 364.4 453.4 364 450.7 C363.6 448.1 363.6 437.4 364 434.8Z" fill="#00ffff" stroke="#000" stroke-opacity=".55" stroke-width=".5"/>
<path d="M441.9 401 C442.4 399.9 443.7 399.8 444.7 400.1 C445.6 400.4 447.2 401.5 447.5 402.9 C447.8 404.3 447 407 446.6 408.5 C446.1 410.1 445.4 411.8 444.7 412.3 C444 412.7 443 412.3 442.4 411.3 C441.9 410.4 441.4 408.4 441.3 406.6 C441.2 404.9 441.3 402.1 441.9 401Z" fill="#ffff00" stroke="#000" stroke-opacity=".55" stroke-width=".5"/>
<path d="M447.5 418.8 C447.7 417.1 448.6 414.1 449.4 413.2 C450.1 412.3 451.3 412.6 451.8 413.2 C452.3 413.8 452.4 415.5 452.2 417 C451.9 418.4 451 420.6 450.3 421.6 C449.6 422.7 448.5 424 448.1 423.5 C447.6 423.1 447.3 420.6 447.5 418.8Z" fill="#ffff00" stroke="#000" stroke-opacity=".55" stroke-width=".5"/>
<path d="M438.1 427.3 C438.6 424.8 439.2 421.2 440 419.8 C440.8 418.4 442.2 418.2 442.8 418.8 C443.4 419.5 443.7 421.2 443.7 423.5 C443.7 425.9 443.3 430.1 442.8 432.9 C442.3 435.7 441.6 438.5 440.9 440.4 C440.2 442.3 439.4 443.8 438.7 444.2 C438 444.5 437 443.8 436.8 442.3 C436.5 440.7 437 437.3 437.2 434.8 C437.4 432.3 437.6 429.8 438.1 427.3Z" fill="#ffff00" stroke="#000" stroke-opacity=".55" stroke-width=".5"/>
<path d="M446.4 452.6 C446.4 452.9 446.3 453.3 446.1 453.6 C446 453.9 445.8 454.2 445.5 454.4 C445.3 454.6 445 454.7 444.7 454.7 C444.4 454.7 444.1 454.6 443.8 454.4 C443.6 454.2 443.4 453.9 443.2 453.6 C443.1 453.3 443 452.9 443 452.6 C443 452.3 443.1 451.9 443.2 451.6 C443.4 451.3 443.6 451 443.8 450.8 C444.1 450.6 444.4 450.5 444.7 450.5 C445 450.5 445.3 450.6 445.5 450.8 C445.8 451 446 451.3 446.1 451.6 C446.3 451.9 446.4 452.3 446.4 452.6Z" fill="#ffff00" stroke="#000" stroke-opacity=".55" stroke-width=".5"/>
<path d="M476.6 443.2 C476.8 442.3 478 441.3 478.8 441.3 C479.6 441.3 480.7 442.3 481.3 443.2 C481.8 444.2 482.4 446 482.2 447 C482 447.9 481.1 448.9 480.3 448.9 C479.5 448.9 478.1 447.9 477.5 447 C476.9 446 476.4 444.2 476.6 443.2Z" fill="#ffff00" stroke="#000" stroke-opacity=".55" stroke-width=".5"/>
<path d="M450.3 382.2 C452.7 380.7 463.1 380.7 465.3 382.2 C467.5 383.8 464.7 389.8 463.4 391.6 C462.2 393.5 459.5 393.2 457.8 393.5 C456.1 393.8 454.3 393.8 453.1 393.5 C451.9 393.2 451.1 393.5 450.7 391.6 C450.2 389.8 447.9 383.8 450.3 382.2Z" fill="#ffff00" stroke="#000" stroke-opacity=".55" stroke-width=".5"/>
<path d="M461.6 395.4 C462.3 394.6 464.1 393.2 465.3 392.6 C466.6 391.9 468.1 391.5 469.1 391.6 C470 391.8 471.1 392.7 470.9 393.5 C470.8 394.3 469.4 395.5 468.1 396.3 C466.9 397.1 464.7 398 463.4 398.2 C462.2 398.4 460.9 397.7 460.6 397.3 C460.3 396.8 460.8 396.2 461.6 395.4Z" fill="#ffff00" stroke="#000" stroke-opacity=".55" stroke-width=".5"/>
<path d="M460.6 414.1 C461.2 412.4 462.3 412 463.4 411.3 C464.5 410.7 466.3 410.1 467.2 410.4 C468.1 410.7 468.4 412.3 469.1 413.2 C469.7 414.1 470 415.1 470.9 416 C471.9 417 473.6 417.9 474.7 418.8 C475.8 419.8 476.9 420.7 477.5 421.6 C478.1 422.6 478.8 423.8 478.4 424.5 C478.1 425.1 476.7 425.6 475.6 425.4 C474.5 425.2 473.1 423.5 471.9 423.5 C470.6 423.5 469.4 424.8 468.1 425.4 C466.9 426 465.5 427.1 464.4 427.3 C463.3 427.4 462.3 427.3 461.6 426.3 C460.8 425.4 460.2 423.7 460.1 421.6 C459.9 419.6 460.1 415.9 460.6 414.1Z" fill="#ff8000" stroke="#000" stroke-opacity=".55" stroke-width=".5"/>
<path d="M459.7 455 C459.7 455.2 459.6 455.4 459.4 455.6 C459.3 455.8 459 455.9 458.7 456 C458.5 456.1 458.1 456.2 457.8 456.2 C457.5 456.2 457.1 456.1 456.9 456 C456.6 455.9 456.3 455.8 456.2 455.6 C456 455.4 455.9 455.2 455.9 455 C455.9 454.9 456 454.6 456.2 454.5 C456.3 454.3 456.6 454.2 456.9 454.1 C457.1 454 457.5 453.9 457.8 453.9 C458.1 453.9 458.5 454 458.7 454.1 C459 454.2 459.3 454.3 459.4 454.5 C459.6 454.6 459.7 454.9 459.7 455Z" fill="#ff8000" stroke="#000" stroke-opacity=".55" stroke-width=".5"/>
<path d="M506 382.2 C512.1 380.4 535.2 380.5 540.7 382.2 C546.1 384 539.7 390.4 538.8 392.6 C537.9 394.8 536.6 394.8 535 395.4 C533.5 396 531.3 395.8 529.4 396.3 C527.5 396.8 525.4 397.4 523.8 398.2 C522.2 399 520.8 399.9 520 401 C519.3 402.1 519.4 403.4 519.1 404.8 C518.8 406.2 518.8 408.2 518.2 409.5 C517.5 410.7 516.6 411.5 515.3 412.3 C514.1 413 512.2 414.1 510.7 414.1 C509.1 414.1 507.4 413.2 506 412.3 C504.6 411.3 503.2 409.9 502.2 408.5 C501.2 407.1 500.2 405.2 499.8 403.8 C499.3 402.4 499.1 401.3 499.4 400.1 C499.6 398.8 500.5 397.4 501.3 396.3 C502.1 395.2 503.3 395.8 504.1 393.5 C504.9 391.2 499.9 384.1 506 382.2Z" fill="#ffff00" stroke="#000" stroke-opacity=".55" stroke-width=".5"/>
<path d="M517 420.7 C517 421.3 516.9 422 516.7 422.5 C516.5 423 516.1 423.5 515.7 423.8 C515.3 424.1 514.8 424.3 514.4 424.3 C514 424.3 513.5 424.1 513.1 423.8 C512.7 423.5 512.4 423 512.1 422.5 C511.9 422 511.8 421.3 511.8 420.7 C511.8 420.1 511.9 419.4 512.1 418.9 C512.4 418.4 512.7 417.9 513.1 417.6 C513.5 417.3 514 417.1 514.4 417.1 C514.8 417.1 515.3 417.3 515.7 417.6 C516.1 417.9 516.5 418.4 516.7 418.9 C516.9 419.4 517 420.1 517 420.7Z" fill="#ff8000" stroke="#000" stroke-opacity=".55" stroke-width=".5"/>
<path d="M532 416.4 C532 416.7 531.8 417.1 531.4 417.3 C531.1 417.6 530.4 417.9 529.8 418 C529.1 418.2 528.3 418.3 527.5 418.3 C526.8 418.3 525.9 418.2 525.3 418 C524.6 417.9 524 417.6 523.6 417.3 C523.3 417.1 523 416.7 523 416.4 C523 416.1 523.3 415.7 523.6 415.5 C524 415.2 524.6 414.9 525.3 414.8 C525.9 414.6 526.8 414.5 527.5 414.5 C528.3 414.5 529.1 414.6 529.8 414.8 C530.4 414.9 531.1 415.2 531.4 415.5 C531.8 415.7 532 416.1 532 416.4Z" fill="#ff8000" stroke="#000" stroke-opacity=".55" stroke-width=".5"/>
<path d="M499.8 432.5 C499.8 432.8 499.7 433.1 499.5 433.3 C499.3 433.5 499 433.7 498.6 433.8 C498.3 434 497.9 434 497.5 434 C497.1 434 496.7 434 496.4 433.8 C496.1 433.7 495.8 433.5 495.6 433.3 C495.4 433.1 495.3 432.8 495.3 432.5 C495.3 432.3 495.4 432 495.6 431.8 C495.8 431.6 496.1 431.4 496.4 431.2 C496.7 431.1 497.1 431 497.5 431 C497.9 431 498.3 431.1 498.6 431.2 C499 431.4 499.3 431.6 499.5 431.8 C499.7 432 499.8 432.3 499.8 432.5Z" fill="#ffff00" stroke="#000" stroke-opacity=".55" stroke-width=".5"/>
<path d="M480.8 444.5 C480.8 445.2 480.7 445.9 480.5 446.4 C480.4 447 480.1 447.5 479.8 447.8 C479.5 448.1 479.1 448.3 478.8 448.3 C478.4 448.3 478 448.1 477.7 447.8 C477.4 447.5 477.1 447 477 446.4 C476.8 445.9 476.7 445.2 476.7 444.5 C476.7 443.9 476.8 443.2 477 442.7 C477.1 442.1 477.4 441.6 477.7 441.3 C478 441 478.4 440.8 478.8 440.8 C479.1 440.8 479.5 441 479.8 441.3 C480.1 441.6 480.4 442.1 480.5 442.7 C480.7 443.2 480.8 443.9 480.8 444.5Z" fill="#ffff00" stroke="#000" stroke-opacity=".55" stroke-width=".5"/>
<path d="M647.1 382.2 C653.9 380.7 681.5 372.2 688.3 382.2 C695.2 392.3 689.1 432.3 688.3 442.3 C687.6 452.3 684.9 442.6 683.6 442.3 C682.4 442 681.6 441.2 680.8 440.4 C680 439.6 679.9 438.4 679 437.6 C678 436.8 676.8 435.9 675.2 435.7 C673.6 435.6 671.4 436.8 669.6 436.7 C667.7 436.5 665.8 435.6 663.9 434.8 C662.1 434 660.2 432.9 658.3 432 C656.4 431 654.6 430.1 652.7 429.2 C650.8 428.2 648.5 427.4 647.1 426.3 C645.6 425.2 644.9 424.3 644.2 422.6 C643.6 420.9 643.8 418.4 643.3 416 C642.8 413.7 641.9 410.7 641.4 408.5 C641 406.3 641 404.4 640.5 402.9 C640 401.3 638.8 400.5 638.6 399.1 C638.5 397.7 638.8 395.4 639.6 394.4 C640.3 393.5 642.1 394 643.3 393.5 C644.6 393 646.4 393.5 647.1 391.6 C647.7 389.8 640.2 383.8 647.1 382.2Z" fill="#ffff00" stroke="#000" stroke-opacity=".55" stroke-width=".5"/>
<path d="M409 491.1 C362.5 489.8 408.4 486 409 483.2 C409.7 480.4 411.5 476.3 412.8 474.2 C414 472.1 415.3 471.4 416.5 470.4 C417.8 469.5 419 469.3 420.3 468.6 C421.5 467.8 422.8 466.7 424 465.7 C425.3 464.8 426.2 463.7 427.8 462.9 C429.4 462.1 431.5 461.2 433.4 461 C435.3 460.9 437.2 461.7 439 462 C440.9 462.3 442.8 462.5 444.7 462.9 C446.6 463.4 448.4 464.5 450.3 464.8 C452.2 465.1 454.2 464.6 455.9 464.8 C457.7 465 459.4 465.1 460.6 465.7 C461.9 466.4 462.7 467.6 463.4 468.6 C464.2 469.5 464.7 471.4 465.3 471.4 C465.9 471.4 466.4 469.6 467.2 468.6 C468 467.5 469.1 465.9 470 464.8 C470.9 463.7 471.7 462.8 472.8 462 C473.9 461.2 475.3 460.7 476.6 460.1 C477.8 459.5 479.1 459 480.3 458.2 C481.6 457.5 482.8 456.5 484.1 455.4 C485.3 454.3 487.8 452.9 487.8 451.7 C487.9 450.4 484.3 449.2 484.4 447.9 C484.4 446.7 486.9 445.4 488.1 444.2 C489.4 442.9 490.8 441.3 491.9 440.4 C493 439.5 493.8 438.4 494.7 438.5 C495.6 438.7 496.6 440.3 497.5 441.3 C498.5 442.4 499.4 443.8 500.3 445.1 C501.3 446.4 502.1 447.9 503.2 448.9 C504.2 449.8 505.7 450.4 506.9 450.7 C508.2 451 510 451.4 510.7 450.7 C511.3 450.1 510.3 447.9 510.7 447 C511 446 511.6 445.7 512.5 445.1 C513.5 444.5 515.2 444 516.3 443.2 C517.4 442.4 518.5 441.8 519.1 440.4 C519.7 439 520 436.3 520 434.8 C520 433.2 518.9 432.3 519.1 431 C519.3 429.8 519.9 428.1 521 427.3 C522.1 426.5 523.9 426.8 525.7 426.3 C527.4 425.9 529.7 425.1 531.3 424.5 C532.9 423.8 533.8 423.4 535 422.6 C536.3 421.8 537.5 420.9 538.8 419.8 C540.1 418.7 541.3 417 542.6 416 C543.8 415.1 545.1 414.5 546.3 414.1 C547.6 413.8 548.8 414.6 550.1 414.1 C551.3 413.7 552.7 412.2 553.8 411.3 C554.9 410.5 556.1 409 556.6 408.9 C557.2 408.7 556.3 410.8 557 410.4 C557.7 410 559.5 407.7 560.8 406.6 C562 405.5 562.9 404.8 564.5 403.8 C566.1 402.9 568.3 401.8 570.1 401 C572 400.2 573.9 399.5 575.8 399.1 C577.6 398.8 579.5 398.6 581.4 398.8 C583.3 398.9 585.1 399.4 587 400.1 C588.9 400.8 590.8 401.8 592.6 402.9 C594.5 404 596.7 405.4 598.3 406.6 C599.8 407.9 601.1 408.8 602 410.4 C603 412 603.4 414.3 603.9 416 C604.4 417.7 604.2 419.5 604.8 420.7 C605.5 422 606.6 422.4 607.7 423.5 C608.8 424.6 610.2 425.9 611.4 427.3 C612.7 428.7 613.9 430.4 615.2 432 C616.4 433.5 617.7 435.4 618.9 436.7 C620.2 437.9 621.7 438.4 622.7 439.5 C623.6 440.6 623.9 441.8 624.5 443.2 C625.2 444.6 625.5 446.2 626.4 447.9 C627.4 449.6 628.6 452 630.2 453.5 C631.7 455.1 633.9 456.4 635.8 457.3 C637.7 458.2 640 458.5 641.4 459.2 C642.8 459.8 643.6 460.1 644.2 461 C644.9 462 644.4 463.7 645.2 464.8 C646 465.9 647.7 466.7 648.9 467.6 C650.2 468.6 651.4 469.5 652.7 470.4 C653.9 471.4 654.9 472.3 656.4 473.2 C658 474.2 660.2 475.1 662.1 476.1 C663.9 477 665.8 478.1 667.7 478.9 C669.6 479.7 671.4 480.1 673.3 480.7 C675.2 481.4 676.4 482.2 679 482.6 C681.5 483 686.8 481.8 688.3 483.2 C689.9 484.6 734.9 489.8 688.3 491.1 C641.8 492.4 455.6 492.4 409 491.1Z" fill="#ff8000" stroke="#000" stroke-opacity=".55" stroke-width=".5"/>
<path d="M480.3 491.1 C455.7 489.8 480 486 480.3 483.2 C480.6 480.4 481.3 476.3 482.2 474.2 C483.1 472.1 485.6 471.4 486 470.4 C486.3 469.5 483.7 469.5 484.4 468.6 C485.1 467.6 488.1 465.9 490 464.8 C491.9 463.7 494.1 462.8 495.6 462 C497.2 461.2 498.1 460.7 499.4 460.1 C500.7 459.5 501.6 458.5 503.2 458.2 C504.7 457.9 506.9 458.1 508.8 458.2 C510.7 458.4 512.5 458.7 514.4 459.2 C516.3 459.6 518.3 460.1 520 461 C521.8 462 523.5 464 524.7 464.8 C526 465.6 526.4 466.1 527.5 465.7 C528.6 465.4 530 464 531.3 462.9 C532.5 461.8 533.8 460.3 535 459.2 C536.3 458.1 537.5 456.7 538.8 456.4 C540.1 456 541.3 456.7 542.6 457.3 C543.8 457.9 545.1 459.5 546.3 460.1 C547.6 460.7 548.8 461.2 550.1 461 C551.3 460.9 552.7 459.8 553.8 459.2 C554.9 458.5 556.1 457.6 556.6 457.3 C557.2 457 556.5 457.5 557 457.3 C557.5 457.1 558.9 456.4 559.8 456.4 C560.8 456.4 561.5 456.7 562.6 457.3 C563.7 457.9 565.1 459.3 566.4 460.1 C567.6 460.9 568.6 461.5 570.1 462 C571.7 462.5 573.9 462.9 575.8 462.9 C577.6 462.9 579.5 462.5 581.4 462 C583.3 461.5 585.3 460.6 587 460.1 C588.7 459.6 590.1 459.2 591.7 459.2 C593.3 459.2 595 459.6 596.4 460.1 C597.8 460.6 599.2 461.2 600.2 462 C601.1 462.8 601.6 463.4 602 464.8 C602.5 466.2 602.3 468.9 603 470.4 C603.6 472 604.7 473.2 605.8 474.2 C606.9 475.1 608.3 475.1 609.5 476.1 C610.8 477 612 479 613.3 479.8 C614.5 480.6 615.8 480.6 617 480.7 C618.3 480.9 619.5 480.6 620.8 480.7 C622 480.9 623.4 481.3 624.5 481.7 C625.6 482.1 626.7 481.6 627.4 483.2 C628 484.7 652.8 489.8 628.3 491.1 C603.8 492.4 505 492.4 480.3 491.1Z" fill="#ff4000" stroke="#000" stroke-opacity=".55" stroke-width=".5"/>
<path d="M454.1 487.3 C452.5 486.6 453.4 484.4 454.1 483.2 C454.7 481.9 456.6 480.5 457.8 479.8 C459.1 479.1 460.6 477.6 461.6 478.9 C462.5 480.1 464.7 485.9 463.4 487.3 C462.2 488.7 455.6 488 454.1 487.3Z" fill="#ff4000" stroke="#000" stroke-opacity=".55" stroke-width=".5"/>
<path d="M469.1 487.3 C468 486.5 469.5 483.9 470 482.6 C470.5 481.4 471.1 480.1 471.9 479.8 C472.7 479.5 473.9 479.5 474.7 480.7 C475.5 482 477.5 486.2 476.6 487.3 C475.6 488.4 470.2 488.1 469.1 487.3Z" fill="#ff4000" stroke="#000" stroke-opacity=".55" stroke-width=".5"/>
<path d="M571.4 435.7 C571.4 436.2 571.3 436.7 571.1 437 C571 437.4 570.6 437.8 570.3 438 C570 438.2 569.6 438.3 569.2 438.3 C568.8 438.3 568.4 438.2 568.1 438 C567.7 437.8 567.4 437.4 567.2 437 C567.1 436.7 566.9 436.2 566.9 435.7 C566.9 435.3 567.1 434.8 567.2 434.4 C567.4 434 567.7 433.7 568.1 433.4 C568.4 433.2 568.8 433.1 569.2 433.1 C569.6 433.1 570 433.2 570.3 433.4 C570.6 433.7 571 434 571.1 434.4 C571.3 434.8 571.4 435.3 571.4 435.7Z" fill="#ff4000" stroke="#000" stroke-opacity=".55" stroke-width=".5"/>
<path d="M571.6 435.7 C571.6 436.2 571.5 436.7 571.3 437 C571.1 437.4 570.8 437.8 570.5 438 C570.2 438.2 569.8 438.3 569.4 438.3 C569 438.3 568.6 438.2 568.3 438 C567.9 437.8 567.6 437.4 567.4 437 C567.2 436.7 567.1 436.2 567.1 435.7 C567.1 435.3 567.2 434.8 567.4 434.4 C567.6 434 567.9 433.7 568.3 433.4 C568.6 433.2 569 433.1 569.4 433.1 C569.8 433.1 570.2 433.2 570.5 433.4 C570.8 433.7 571.1 434 571.3 434.4 C571.5 434.8 571.6 435.3 571.6 435.7Z" fill="#ff4000" stroke="#000" stroke-opacity=".55" stroke-width=".5"/>
<path d="M493.8 487.3 C491.3 486.6 493.1 484.1 493.8 483.2 C494.4 482.2 496 481.9 497.5 481.7 C499.1 481.5 501.3 481.1 503.2 482.1 C505 483 510.3 486.4 508.8 487.3 C507.2 488.2 496.3 488 493.8 487.3Z" fill="#ff0000" stroke="#000" stroke-opacity=".55" stroke-width=".5"/>
<path d="M516.3 487.3 C504.3 486.6 515.7 484.3 516.3 483.2 C516.9 482.1 518.5 481.3 520 480.7 C521.6 480.2 523.8 479.8 525.7 479.8 C527.5 479.8 529.7 480.4 531.3 480.7 C532.9 481.1 533.5 481.7 535 481.7 C536.6 481.7 538.8 481.1 540.7 480.7 C542.6 480.4 544.4 480.1 546.3 479.8 C548.2 479.5 550.2 478.9 551.9 478.9 C553.7 478.9 555.8 479.3 556.6 479.8 C557.5 480.3 556.2 481.1 557 481.7 C557.8 482.2 560.6 483.3 561.7 483.2 C562.8 483 562.8 481.2 563.6 480.7 C564.3 480.3 565.4 480.3 566.4 480.7 C567.3 481.2 567.3 482.8 569.2 483.2 C571.1 483.6 575.6 483.6 577.6 483.2 C579.7 482.8 580.1 481.2 581.4 480.7 C582.6 480.3 584 480.3 585.1 480.7 C586.2 481.2 587.5 482.1 588 483.2 C588.4 484.3 599.9 486.6 588 487.3 C576 488 528.2 488 516.3 487.3Z" fill="#ff0000" stroke="#000" stroke-opacity=".55" stroke-width=".5"/>
</g>
<path d="M398.1 388.2v2.5M398.1 483.9v-2.5M429.9 388.2v2.5M429.9 483.9v-2.5M461.6 388.2v2.5M461.6 483.9v-2.5M493.4 388.2v2.5M493.4 483.9v-2.5M525.1 388.2v2.5M525.1 483.9v-2.5M556.9 388.2v2.5M556.9 483.9v-2.5M588.6 388.2v2.5M588.6 483.9v-2.5M620.4 388.2v2.5M620.4 483.9v-2.5M652.1 388.2v2.5M652.1 483.9v-2.5M366.4 420.1h2.5M683.9 420.1h-2.5M366.4 452h2.5M683.9 452h-2.5" stroke="#444" stroke-width=".5" fill="none"/>
<rect x="366.4" y="388.2" width="317.5" height="95.7" fill="none" stroke="#bbb" stroke-width=".5"/>
<text x="525.1" y="385.8" font-size="8" font-weight="bold" text-anchor="middle" fill="#000">p DLR [Pa], ppp = 0.16</text>
<line x1="249.6" y1="8" x2="249.6" y2="103" stroke="#000" stroke-width="1.6" stroke-dasharray="4.6 2.6"/>
<path d="M199 102.7 L203 102.7 L206.9 102.8 L210.9 102.9 L214.9 103.1 L218.8 103.3 L222.8 103.5 L226.8 103.8 L230.7 104.1 L234.7 104.5 L238.7 104.9 L242.6 105.3 L246.6 105.7 L250.6 106.2 L254.5 106.7 L258.5 107.2 L262.5 107.8 L266.4 108.3 L270.4 108.9 L274.4 109.5 L278.4 110.1 L282.3 110.6 L286.3 111.2 L290.3 111.8 L294.2 112.3 L298.2 112.9 L302.2 113.4 L306.1 113.9 L310.1 114.4 L314.1 114.8 L318 115.2 L322 115.6 L326 116 L329.9 116.3 L333.9 116.6 L337.9 116.8 L341.8 117 L345.8 117.2 L349.8 117.3 L353.7 117.4 L357.7 117.4 L361.7 117.4 L365.6 117.3 L369.6 117.2 L373.6 117 L377.5 116.8 L381.5 116.6 L385.5 116.3 L389.4 116 L393.4 115.6 L397.4 115.2 L401.3 114.8 L405.3 114.4 L409.3 113.9 L413.2 113.4 L417.2 112.9 L421.2 112.3 L425.1 111.8 L429.1 111.2 L433.1 110.6 L437.1 110.1 L441 109.5 L445 108.9 L449 108.3 L452.9 107.8 L456.9 107.2 L460.9 106.7 L464.8 106.2 L468.8 105.7 L472.8 105.3 L476.7 104.9 L480.7 104.5 L484.7 104.1 L488.6 103.8 L492.6 103.5 L496.6 103.3 L500.5 103.1 L504.5 102.9 L508.5 102.8 L512.4 102.7 L516.4 102.7 L516.4 121.7 L199 121.7Z" fill="#c0c0c0"/>
<path d="M199 102.7 L203 102.7 L206.9 102.8 L210.9 102.9 L214.9 103.1 L218.8 103.3 L222.8 103.5 L226.8 103.8 L230.7 104.1 L234.7 104.5 L238.7 104.9 L242.6 105.3 L246.6 105.7 L250.6 106.2 L254.5 106.7 L258.5 107.2 L262.5 107.8 L266.4 108.3 L270.4 108.9 L274.4 109.5 L278.4 110.1 L282.3 110.6 L286.3 111.2 L290.3 111.8 L294.2 112.3 L298.2 112.9 L302.2 113.4 L306.1 113.9 L310.1 114.4 L314.1 114.8 L318 115.2 L322 115.6 L326 116 L329.9 116.3 L333.9 116.6 L337.9 116.8 L341.8 117 L345.8 117.2 L349.8 117.3 L353.7 117.4 L357.7 117.4 L361.7 117.4 L365.6 117.3 L369.6 117.2 L373.6 117 L377.5 116.8 L381.5 116.6 L385.5 116.3 L389.4 116 L393.4 115.6 L397.4 115.2 L401.3 114.8 L405.3 114.4 L409.3 113.9 L413.2 113.4 L417.2 112.9 L421.2 112.3 L425.1 111.8 L429.1 111.2 L433.1 110.6 L437.1 110.1 L441 109.5 L445 108.9 L449 108.3 L452.9 107.8 L456.9 107.2 L460.9 106.7 L464.8 106.2 L468.8 105.7 L472.8 105.3 L476.7 104.9 L480.7 104.5 L484.7 104.1 L488.6 103.8 L492.6 103.5 L496.6 103.3 L500.5 103.1 L504.5 102.9 L508.5 102.8 L512.4 102.7 L516.4 102.7" fill="none" stroke="#000" stroke-width="2.3"/>
<path d="M230.7 121.7v-2.5M262.5 121.7v-2.5M294.2 121.7v-2.5M326 121.7v-2.5M357.7 121.7v-2.5M389.4 121.7v-2.5M421.2 121.7v-2.5M452.9 121.7v-2.5M484.7 121.7v-2.5" stroke="#444" stroke-width=".5" fill="none"/>
<path d="M199 102.7V121.7H516.4V102.7" fill="none" stroke="#bbb" stroke-width=".5"/>
<text x="230.7" y="131" font-size="7" text-anchor="middle">-0.04</text>
<text x="262.5" y="131" font-size="7" text-anchor="middle">-0.03</text>
<text x="294.2" y="131" font-size="7" text-anchor="middle">-0.02</text>
<text x="326" y="131" font-size="7" text-anchor="middle">-0.01</text>
<text x="357.7" y="131" font-size="7" text-anchor="middle">0</text>
<text x="389.4" y="131" font-size="7" text-anchor="middle">0.01</text>
<text x="421.2" y="131" font-size="7" text-anchor="middle">0.02</text>
<text x="452.9" y="131" font-size="7" text-anchor="middle">0.03</text>
<text x="484.7" y="131" font-size="7" text-anchor="middle">0.04</text>
<text x="357.7" y="141.3" font-size="8" text-anchor="middle">X [m]</text>
<text x="55.8" y="492.7" font-size="7" text-anchor="middle">-0.04</text>
<text x="87.4" y="492.7" font-size="7" text-anchor="middle">-0.03</text>
<text x="119.1" y="492.7" font-size="7" text-anchor="middle">-0.02</text>
<text x="150.7" y="492.7" font-size="7" text-anchor="middle">-0.01</text>
<text x="182.3" y="492.7" font-size="7" text-anchor="middle">0</text>
<text x="213.9" y="492.7" font-size="7" text-anchor="middle">0.01</text>
<text x="245.5" y="492.7" font-size="7" text-anchor="middle">0.02</text>
<text x="277.2" y="492.7" font-size="7" text-anchor="middle">0.03</text>
<text x="308.8" y="492.7" font-size="7" text-anchor="middle">0.04</text>
<text x="182.3" y="502.2" font-size="8" text-anchor="middle">X [m]</text>
<text x="398.1" y="492.7" font-size="7" text-anchor="middle">-0.04</text>
<text x="429.9" y="492.7" font-size="7" text-anchor="middle">-0.03</text>
<text x="461.6" y="492.7" font-size="7" text-anchor="middle">-0.02</text>
<text x="493.4" y="492.7" font-size="7" text-anchor="middle">-0.01</text>
<text x="525.1" y="492.7" font-size="7" text-anchor="middle">0</text>
<text x="556.9" y="492.7" font-size="7" text-anchor="middle">0.01</text>
<text x="588.6" y="492.7" font-size="7" text-anchor="middle">0.02</text>
<text x="620.4" y="492.7" font-size="7" text-anchor="middle">0.03</text>
<text x="652.1" y="492.7" font-size="7" text-anchor="middle">0.04</text>
<text x="525.1" y="502.2" font-size="8" text-anchor="middle">X [m]</text>
<rect x="157" y="506.6" width="30.1" height="11.8" fill="#0000ff"/>
<rect x="186.8" y="506.6" width="30.1" height="11.8" fill="#0040ff"/>
<rect x="216.6" y="506.6" width="30.1" height="11.8" fill="#0080ff"/>
<rect x="246.4" y="506.6" width="30.1" height="11.8" fill="#00bfff"/>
<rect x="276.3" y="506.6" width="30.1" height="11.8" fill="#00ffff"/>
<rect x="306.1" y="506.6" width="30.1" height="11.8" fill="#40ffbf"/>
<rect x="335.9" y="506.6" width="30.1" height="11.8" fill="#80ff80"/>
<rect x="365.7" y="506.6" width="30.1" height="11.8" fill="#bfff40"/>
<rect x="395.5" y="506.6" width="30.1" height="11.8" fill="#ffff00"/>
<rect x="425.3" y="506.6" width="30.1" height="11.8" fill="#ffbf00"/>
<rect x="455.2" y="506.6" width="30.1" height="11.8" fill="#ff8000"/>
<rect x="485" y="506.6" width="30.1" height="11.8" fill="#ff4000"/>
<rect x="514.8" y="506.6" width="30.1" height="11.8" fill="#ff0000"/>
<rect x="157" y="506.6" width="387.6" height="11.8" fill="none" stroke="#888" stroke-width=".5"/>
<path d="M186.8 518.4v-2M216.6 518.4v-2M246.4 518.4v-2M276.3 518.4v-2M306.1 518.4v-2M335.9 518.4v-2M365.7 518.4v-2M395.5 518.4v-2M425.3 518.4v-2M455.2 518.4v-2M485 518.4v-2M514.8 518.4v-2" stroke="#444" stroke-width=".5" fill="none"/>
<text x="157" y="531.8" font-size="10.5" text-anchor="middle">-120</text>
<text x="216.6" y="531.8" font-size="10.5" text-anchor="middle">-100</text>
<text x="276.3" y="531.8" font-size="10.5" text-anchor="middle">-80</text>
<text x="335.9" y="531.8" font-size="10.5" text-anchor="middle">-60</text>
<text x="395.5" y="531.8" font-size="10.5" text-anchor="middle">-40</text>
<text x="455.2" y="531.8" font-size="10.5" text-anchor="middle">-20</text>
<text x="514.8" y="531.8" font-size="10.5" text-anchor="middle">0</text>
</svg></body></html>
